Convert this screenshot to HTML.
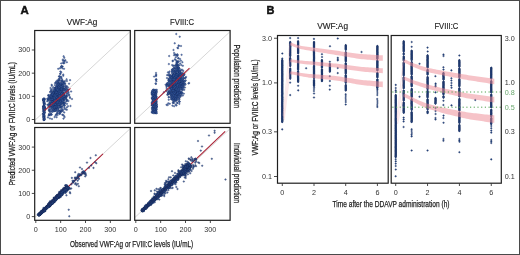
<!DOCTYPE html>
<html><head><meta charset="utf-8"><style>
html,body{margin:0;padding:0;background:#fff;width:520px;height:255px;overflow:hidden;}
svg{display:block;will-change:transform;font-family:"Liberation Sans",sans-serif;}
</style></head><body>
<svg width="520" height="255" viewBox="0 0 520 255" font-family="Liberation Sans, sans-serif"><defs><clipPath id="ctl"><rect x="34.7" y="30.5" width="95.6" height="92.8"/></clipPath><clipPath id="ctr"><rect x="134.7" y="30.5" width="95.4" height="92.8"/></clipPath><clipPath id="cbl"><rect x="34.7" y="127.5" width="95.6" height="92.8"/></clipPath><clipPath id="cbr"><rect x="134.7" y="127.5" width="95.4" height="92.8"/></clipPath><clipPath id="cbleft"><rect x="277.5" y="35.5" width="110.7" height="147.7"/></clipPath><clipPath id="cbright"><rect x="391.2" y="35.5" width="110.1" height="147.7"/></clipPath></defs><rect width="520" height="255" fill="#fff"/><line x1="30.83" y1="124.13" x2="140.17" y2="22.19" stroke="#c4c4c4" stroke-width="0.7" clip-path="url(#ctl)"/>
<line x1="130.83" y1="124.13" x2="240.17" y2="22.19" stroke="#c4c4c4" stroke-width="0.7" clip-path="url(#ctr)"/>
<line x1="30.83" y1="221.23" x2="140.17" y2="119.29" stroke="#c4c4c4" stroke-width="0.7" clip-path="url(#cbl)"/>
<line x1="130.83" y1="221.23" x2="240.17" y2="119.29" stroke="#c4c4c4" stroke-width="0.7" clip-path="url(#cbr)"/>
<line x1="38.4" y1="215" x2="103" y2="153.8" stroke="#aa2236" stroke-width="1.1"/>
<line x1="141.3" y1="211.2" x2="225.2" y2="131.4" stroke="#aa2236" stroke-width="1.1"/>
<g fill="#3f66b0" stroke="#152c60" stroke-width="0.45" fill-opacity="0.82" stroke-opacity="0.82" clip-path="url(#ctl)"><circle cx="51.84" cy="98.01" r="0.78"/><circle cx="58.67" cy="100.54" r="0.78"/><circle cx="53.45" cy="95.67" r="0.78"/><circle cx="59.19" cy="90.43" r="0.78"/><circle cx="62.96" cy="94.14" r="0.78"/><circle cx="63.47" cy="89.57" r="0.78"/><circle cx="64.67" cy="98.51" r="0.78"/><circle cx="54.58" cy="109.39" r="0.78"/><circle cx="53.36" cy="93.82" r="0.78"/><circle cx="62.98" cy="92.73" r="0.78"/><circle cx="58.23" cy="102.16" r="0.78"/><circle cx="62.26" cy="101.03" r="0.78"/><circle cx="57.27" cy="98.9" r="0.78"/><circle cx="64.13" cy="90.09" r="0.78"/><circle cx="61.42" cy="97.75" r="0.78"/><circle cx="59.96" cy="103.91" r="0.78"/><circle cx="61.61" cy="86.57" r="0.78"/><circle cx="59.97" cy="94.11" r="0.78"/><circle cx="61.37" cy="81.84" r="0.78"/><circle cx="60.47" cy="87.04" r="0.78"/><circle cx="63.75" cy="82.35" r="0.78"/><circle cx="55.44" cy="96" r="0.78"/><circle cx="66.36" cy="87.23" r="0.78"/><circle cx="56.46" cy="100.31" r="0.78"/><circle cx="61.83" cy="99.33" r="0.78"/><circle cx="57.3" cy="96.41" r="0.78"/><circle cx="60.94" cy="76.61" r="0.78"/><circle cx="67.4" cy="93.42" r="0.78"/><circle cx="56.03" cy="97.59" r="0.78"/><circle cx="51.14" cy="98.96" r="0.78"/><circle cx="57.42" cy="84.99" r="0.78"/><circle cx="56.79" cy="93.94" r="0.78"/><circle cx="68.24" cy="89.68" r="0.78"/><circle cx="59.68" cy="91.12" r="0.78"/><circle cx="60.6" cy="107.02" r="0.78"/><circle cx="54.41" cy="91.14" r="0.78"/><circle cx="59.11" cy="97.72" r="0.78"/><circle cx="59.55" cy="105.52" r="0.78"/><circle cx="66.41" cy="93.04" r="0.78"/><circle cx="54.35" cy="97.05" r="0.78"/><circle cx="60.08" cy="98.94" r="0.78"/><circle cx="58.72" cy="98.54" r="0.78"/><circle cx="55.43" cy="87.59" r="0.78"/><circle cx="57.18" cy="98.65" r="0.78"/><circle cx="54.72" cy="109.55" r="0.78"/><circle cx="51.68" cy="84.85" r="0.78"/><circle cx="59.23" cy="105.3" r="0.78"/><circle cx="59.76" cy="99.01" r="0.78"/><circle cx="56.55" cy="92.55" r="0.78"/><circle cx="49.24" cy="115" r="0.78"/><circle cx="63.5" cy="104.48" r="0.78"/><circle cx="60.5" cy="87.81" r="0.78"/><circle cx="62.08" cy="98.63" r="0.78"/><circle cx="63.38" cy="102.9" r="0.78"/><circle cx="55.31" cy="96.4" r="0.78"/><circle cx="60.42" cy="103.8" r="0.78"/><circle cx="56.39" cy="97.43" r="0.78"/><circle cx="56.3" cy="103.67" r="0.78"/><circle cx="55.47" cy="110.23" r="0.78"/><circle cx="58.54" cy="92.26" r="0.78"/><circle cx="62.39" cy="99.73" r="0.78"/><circle cx="58.75" cy="94.06" r="0.78"/><circle cx="56.45" cy="99.08" r="0.78"/><circle cx="58.31" cy="87.91" r="0.78"/><circle cx="59.9" cy="93.08" r="0.78"/><circle cx="53.6" cy="96.33" r="0.78"/><circle cx="54.01" cy="105.64" r="0.78"/><circle cx="55.9" cy="107.73" r="0.78"/><circle cx="57.47" cy="86.75" r="0.78"/><circle cx="58.23" cy="91.25" r="0.78"/><circle cx="53.72" cy="103.5" r="0.78"/><circle cx="66.89" cy="81.06" r="0.78"/><circle cx="64.17" cy="94.06" r="0.78"/><circle cx="59.66" cy="97.17" r="0.78"/><circle cx="55.79" cy="108.68" r="0.78"/><circle cx="66.95" cy="103.86" r="0.78"/><circle cx="59.43" cy="95.22" r="0.78"/><circle cx="57.63" cy="94.87" r="0.78"/><circle cx="59.22" cy="95.87" r="0.78"/><circle cx="57.2" cy="110.95" r="0.78"/><circle cx="64.5" cy="94.36" r="0.78"/><circle cx="57.83" cy="95.42" r="0.78"/><circle cx="66.93" cy="101" r="0.78"/><circle cx="53.51" cy="96.97" r="0.78"/><circle cx="60.94" cy="96.32" r="0.78"/><circle cx="55.19" cy="88.53" r="0.78"/><circle cx="65.95" cy="97.9" r="0.78"/><circle cx="56.66" cy="94.23" r="0.78"/><circle cx="55.85" cy="107.91" r="0.78"/><circle cx="60.99" cy="103.55" r="0.78"/><circle cx="63.33" cy="97.79" r="0.78"/><circle cx="51.32" cy="103.68" r="0.78"/><circle cx="56.4" cy="95.11" r="0.78"/><circle cx="49.69" cy="106.94" r="0.78"/><circle cx="58.05" cy="97.95" r="0.78"/><circle cx="56.19" cy="102.96" r="0.78"/><circle cx="58.24" cy="87.03" r="0.78"/><circle cx="53.62" cy="100.95" r="0.78"/><circle cx="58.95" cy="83.65" r="0.78"/><circle cx="58.63" cy="80.7" r="0.78"/><circle cx="60.34" cy="95.41" r="0.78"/><circle cx="65.48" cy="90.35" r="0.78"/><circle cx="47.91" cy="99.39" r="0.78"/><circle cx="54.58" cy="117.08" r="0.78"/><circle cx="57" cy="90.93" r="0.78"/><circle cx="60.64" cy="92.7" r="0.78"/><circle cx="52.49" cy="99.75" r="0.78"/><circle cx="56.06" cy="102.19" r="0.78"/><circle cx="52.89" cy="96.5" r="0.78"/><circle cx="60.96" cy="96.25" r="0.78"/><circle cx="57.03" cy="103.97" r="0.78"/><circle cx="55.96" cy="102.42" r="0.78"/><circle cx="60.71" cy="89.21" r="0.78"/><circle cx="56.38" cy="97.33" r="0.78"/><circle cx="50.01" cy="98.3" r="0.78"/><circle cx="61.68" cy="89.04" r="0.78"/><circle cx="58.36" cy="100.21" r="0.78"/><circle cx="58.19" cy="90.71" r="0.78"/><circle cx="60.93" cy="106.26" r="0.78"/><circle cx="62.9" cy="99.64" r="0.78"/><circle cx="52.07" cy="98.76" r="0.78"/><circle cx="54.93" cy="92.98" r="0.78"/><circle cx="64.8" cy="96.99" r="0.78"/><circle cx="65.1" cy="81.02" r="0.78"/><circle cx="56.31" cy="88.38" r="0.78"/><circle cx="51.23" cy="101.08" r="0.78"/><circle cx="59.2" cy="79.91" r="0.78"/><circle cx="54.07" cy="105.2" r="0.78"/><circle cx="55.05" cy="83.16" r="0.78"/><circle cx="56.65" cy="104.43" r="0.78"/><circle cx="53.28" cy="90.81" r="0.78"/><circle cx="50.77" cy="104.62" r="0.78"/><circle cx="61.53" cy="99.11" r="0.78"/><circle cx="57.55" cy="84.94" r="0.78"/><circle cx="55.71" cy="108.62" r="0.78"/><circle cx="58.77" cy="110.25" r="0.78"/><circle cx="61.31" cy="97.44" r="0.78"/><circle cx="56.32" cy="95.67" r="0.78"/><circle cx="57.88" cy="96.64" r="0.78"/><circle cx="55.54" cy="89.71" r="0.78"/><circle cx="64.36" cy="107.34" r="0.78"/><circle cx="61.23" cy="93.39" r="0.78"/><circle cx="52.33" cy="97.56" r="0.78"/><circle cx="58.77" cy="91.26" r="0.78"/><circle cx="61.63" cy="92.68" r="0.78"/><circle cx="61.45" cy="87.14" r="0.78"/><circle cx="64.55" cy="108.69" r="0.78"/><circle cx="64.02" cy="96.69" r="0.78"/><circle cx="53.78" cy="106.21" r="0.78"/><circle cx="56.96" cy="98.11" r="0.78"/><circle cx="52.94" cy="92.1" r="0.78"/><circle cx="59.09" cy="95.22" r="0.78"/><circle cx="59.03" cy="93.24" r="0.78"/><circle cx="70.1" cy="98.07" r="0.78"/><circle cx="58.48" cy="94.81" r="0.78"/><circle cx="48.34" cy="95.45" r="0.78"/><circle cx="57.2" cy="86.28" r="0.78"/><circle cx="59.26" cy="91.14" r="0.78"/><circle cx="49.88" cy="112.06" r="0.78"/><circle cx="54.71" cy="92.29" r="0.78"/><circle cx="57.67" cy="89.04" r="0.78"/><circle cx="58.54" cy="100.87" r="0.78"/><circle cx="55.13" cy="109.96" r="0.78"/><circle cx="56.58" cy="85.64" r="0.78"/><circle cx="61.39" cy="96.23" r="0.78"/><circle cx="56.08" cy="92.63" r="0.78"/><circle cx="58.73" cy="83.03" r="0.78"/><circle cx="50" cy="104.25" r="0.78"/><circle cx="53.75" cy="97.8" r="0.78"/><circle cx="60.36" cy="98.61" r="0.78"/><circle cx="51.59" cy="91.61" r="0.78"/><circle cx="56.45" cy="101.87" r="0.78"/><circle cx="61.53" cy="93.42" r="0.78"/><circle cx="55.89" cy="96.79" r="0.78"/><circle cx="60.27" cy="88.58" r="0.78"/><circle cx="55.02" cy="87.66" r="0.78"/><circle cx="62.05" cy="109.35" r="0.78"/><circle cx="63.2" cy="93.69" r="0.78"/><circle cx="58.08" cy="100.48" r="0.78"/><circle cx="49.23" cy="97.71" r="0.78"/><circle cx="53.43" cy="94.25" r="0.78"/><circle cx="62.64" cy="93.68" r="0.78"/><circle cx="64.75" cy="103.36" r="0.78"/><circle cx="59.27" cy="95.43" r="0.78"/><circle cx="63.44" cy="96.71" r="0.78"/><circle cx="54.5" cy="98.19" r="0.78"/><circle cx="55.23" cy="108" r="0.78"/><circle cx="56.58" cy="103.78" r="0.78"/><circle cx="58.88" cy="101.25" r="0.78"/><circle cx="51.54" cy="93.21" r="0.78"/><circle cx="63.31" cy="86.25" r="0.78"/><circle cx="62.54" cy="106.07" r="0.78"/><circle cx="50.91" cy="106.21" r="0.78"/><circle cx="51.35" cy="96.8" r="0.78"/><circle cx="58.38" cy="102.61" r="0.78"/><circle cx="53.39" cy="104.64" r="0.78"/><circle cx="60.15" cy="105.83" r="0.78"/><circle cx="58.88" cy="94.13" r="0.78"/><circle cx="53.59" cy="110.88" r="0.78"/><circle cx="67.85" cy="87.4" r="0.78"/><circle cx="57.06" cy="105.32" r="0.78"/><circle cx="53.17" cy="102.2" r="0.78"/><circle cx="56.87" cy="105.43" r="0.78"/><circle cx="50.7" cy="113.97" r="0.78"/><circle cx="52.3" cy="110.62" r="0.78"/><circle cx="60.92" cy="88.27" r="0.78"/><circle cx="58.37" cy="83.65" r="0.78"/><circle cx="54.32" cy="104.94" r="0.78"/><circle cx="66.16" cy="89.37" r="0.78"/><circle cx="61.46" cy="97.89" r="0.78"/><circle cx="60.21" cy="105.14" r="0.78"/><circle cx="62.03" cy="84.03" r="0.78"/><circle cx="62.38" cy="80.07" r="0.78"/><circle cx="63.96" cy="100.2" r="0.78"/><circle cx="57.23" cy="98.38" r="0.78"/><circle cx="66.34" cy="95.91" r="0.78"/><circle cx="52.85" cy="98.33" r="0.78"/><circle cx="57.76" cy="90.69" r="0.78"/><circle cx="54.97" cy="85.14" r="0.78"/><circle cx="56.09" cy="96.58" r="0.78"/><circle cx="61.26" cy="89.74" r="0.78"/><circle cx="65.24" cy="84.03" r="0.78"/><circle cx="53.59" cy="102.3" r="0.78"/><circle cx="57.53" cy="97.48" r="0.78"/><circle cx="55.12" cy="101.46" r="0.78"/><circle cx="55.95" cy="89.59" r="0.78"/><circle cx="53.26" cy="92.41" r="0.78"/><circle cx="59.36" cy="89.51" r="0.78"/><circle cx="51.42" cy="90.46" r="0.78"/><circle cx="57.6" cy="99.66" r="0.78"/><circle cx="58.82" cy="91.34" r="0.78"/><circle cx="53.74" cy="101.03" r="0.78"/><circle cx="52.06" cy="100.89" r="0.78"/><circle cx="49.02" cy="115.21" r="0.78"/><circle cx="66.83" cy="86.16" r="0.78"/><circle cx="50.07" cy="105.55" r="0.78"/><circle cx="64.81" cy="97.24" r="0.78"/><circle cx="60.24" cy="97.88" r="0.78"/><circle cx="58.52" cy="85.68" r="0.78"/><circle cx="52.97" cy="94.09" r="0.78"/><circle cx="61.45" cy="104.32" r="0.78"/><circle cx="65.61" cy="97.3" r="0.78"/><circle cx="52.84" cy="98.69" r="0.78"/><circle cx="56.53" cy="95.53" r="0.78"/><circle cx="61.04" cy="107.81" r="0.78"/><circle cx="59.01" cy="97.82" r="0.78"/><circle cx="66.6" cy="79.3" r="0.78"/><circle cx="56.06" cy="92.12" r="0.78"/><circle cx="62.42" cy="81.27" r="0.78"/><circle cx="52.7" cy="93.49" r="0.78"/><circle cx="65.7" cy="109.34" r="0.78"/><circle cx="53.87" cy="98.4" r="0.78"/><circle cx="50.5" cy="88.03" r="0.78"/><circle cx="58.46" cy="90" r="0.78"/><circle cx="55.5" cy="107.61" r="0.78"/><circle cx="66.26" cy="99.34" r="0.78"/><circle cx="55.72" cy="98.41" r="0.78"/><circle cx="57.43" cy="97.55" r="0.78"/><circle cx="60.13" cy="98.33" r="0.78"/><circle cx="63.95" cy="104.85" r="0.78"/><circle cx="56.4" cy="102.7" r="0.78"/><circle cx="62.01" cy="99.83" r="0.78"/><circle cx="61.34" cy="89.14" r="0.78"/><circle cx="55.33" cy="102.34" r="0.78"/><circle cx="58.91" cy="92.18" r="0.78"/><circle cx="56.32" cy="107.3" r="0.78"/><circle cx="55.98" cy="87.2" r="0.78"/><circle cx="63.27" cy="96.83" r="0.78"/><circle cx="50.9" cy="97.94" r="0.78"/><circle cx="64.16" cy="86.74" r="0.78"/><circle cx="59.98" cy="112.64" r="0.78"/><circle cx="55.41" cy="110.41" r="0.78"/><circle cx="54.74" cy="94.06" r="0.78"/><circle cx="55.42" cy="104.56" r="0.78"/><circle cx="59.12" cy="101.22" r="0.78"/><circle cx="63.26" cy="75.78" r="0.78"/><circle cx="58.36" cy="100.13" r="0.78"/><circle cx="62.14" cy="97.48" r="0.78"/><circle cx="54.62" cy="98.71" r="0.78"/><circle cx="60.2" cy="88.85" r="0.78"/><circle cx="50.67" cy="95.71" r="0.78"/><circle cx="61.23" cy="96.48" r="0.78"/><circle cx="56.81" cy="108.1" r="0.78"/><circle cx="54.92" cy="100.84" r="0.78"/><circle cx="62.87" cy="97.95" r="0.78"/><circle cx="58.97" cy="111" r="0.78"/><circle cx="58.24" cy="94.69" r="0.78"/><circle cx="55.72" cy="82.56" r="0.78"/><circle cx="60.66" cy="111.34" r="0.78"/><circle cx="68" cy="106.2" r="0.78"/><circle cx="53.92" cy="105.79" r="0.78"/><circle cx="56.94" cy="103.69" r="0.78"/><circle cx="56.02" cy="98.94" r="0.78"/><circle cx="58.71" cy="99.83" r="0.78"/><circle cx="60.79" cy="95.86" r="0.78"/><circle cx="63.68" cy="96.27" r="0.78"/><circle cx="52.64" cy="98.46" r="0.78"/><circle cx="63.05" cy="110.85" r="0.78"/><circle cx="52.27" cy="102.72" r="0.78"/><circle cx="58.79" cy="97.5" r="0.78"/><circle cx="63.54" cy="93.08" r="0.78"/><circle cx="61.64" cy="92.6" r="0.78"/><circle cx="51.39" cy="111.62" r="0.78"/><circle cx="53.4" cy="102.31" r="0.78"/><circle cx="55.1" cy="98.57" r="0.78"/><circle cx="57.76" cy="95.06" r="0.78"/><circle cx="63.99" cy="88.57" r="0.78"/><circle cx="51.48" cy="97.43" r="0.78"/><circle cx="58.6" cy="105.43" r="0.78"/><circle cx="60.83" cy="94.66" r="0.78"/><circle cx="60.36" cy="96.07" r="0.78"/><circle cx="59.92" cy="96.12" r="0.78"/><circle cx="64.42" cy="98.93" r="0.78"/><circle cx="61.83" cy="84.46" r="0.78"/><circle cx="61.74" cy="96" r="0.78"/><circle cx="61.3" cy="90.74" r="0.78"/><circle cx="64.83" cy="105.52" r="0.78"/><circle cx="50.4" cy="91.45" r="0.78"/><circle cx="62.77" cy="102.9" r="0.78"/><circle cx="54.58" cy="110.96" r="0.78"/><circle cx="56.65" cy="95.33" r="0.78"/><circle cx="54.11" cy="92.89" r="0.78"/><circle cx="48.14" cy="99.63" r="0.78"/><circle cx="55.61" cy="97.98" r="0.78"/><circle cx="56.18" cy="89.55" r="0.78"/><circle cx="59.14" cy="101.92" r="0.78"/><circle cx="48.62" cy="115.13" r="0.78"/><circle cx="64.41" cy="95.81" r="0.78"/><circle cx="59" cy="96.28" r="0.78"/><circle cx="58.14" cy="89.12" r="0.78"/><circle cx="53.52" cy="100.71" r="0.78"/><circle cx="56.42" cy="87.4" r="0.78"/><circle cx="54.64" cy="88.59" r="0.78"/><circle cx="53.48" cy="108.88" r="0.78"/><circle cx="58.97" cy="90.3" r="0.78"/><circle cx="55.37" cy="107.19" r="0.78"/><circle cx="49.25" cy="110.96" r="0.78"/><circle cx="55.7" cy="100.2" r="0.78"/><circle cx="52.45" cy="102.7" r="0.78"/><circle cx="56.11" cy="114.59" r="0.78"/><circle cx="66.34" cy="96.33" r="0.78"/><circle cx="61.19" cy="92.96" r="0.78"/><circle cx="58.5" cy="86.5" r="0.78"/><circle cx="49.66" cy="98.35" r="0.78"/><circle cx="49.28" cy="110.57" r="0.78"/><circle cx="48.39" cy="106.16" r="0.78"/><circle cx="62.12" cy="89.99" r="0.78"/><circle cx="55.54" cy="90.73" r="0.78"/><circle cx="58.54" cy="93.71" r="0.78"/><circle cx="53.97" cy="100.48" r="0.78"/><circle cx="58.17" cy="96.25" r="0.78"/><circle cx="63.75" cy="99.82" r="0.78"/><circle cx="53.66" cy="100.52" r="0.78"/><circle cx="56.35" cy="95.46" r="0.78"/><circle cx="53.69" cy="97.66" r="0.78"/><circle cx="61.24" cy="99.76" r="0.78"/><circle cx="52.76" cy="97.29" r="0.78"/><circle cx="51.35" cy="102.28" r="0.78"/><circle cx="49.12" cy="113.9" r="0.78"/><circle cx="49.97" cy="103.03" r="0.78"/><circle cx="59.53" cy="98.47" r="0.78"/><circle cx="69.08" cy="83.67" r="0.78"/><circle cx="52.1" cy="101.3" r="0.78"/><circle cx="63.67" cy="81.45" r="0.78"/><circle cx="60.74" cy="86.02" r="0.78"/><circle cx="51.22" cy="105.26" r="0.78"/><circle cx="55.25" cy="104" r="0.78"/><circle cx="56.58" cy="96.73" r="0.78"/><circle cx="57.96" cy="83.46" r="0.78"/><circle cx="66.8" cy="94.84" r="0.78"/><circle cx="50.14" cy="92.23" r="0.78"/><circle cx="58.43" cy="103.41" r="0.78"/><circle cx="56.59" cy="117.19" r="0.78"/><circle cx="54.25" cy="99.84" r="0.78"/><circle cx="59.38" cy="91.38" r="0.78"/><circle cx="62.93" cy="88.05" r="0.78"/><circle cx="58.21" cy="97.52" r="0.78"/><circle cx="59.63" cy="96.5" r="0.78"/><circle cx="62.17" cy="88.21" r="0.78"/><circle cx="47.55" cy="98.99" r="0.78"/><circle cx="65.35" cy="88.22" r="0.78"/><circle cx="66.82" cy="107.45" r="0.78"/><circle cx="60.81" cy="107.03" r="0.78"/><circle cx="60.94" cy="107.22" r="0.78"/><circle cx="51.87" cy="93.97" r="0.78"/><circle cx="56.17" cy="102.37" r="0.78"/><circle cx="53.85" cy="96.88" r="0.78"/><circle cx="55.4" cy="94.7" r="0.78"/><circle cx="62.38" cy="95.12" r="0.78"/><circle cx="56.49" cy="86.95" r="0.78"/><circle cx="59.37" cy="85.73" r="0.78"/><circle cx="47.46" cy="104.75" r="0.78"/><circle cx="56.99" cy="96.37" r="0.78"/><circle cx="57.46" cy="99.84" r="0.78"/><circle cx="52.97" cy="106.51" r="0.78"/><circle cx="57.92" cy="83.27" r="0.78"/><circle cx="66.97" cy="91.33" r="0.78"/><circle cx="51.33" cy="99.49" r="0.78"/><circle cx="51.83" cy="101.33" r="0.78"/><circle cx="54.37" cy="94.79" r="0.78"/><circle cx="61.87" cy="106.75" r="0.78"/><circle cx="67.11" cy="99.79" r="0.78"/><circle cx="60.79" cy="87.69" r="0.78"/><circle cx="55.89" cy="90.09" r="0.78"/><circle cx="54.44" cy="104.85" r="0.78"/><circle cx="61.86" cy="101.94" r="0.78"/><circle cx="57.73" cy="81.86" r="0.78"/><circle cx="62.69" cy="109.46" r="0.78"/><circle cx="63.38" cy="103.08" r="0.78"/><circle cx="56.28" cy="109.42" r="0.78"/><circle cx="60.98" cy="94.74" r="0.78"/><circle cx="61.33" cy="95.49" r="0.78"/><circle cx="65.66" cy="88.43" r="0.78"/><circle cx="52.83" cy="96.51" r="0.78"/><circle cx="61.17" cy="111.49" r="0.78"/><circle cx="56.84" cy="92.5" r="0.78"/><circle cx="53.46" cy="99.39" r="0.78"/><circle cx="60.6" cy="83.79" r="0.78"/><circle cx="57.08" cy="94.75" r="0.78"/><circle cx="51.66" cy="106.36" r="0.78"/><circle cx="53.24" cy="87.36" r="0.78"/><circle cx="51.8" cy="107.11" r="0.78"/><circle cx="63.85" cy="100.87" r="0.78"/><circle cx="67.38" cy="89.13" r="0.78"/><circle cx="61.17" cy="93.74" r="0.78"/><circle cx="63.52" cy="94.1" r="0.78"/><circle cx="55.07" cy="97.58" r="0.78"/><circle cx="57.97" cy="93.44" r="0.78"/><circle cx="60.04" cy="90.97" r="0.78"/><circle cx="52.98" cy="95.41" r="0.78"/><circle cx="54.99" cy="89.27" r="0.78"/><circle cx="59.97" cy="87.04" r="0.78"/><circle cx="55.98" cy="97.59" r="0.78"/><circle cx="51.38" cy="105.5" r="0.78"/><circle cx="61.4" cy="85" r="0.78"/><circle cx="56.16" cy="98.03" r="0.78"/><circle cx="63.02" cy="92.48" r="0.78"/><circle cx="59.04" cy="89.69" r="0.78"/><circle cx="55" cy="105.25" r="0.78"/><circle cx="58.85" cy="93.6" r="0.78"/><circle cx="55.01" cy="110.74" r="0.78"/><circle cx="55.81" cy="91.37" r="0.78"/><circle cx="54.94" cy="101.29" r="0.78"/><circle cx="61.24" cy="96.07" r="0.78"/><circle cx="61.51" cy="91.59" r="0.78"/><circle cx="62.78" cy="103" r="0.78"/><circle cx="49.82" cy="96.68" r="0.78"/><circle cx="54.79" cy="103.13" r="0.78"/><circle cx="55.54" cy="97.6" r="0.78"/><circle cx="59.96" cy="88.77" r="0.78"/><circle cx="55.47" cy="97.13" r="0.78"/><circle cx="54.89" cy="98.44" r="0.78"/><circle cx="60" cy="106.15" r="0.78"/><circle cx="59.71" cy="90.3" r="0.78"/><circle cx="52" cy="97.67" r="0.78"/><circle cx="64.85" cy="83.36" r="0.78"/><circle cx="61.33" cy="103.54" r="0.78"/><circle cx="56.86" cy="88.81" r="0.78"/><circle cx="63.2" cy="82.65" r="0.78"/><circle cx="54.06" cy="97.5" r="0.78"/><circle cx="61.44" cy="107.4" r="0.78"/><circle cx="59.2" cy="85.04" r="0.78"/><circle cx="55.94" cy="88.75" r="0.78"/><circle cx="57.03" cy="91.68" r="0.78"/><circle cx="56.2" cy="88.4" r="0.78"/><circle cx="57.78" cy="101.23" r="0.78"/><circle cx="59.54" cy="91.14" r="0.78"/><circle cx="58.78" cy="91.87" r="0.78"/><circle cx="54.03" cy="102.96" r="0.78"/><circle cx="57.26" cy="101.68" r="0.78"/><circle cx="50.96" cy="89.74" r="0.78"/><circle cx="60.43" cy="87.7" r="0.78"/><circle cx="64.2" cy="82.4" r="0.78"/><circle cx="56.72" cy="113.82" r="0.78"/><circle cx="56.17" cy="95.28" r="0.78"/><circle cx="56.13" cy="100.07" r="0.78"/><circle cx="56.83" cy="97.74" r="0.78"/><circle cx="54.51" cy="99.36" r="0.78"/><circle cx="54.56" cy="98.42" r="0.78"/><circle cx="51.2" cy="114.22" r="0.78"/><circle cx="64.14" cy="89.17" r="0.78"/><circle cx="59.99" cy="84.76" r="0.78"/><circle cx="63.15" cy="89.4" r="0.78"/><circle cx="58.71" cy="86.65" r="0.78"/><circle cx="56.86" cy="104.35" r="0.78"/><circle cx="55.64" cy="104.97" r="0.78"/><circle cx="61.01" cy="89.83" r="0.78"/><circle cx="62.88" cy="86.18" r="0.78"/><circle cx="59.09" cy="94.98" r="0.78"/><circle cx="52.78" cy="109.82" r="0.78"/><circle cx="60.29" cy="74.03" r="0.78"/><circle cx="64.62" cy="102.48" r="0.78"/><circle cx="58.07" cy="88.86" r="0.78"/><circle cx="54.88" cy="106.84" r="0.78"/><circle cx="65.3" cy="88.84" r="0.78"/><circle cx="62.87" cy="95.57" r="0.78"/><circle cx="61.9" cy="85.2" r="0.78"/><circle cx="57.36" cy="89.69" r="0.78"/><circle cx="66.83" cy="109.78" r="0.78"/><circle cx="58.3" cy="104.97" r="0.78"/><circle cx="60.56" cy="94.59" r="0.78"/><circle cx="58.14" cy="90.6" r="0.78"/><circle cx="56.12" cy="81.9" r="0.78"/><circle cx="52.02" cy="94.65" r="0.78"/><circle cx="59.36" cy="97.74" r="0.78"/><circle cx="59.37" cy="97.29" r="0.78"/><circle cx="56.44" cy="97.2" r="0.78"/><circle cx="54.52" cy="88.46" r="0.78"/><circle cx="50.78" cy="97.44" r="0.78"/><circle cx="55.93" cy="97.67" r="0.78"/><circle cx="49.23" cy="108.97" r="0.78"/><circle cx="59.57" cy="113.87" r="0.78"/><circle cx="62.98" cy="96.84" r="0.78"/><circle cx="71.08" cy="91.49" r="0.78"/><circle cx="61.61" cy="97.45" r="0.78"/><circle cx="55.8" cy="92.84" r="0.78"/><circle cx="54.84" cy="91.69" r="0.78"/><circle cx="56.69" cy="89.13" r="0.78"/><circle cx="55.81" cy="103.15" r="0.78"/><circle cx="62.08" cy="97.12" r="0.78"/><circle cx="59.92" cy="100.13" r="0.78"/><circle cx="60.43" cy="96.45" r="0.78"/><circle cx="59.57" cy="91.82" r="0.78"/><circle cx="61.85" cy="89.94" r="0.78"/><circle cx="64.46" cy="95.98" r="0.78"/><circle cx="53.58" cy="93.34" r="0.78"/><circle cx="54.81" cy="99.99" r="0.78"/><circle cx="50.88" cy="97.96" r="0.78"/><circle cx="65.88" cy="86.42" r="0.78"/><circle cx="63.42" cy="98.57" r="0.78"/><circle cx="62.56" cy="86.59" r="0.78"/><circle cx="53.13" cy="92.76" r="0.78"/><circle cx="58.69" cy="95.5" r="0.78"/><circle cx="60.24" cy="80.36" r="0.78"/><circle cx="57.63" cy="98.78" r="0.78"/><circle cx="56.25" cy="99.28" r="0.78"/><circle cx="60.08" cy="96.66" r="0.78"/><circle cx="56.34" cy="94.39" r="0.78"/><circle cx="61.92" cy="94.82" r="0.78"/><circle cx="60.09" cy="89.7" r="0.78"/><circle cx="56.51" cy="95.71" r="0.78"/><circle cx="57.84" cy="93.3" r="0.78"/><circle cx="55.16" cy="98.78" r="0.78"/><circle cx="62.7" cy="87.76" r="0.78"/><circle cx="55.7" cy="100" r="0.78"/><circle cx="58.56" cy="99.22" r="0.78"/><circle cx="55.82" cy="96.8" r="0.78"/><circle cx="51.44" cy="94.27" r="0.78"/><circle cx="61.01" cy="102.69" r="0.78"/><circle cx="56.57" cy="83.85" r="0.78"/><circle cx="60.03" cy="101.91" r="0.78"/><circle cx="59.01" cy="100.07" r="0.78"/><circle cx="49.02" cy="100.41" r="0.78"/><circle cx="52.35" cy="101.26" r="0.78"/><circle cx="56.24" cy="92.44" r="0.78"/><circle cx="54.07" cy="95.79" r="0.78"/><circle cx="51.01" cy="103.41" r="0.78"/><circle cx="60.35" cy="101.66" r="0.78"/><circle cx="55.9" cy="99.76" r="0.78"/><circle cx="61.37" cy="85.13" r="0.78"/><circle cx="54.67" cy="102.57" r="0.78"/><circle cx="57.54" cy="107.94" r="0.78"/><circle cx="52.75" cy="106.58" r="0.78"/><circle cx="56.88" cy="99.99" r="0.78"/><circle cx="62.13" cy="84.76" r="0.78"/><circle cx="56.54" cy="106.01" r="0.78"/><circle cx="55.53" cy="96.75" r="0.78"/><circle cx="59.05" cy="76.47" r="0.78"/><circle cx="57.67" cy="101.21" r="0.78"/><circle cx="61.2" cy="85.32" r="0.78"/><circle cx="58.6" cy="86.98" r="0.78"/><circle cx="55.07" cy="92.6" r="0.78"/><circle cx="58.54" cy="108.82" r="0.78"/><circle cx="69.3" cy="94.85" r="0.78"/><circle cx="55.52" cy="100.3" r="0.78"/><circle cx="57.12" cy="112.86" r="0.78"/><circle cx="57.46" cy="111.55" r="0.78"/><circle cx="58.38" cy="95.95" r="0.78"/><circle cx="56.77" cy="87.28" r="0.78"/><circle cx="64.68" cy="92.1" r="0.78"/><circle cx="55.61" cy="101.62" r="0.78"/><circle cx="53.13" cy="101.36" r="0.78"/><circle cx="56.18" cy="98.94" r="0.78"/><circle cx="57.06" cy="106.46" r="0.78"/><circle cx="56.27" cy="91.43" r="0.78"/><circle cx="57.25" cy="97.52" r="0.78"/><circle cx="50.13" cy="104.22" r="0.78"/><circle cx="55.6" cy="102.97" r="0.78"/><circle cx="59.84" cy="107.1" r="0.78"/><circle cx="66.25" cy="101.37" r="0.78"/><circle cx="61.15" cy="95.37" r="0.78"/><circle cx="58.18" cy="101.08" r="0.78"/><circle cx="64.11" cy="89.48" r="0.78"/><circle cx="63.74" cy="84.06" r="0.78"/><circle cx="64.58" cy="102.94" r="0.78"/><circle cx="62.56" cy="97.53" r="0.78"/><circle cx="56.37" cy="100.62" r="0.78"/><circle cx="61.17" cy="83.57" r="0.78"/><circle cx="58.83" cy="94.9" r="0.78"/><circle cx="59.76" cy="92.9" r="0.78"/><circle cx="59.74" cy="90.65" r="0.78"/><circle cx="59.08" cy="78.83" r="0.78"/><circle cx="48.38" cy="95.15" r="0.78"/><circle cx="53.21" cy="105.63" r="0.78"/><circle cx="47.18" cy="101.24" r="0.78"/><circle cx="58.72" cy="92.89" r="0.78"/><circle cx="57.45" cy="97.87" r="0.78"/><circle cx="48.59" cy="104.43" r="0.78"/><circle cx="63.26" cy="74.54" r="0.78"/><circle cx="61.64" cy="96.94" r="0.78"/><circle cx="57.17" cy="102.62" r="0.78"/><circle cx="64.48" cy="103.8" r="0.78"/><circle cx="64.21" cy="112.46" r="0.78"/><circle cx="50.52" cy="107.65" r="0.78"/><circle cx="61.89" cy="100.66" r="0.78"/><circle cx="59.05" cy="100.57" r="0.78"/><circle cx="58.45" cy="104.69" r="0.78"/><circle cx="62.49" cy="93.42" r="0.78"/><circle cx="54.1" cy="97.66" r="0.78"/><circle cx="53.58" cy="105.7" r="0.78"/><circle cx="51.61" cy="114.64" r="0.78"/><circle cx="54.17" cy="96.65" r="0.78"/><circle cx="57.02" cy="97.59" r="0.78"/><circle cx="50.12" cy="99.69" r="0.78"/><circle cx="51.1" cy="109.42" r="0.78"/><circle cx="60.16" cy="97.74" r="0.78"/><circle cx="55.51" cy="110.49" r="0.78"/><circle cx="60.68" cy="89.78" r="0.78"/><circle cx="48.99" cy="96.42" r="0.78"/><circle cx="54.12" cy="96.32" r="0.78"/><circle cx="53.86" cy="104.69" r="0.78"/><circle cx="56.39" cy="106.88" r="0.78"/><circle cx="57.83" cy="85.17" r="0.78"/><circle cx="62.98" cy="90.22" r="0.78"/><circle cx="56.63" cy="100.86" r="0.78"/><circle cx="58.59" cy="92.4" r="0.78"/><circle cx="60.04" cy="85.06" r="0.78"/><circle cx="59.56" cy="106.83" r="0.78"/><circle cx="54.51" cy="102.2" r="0.78"/><circle cx="62.1" cy="102.19" r="0.78"/><circle cx="60.28" cy="93.96" r="0.78"/><circle cx="56.97" cy="106.75" r="0.78"/><circle cx="58" cy="95.96" r="0.78"/><circle cx="58.62" cy="107.32" r="0.78"/><circle cx="63.33" cy="90.25" r="0.78"/><circle cx="62.95" cy="90.74" r="0.78"/><circle cx="58.85" cy="99.74" r="0.78"/><circle cx="62.45" cy="92.03" r="0.78"/><circle cx="57.15" cy="103.74" r="0.78"/><circle cx="62.98" cy="100.21" r="0.78"/><circle cx="58.85" cy="90.15" r="0.78"/><circle cx="47.46" cy="98.62" r="0.78"/><circle cx="64.09" cy="95.01" r="0.78"/><circle cx="56.86" cy="105.78" r="0.78"/><circle cx="53.29" cy="92.62" r="0.78"/><circle cx="57.25" cy="94.27" r="0.78"/><circle cx="51.96" cy="108.3" r="0.78"/><circle cx="64.59" cy="117.03" r="0.78"/><circle cx="57.6" cy="114.99" r="0.78"/><circle cx="49.88" cy="98.54" r="0.78"/><circle cx="59.65" cy="99.86" r="0.78"/><circle cx="53.93" cy="111.03" r="0.78"/><circle cx="66.52" cy="96.94" r="0.78"/><circle cx="54.58" cy="89.7" r="0.78"/><circle cx="57.11" cy="101.84" r="0.78"/><circle cx="57.3" cy="90.95" r="0.78"/><circle cx="58.75" cy="84.01" r="0.78"/><circle cx="51.88" cy="85.79" r="0.78"/><circle cx="58.62" cy="103.66" r="0.78"/><circle cx="66.01" cy="91.55" r="0.78"/><circle cx="48.78" cy="96.8" r="0.78"/><circle cx="62.65" cy="99.81" r="0.78"/><circle cx="53.94" cy="103.26" r="0.78"/><circle cx="68.68" cy="95.15" r="0.78"/><circle cx="58.83" cy="102.24" r="0.78"/><circle cx="58.1" cy="90.43" r="0.78"/><circle cx="63.04" cy="94.93" r="0.78"/><circle cx="61.35" cy="89.29" r="0.78"/><circle cx="53.38" cy="107.62" r="0.78"/><circle cx="60.78" cy="97.77" r="0.78"/><circle cx="56.42" cy="91.72" r="0.78"/><circle cx="49.86" cy="95" r="0.78"/><circle cx="67.13" cy="96.12" r="0.78"/><circle cx="54.91" cy="103.95" r="0.78"/><circle cx="57.96" cy="84.44" r="0.78"/><circle cx="60.58" cy="89.18" r="0.78"/><circle cx="50.96" cy="94.79" r="0.78"/><circle cx="49.96" cy="106.12" r="0.78"/><circle cx="55.26" cy="97.05" r="0.78"/><circle cx="54.09" cy="104.05" r="0.78"/><circle cx="55.61" cy="115.49" r="0.78"/><circle cx="62.96" cy="96.01" r="0.78"/><circle cx="55.87" cy="94.89" r="0.78"/><circle cx="58.37" cy="108.3" r="0.78"/><circle cx="59.62" cy="102.2" r="0.78"/><circle cx="51.45" cy="103.71" r="0.78"/><circle cx="59.29" cy="93.68" r="0.78"/><circle cx="51.11" cy="114.36" r="0.78"/><circle cx="60.49" cy="112.53" r="0.78"/><circle cx="58.85" cy="102.81" r="0.78"/><circle cx="56.65" cy="103.82" r="0.78"/><circle cx="56.83" cy="80.77" r="0.78"/><circle cx="57.17" cy="103.42" r="0.78"/><circle cx="54.19" cy="96.35" r="0.78"/><circle cx="60.18" cy="101.69" r="0.78"/><circle cx="56.01" cy="103.8" r="0.78"/><circle cx="54.28" cy="95.1" r="0.78"/><circle cx="63.44" cy="83.63" r="0.78"/><circle cx="60.32" cy="101.13" r="0.78"/><circle cx="56.06" cy="91.7" r="0.78"/><circle cx="63.26" cy="95.19" r="0.78"/><circle cx="57.1" cy="92.86" r="0.78"/><circle cx="56.57" cy="95.1" r="0.78"/><circle cx="61.57" cy="78.37" r="0.78"/><circle cx="52.56" cy="108.34" r="0.78"/><circle cx="54.86" cy="100.15" r="0.78"/><circle cx="55.42" cy="107.45" r="0.78"/><circle cx="62.32" cy="114.83" r="0.78"/><circle cx="64.42" cy="98.19" r="0.78"/><circle cx="59.61" cy="82.68" r="0.78"/><circle cx="65.88" cy="90.4" r="0.78"/><circle cx="59.28" cy="87.74" r="0.78"/><circle cx="59.96" cy="93.73" r="0.78"/><circle cx="61.45" cy="98.68" r="0.78"/><circle cx="61.69" cy="80.98" r="0.78"/><circle cx="68.45" cy="100.91" r="0.78"/><circle cx="60.85" cy="85.16" r="0.78"/><circle cx="51.2" cy="100.53" r="0.78"/><circle cx="63.66" cy="97.07" r="0.78"/><circle cx="56.05" cy="95.33" r="0.78"/><circle cx="56.1" cy="97.38" r="0.78"/><circle cx="62.89" cy="92.79" r="0.78"/><circle cx="63.07" cy="83.7" r="0.78"/><circle cx="61.2" cy="97.75" r="0.78"/><circle cx="59.95" cy="113.69" r="0.78"/><circle cx="63.05" cy="114.83" r="0.78"/><circle cx="55.76" cy="109.24" r="0.78"/><circle cx="60.99" cy="104" r="0.78"/><circle cx="55.27" cy="92.25" r="0.78"/><circle cx="54.22" cy="110.26" r="0.78"/><circle cx="62.44" cy="97.52" r="0.78"/><circle cx="59.34" cy="97.41" r="0.78"/><circle cx="51.79" cy="95.52" r="0.78"/><circle cx="58.96" cy="98.78" r="0.78"/><circle cx="57.31" cy="94.3" r="0.78"/><circle cx="53.72" cy="97.29" r="0.78"/><circle cx="61.04" cy="88.78" r="0.78"/><circle cx="56.2" cy="94.82" r="0.78"/><circle cx="47.99" cy="117.38" r="0.78"/><circle cx="52.33" cy="97.41" r="0.78"/><circle cx="65.94" cy="95.97" r="0.78"/><circle cx="49.51" cy="102.53" r="0.78"/><circle cx="57.61" cy="104.02" r="0.78"/><circle cx="61.79" cy="88.53" r="0.78"/><circle cx="60.7" cy="96.24" r="0.78"/><circle cx="50.59" cy="105.81" r="0.78"/><circle cx="55.43" cy="100.29" r="0.78"/><circle cx="57.86" cy="99.04" r="0.78"/><circle cx="59.45" cy="111.21" r="0.78"/><circle cx="55.71" cy="92.24" r="0.78"/><circle cx="51.75" cy="98.7" r="0.78"/><circle cx="62.77" cy="93.58" r="0.78"/><circle cx="60.92" cy="110.67" r="0.78"/><circle cx="61.87" cy="81.41" r="0.78"/><circle cx="55.85" cy="92.3" r="0.78"/><circle cx="60.12" cy="93.5" r="0.78"/><circle cx="57.11" cy="103.64" r="0.78"/><circle cx="60.63" cy="103.15" r="0.78"/><circle cx="50.11" cy="109.86" r="0.78"/><circle cx="60.49" cy="84.62" r="0.78"/><circle cx="55.76" cy="104.38" r="0.78"/><circle cx="52.82" cy="95.51" r="0.78"/><circle cx="59.48" cy="92.34" r="0.78"/><circle cx="56.88" cy="102.59" r="0.78"/><circle cx="57.2" cy="90.18" r="0.78"/><circle cx="62.09" cy="80.35" r="0.78"/><circle cx="51.58" cy="94.85" r="0.78"/><circle cx="59.75" cy="85.27" r="0.78"/><circle cx="60.41" cy="92.48" r="0.78"/><circle cx="58.23" cy="101.16" r="0.78"/><circle cx="62.08" cy="100.65" r="0.78"/><circle cx="50.19" cy="111.49" r="0.78"/><circle cx="50.78" cy="96.3" r="0.78"/><circle cx="60.87" cy="84.97" r="0.78"/><circle cx="60.68" cy="91.57" r="0.78"/><circle cx="68.1" cy="90.19" r="0.78"/><circle cx="61.92" cy="87.65" r="0.78"/><circle cx="52.64" cy="101.7" r="0.78"/><circle cx="62.06" cy="92.52" r="0.78"/><circle cx="58.17" cy="81.19" r="0.78"/><circle cx="49.53" cy="103.92" r="0.78"/><circle cx="69.73" cy="97.05" r="0.78"/><circle cx="58.44" cy="101.03" r="0.78"/><circle cx="60.61" cy="98.9" r="0.78"/><circle cx="59.3" cy="103.37" r="0.78"/><circle cx="65.88" cy="98.32" r="0.78"/><circle cx="57.38" cy="108.51" r="0.78"/><circle cx="62.63" cy="101.61" r="0.78"/><circle cx="51.94" cy="101.33" r="0.78"/><circle cx="50.19" cy="101.48" r="0.78"/><circle cx="65.15" cy="85.62" r="0.78"/><circle cx="64.51" cy="96.6" r="0.78"/><circle cx="60.18" cy="95.8" r="0.78"/><circle cx="58.13" cy="99.76" r="0.78"/><circle cx="60.34" cy="86.45" r="0.78"/><circle cx="52.51" cy="111.89" r="0.78"/><circle cx="64.52" cy="98.89" r="0.78"/><circle cx="62.08" cy="87.7" r="0.78"/><circle cx="62.03" cy="83.47" r="0.78"/><circle cx="59.6" cy="95.61" r="0.78"/><circle cx="62.44" cy="97.24" r="0.78"/><circle cx="60.84" cy="91.89" r="0.78"/><circle cx="60.78" cy="98.78" r="0.78"/><circle cx="53.31" cy="92.55" r="0.78"/><circle cx="59.13" cy="102.69" r="0.78"/><circle cx="68.24" cy="91.84" r="0.78"/><circle cx="55.04" cy="97.67" r="0.78"/><circle cx="55.69" cy="106.32" r="0.78"/><circle cx="62.88" cy="89.44" r="0.78"/><circle cx="62.5" cy="94.05" r="0.78"/><circle cx="61.54" cy="90.86" r="0.78"/><circle cx="48.84" cy="104.67" r="0.78"/><circle cx="61.39" cy="88.24" r="0.78"/><circle cx="52.9" cy="93.88" r="0.78"/><circle cx="53.58" cy="97.75" r="0.78"/><circle cx="61.4" cy="89.68" r="0.78"/><circle cx="57.76" cy="89.86" r="0.78"/><circle cx="61.85" cy="93.96" r="0.78"/><circle cx="70.07" cy="80.15" r="0.78"/><circle cx="62.74" cy="85.71" r="0.78"/><circle cx="61.37" cy="94.49" r="0.78"/><circle cx="52.88" cy="99.26" r="0.78"/><circle cx="54.74" cy="96.42" r="0.78"/><circle cx="56.88" cy="82.92" r="0.78"/><circle cx="55.79" cy="94.06" r="0.78"/><circle cx="51.31" cy="104.79" r="0.78"/><circle cx="53.56" cy="102.72" r="0.78"/><circle cx="56.56" cy="97.33" r="0.78"/><circle cx="54.58" cy="90.46" r="0.78"/><circle cx="49.89" cy="103.37" r="0.78"/><circle cx="52.32" cy="93.08" r="0.78"/><circle cx="61.22" cy="88.06" r="0.78"/><circle cx="59.02" cy="91.18" r="0.78"/><circle cx="60.6" cy="110.31" r="0.78"/><circle cx="62.03" cy="99.87" r="0.78"/><circle cx="54.54" cy="107.85" r="0.78"/><circle cx="61.23" cy="93.93" r="0.78"/><circle cx="49.57" cy="105.97" r="0.78"/><circle cx="68.57" cy="92.89" r="0.78"/><circle cx="63.21" cy="96.66" r="0.78"/><circle cx="55.48" cy="104.52" r="0.78"/><circle cx="53.03" cy="93.74" r="0.78"/><circle cx="59.32" cy="97.28" r="0.78"/><circle cx="47.96" cy="100.77" r="0.78"/><circle cx="52.45" cy="108.29" r="0.78"/><circle cx="61.6" cy="93.84" r="0.78"/><circle cx="60.61" cy="83.2" r="0.78"/><circle cx="55.63" cy="95.62" r="0.78"/><circle cx="61.85" cy="98.13" r="0.78"/><circle cx="52.28" cy="98.93" r="0.78"/><circle cx="57.3" cy="109.19" r="0.78"/><circle cx="54.54" cy="100.69" r="0.78"/><circle cx="52.46" cy="104.91" r="0.78"/><circle cx="61.18" cy="88.64" r="0.78"/><circle cx="51.73" cy="105.38" r="0.78"/><circle cx="63.87" cy="115.82" r="0.78"/><circle cx="53.73" cy="104.57" r="0.78"/><circle cx="66.53" cy="100.16" r="0.78"/><circle cx="51.92" cy="99.31" r="0.78"/><circle cx="58.31" cy="113.19" r="0.78"/><circle cx="53.81" cy="90.12" r="0.78"/><circle cx="51.35" cy="97.06" r="0.78"/><circle cx="57.55" cy="101.91" r="0.78"/><circle cx="59.72" cy="104.32" r="0.78"/><circle cx="52.39" cy="94.28" r="0.78"/><circle cx="62.6" cy="100.61" r="0.78"/><circle cx="54.22" cy="95.64" r="0.78"/><circle cx="57.82" cy="99.02" r="0.78"/><circle cx="59.39" cy="96.88" r="0.78"/><circle cx="61.76" cy="88.3" r="0.78"/><circle cx="49" cy="97.82" r="0.78"/><circle cx="64.02" cy="105.46" r="0.78"/><circle cx="61.44" cy="89.78" r="0.78"/><circle cx="55.85" cy="95.95" r="0.78"/><circle cx="51.74" cy="103.65" r="0.78"/><circle cx="52.19" cy="88.91" r="0.78"/><circle cx="50.59" cy="99.55" r="0.78"/><circle cx="61.47" cy="88.99" r="0.78"/><circle cx="54.56" cy="107.64" r="0.78"/><circle cx="50.17" cy="115.19" r="0.78"/><circle cx="55.35" cy="96.14" r="0.78"/><circle cx="63.92" cy="104.29" r="0.78"/><circle cx="55.62" cy="99.03" r="0.78"/><circle cx="54.45" cy="98.87" r="0.78"/><circle cx="61.99" cy="111.16" r="0.78"/><circle cx="61.42" cy="86.79" r="0.78"/><circle cx="56.43" cy="106.97" r="0.78"/><circle cx="54.64" cy="97.58" r="0.78"/><circle cx="48.7" cy="109.97" r="0.78"/><circle cx="51.49" cy="99.59" r="0.78"/><circle cx="56.42" cy="92.28" r="0.78"/><circle cx="55.91" cy="100.36" r="0.78"/><circle cx="58.21" cy="104.26" r="0.78"/><circle cx="59.94" cy="98.3" r="0.78"/><circle cx="57.82" cy="102.15" r="0.78"/><circle cx="59.27" cy="93.57" r="0.78"/><circle cx="58.16" cy="79.86" r="0.78"/><circle cx="54.1" cy="103.94" r="0.78"/><circle cx="52.6" cy="99.26" r="0.78"/><circle cx="54.2" cy="98.58" r="0.78"/><circle cx="54.96" cy="106.81" r="0.78"/><circle cx="52.57" cy="94.11" r="0.78"/><circle cx="65.44" cy="60.23" r="0.78"/><circle cx="60.96" cy="67.3" r="0.78"/><circle cx="58.22" cy="68.81" r="0.78"/><circle cx="61.22" cy="63.41" r="0.78"/><circle cx="60.37" cy="71.49" r="0.78"/><circle cx="62.67" cy="66.46" r="0.78"/><circle cx="64.24" cy="60.86" r="0.78"/><circle cx="62.44" cy="68.29" r="0.78"/><circle cx="58.62" cy="81.18" r="0.78"/><circle cx="63.43" cy="63.28" r="0.78"/><circle cx="59.43" cy="76.16" r="0.78"/><circle cx="61.24" cy="77.64" r="0.78"/><circle cx="59.55" cy="78.49" r="0.78"/><circle cx="66.85" cy="62.24" r="0.78"/><circle cx="64.01" cy="68.81" r="0.78"/><circle cx="61.64" cy="66.22" r="0.78"/><circle cx="61.36" cy="66.39" r="0.78"/><circle cx="61.32" cy="72.21" r="0.78"/><circle cx="59.94" cy="68.36" r="0.78"/><circle cx="61.71" cy="66.76" r="0.78"/><circle cx="59.71" cy="76.99" r="0.78"/><circle cx="64.45" cy="62.94" r="0.78"/><circle cx="62.97" cy="60.7" r="0.78"/><circle cx="60.36" cy="73.55" r="0.78"/><circle cx="43.35" cy="100.11" r="0.78"/><circle cx="43.2" cy="108.31" r="0.78"/><circle cx="43.44" cy="109.37" r="0.78"/><circle cx="44.1" cy="117.78" r="0.78"/><circle cx="43.98" cy="116.49" r="0.78"/><circle cx="43.91" cy="110.25" r="0.78"/><circle cx="44.1" cy="99.61" r="0.78"/><circle cx="44.21" cy="107.74" r="0.78"/><circle cx="43.26" cy="106.57" r="0.78"/><circle cx="43.89" cy="119.9" r="0.78"/><circle cx="43.71" cy="113.14" r="0.78"/><circle cx="43.57" cy="107.21" r="0.78"/><circle cx="43.81" cy="106.34" r="0.78"/><circle cx="43.96" cy="115" r="0.78"/><circle cx="43.91" cy="100.56" r="0.78"/><circle cx="43.49" cy="116.07" r="0.78"/><circle cx="43.83" cy="112.92" r="0.78"/><circle cx="44.71" cy="107.86" r="0.78"/><circle cx="43.63" cy="113.77" r="0.78"/><circle cx="43.41" cy="107.05" r="0.78"/><circle cx="44.1" cy="101.58" r="0.78"/><circle cx="44.21" cy="107.46" r="0.78"/><circle cx="44.16" cy="99.6" r="0.78"/><circle cx="43.61" cy="100.37" r="0.78"/><circle cx="44.35" cy="107.94" r="0.78"/><circle cx="43.73" cy="116.24" r="0.78"/><circle cx="43.6" cy="102.88" r="0.78"/><circle cx="43.79" cy="109.27" r="0.78"/><circle cx="43.96" cy="119.55" r="0.78"/><circle cx="44.25" cy="116.29" r="0.78"/><circle cx="44.22" cy="117.89" r="0.78"/><circle cx="43.99" cy="113.01" r="0.78"/><circle cx="44.33" cy="111.17" r="0.78"/><circle cx="44.03" cy="111.01" r="0.78"/><circle cx="44.31" cy="111.43" r="0.78"/><circle cx="43.51" cy="108.5" r="0.78"/><circle cx="43.45" cy="106.25" r="0.78"/><circle cx="44.27" cy="103.63" r="0.78"/><circle cx="43.51" cy="99.9" r="0.78"/><circle cx="43.89" cy="106.44" r="0.78"/><circle cx="43.97" cy="115.05" r="0.78"/><circle cx="43.83" cy="110.38" r="0.78"/><circle cx="43.84" cy="102.03" r="0.78"/><circle cx="44.49" cy="116.01" r="0.78"/><circle cx="43.11" cy="99.39" r="0.78"/><circle cx="44.31" cy="118.52" r="0.78"/><circle cx="44.8" cy="112.51" r="0.78"/><circle cx="44.01" cy="110.46" r="0.78"/><circle cx="43.99" cy="107.37" r="0.78"/><circle cx="44.25" cy="116.24" r="0.78"/><circle cx="44.64" cy="98.65" r="0.78"/><circle cx="43.58" cy="98.84" r="0.78"/><circle cx="44.03" cy="109.69" r="0.78"/><circle cx="43.93" cy="104.89" r="0.78"/><circle cx="44.2" cy="107.13" r="0.78"/><circle cx="44.06" cy="110.04" r="0.78"/><circle cx="44.23" cy="99.44" r="0.78"/><circle cx="43.85" cy="119.64" r="0.78"/><circle cx="44.02" cy="113.07" r="0.78"/><circle cx="43.77" cy="100.63" r="0.78"/><circle cx="43.77" cy="114.38" r="0.78"/><circle cx="43.95" cy="109.96" r="0.78"/><circle cx="43.95" cy="113.27" r="0.78"/><circle cx="43.59" cy="114.36" r="0.78"/><circle cx="44.55" cy="119.81" r="0.78"/><circle cx="43.95" cy="101.05" r="0.78"/><circle cx="43.52" cy="119.92" r="0.78"/><circle cx="44.39" cy="108.75" r="0.78"/><circle cx="43.74" cy="102.82" r="0.78"/><circle cx="44.18" cy="106.53" r="0.78"/><circle cx="43.99" cy="106.33" r="0.78"/><circle cx="44.09" cy="117.75" r="0.78"/><circle cx="44.06" cy="109.77" r="0.78"/><circle cx="43.8" cy="99.93" r="0.78"/><circle cx="44.01" cy="113.87" r="0.78"/><circle cx="44.71" cy="109.2" r="0.78"/><circle cx="43.22" cy="116.01" r="0.78"/><circle cx="44.02" cy="99.5" r="0.78"/><circle cx="44.15" cy="117.1" r="0.78"/><circle cx="43.63" cy="117.7" r="0.78"/><circle cx="43.52" cy="98.68" r="0.78"/><circle cx="44.76" cy="108.75" r="0.78"/><circle cx="43.87" cy="101.11" r="0.78"/><circle cx="44.73" cy="109.88" r="0.78"/><circle cx="44.19" cy="100.42" r="0.78"/><circle cx="44.03" cy="117.57" r="0.78"/><circle cx="44.17" cy="102.45" r="0.78"/><circle cx="44.22" cy="112.87" r="0.78"/><circle cx="44.41" cy="112.55" r="0.78"/><circle cx="44.15" cy="105.4" r="0.78"/><circle cx="44.05" cy="103.11" r="0.78"/><circle cx="44.06" cy="118.18" r="0.78"/><circle cx="44.47" cy="99.36" r="0.78"/><circle cx="44.29" cy="103.96" r="0.78"/><circle cx="43.65" cy="105.52" r="0.78"/><circle cx="43.78" cy="111.06" r="0.78"/><circle cx="44.12" cy="106.44" r="0.78"/><circle cx="43.78" cy="100.89" r="0.78"/><circle cx="43.87" cy="110.76" r="0.78"/><circle cx="43.67" cy="114.07" r="0.78"/><circle cx="43.91" cy="113.65" r="0.78"/><circle cx="44.15" cy="109.03" r="0.78"/><circle cx="44.35" cy="105.1" r="0.78"/><circle cx="44" cy="98.72" r="0.78"/><circle cx="44.73" cy="109.96" r="0.78"/><circle cx="43.97" cy="112.01" r="0.78"/><circle cx="45.12" cy="107.99" r="0.78"/><circle cx="44.35" cy="119.12" r="0.78"/><circle cx="44.17" cy="102.85" r="0.78"/><circle cx="43.83" cy="116" r="0.78"/><circle cx="43.01" cy="113.95" r="0.78"/><circle cx="43.95" cy="117.84" r="0.78"/><circle cx="44.06" cy="118.38" r="0.78"/><circle cx="44.67" cy="103.59" r="0.78"/><circle cx="43.52" cy="118.32" r="0.78"/><circle cx="44.67" cy="107.17" r="0.78"/><circle cx="43.91" cy="113.1" r="0.78"/><circle cx="44.25" cy="118.99" r="0.78"/><circle cx="43.11" cy="111.3" r="0.78"/><circle cx="44.05" cy="111.03" r="0.78"/><circle cx="43.88" cy="100.02" r="0.78"/><circle cx="44.24" cy="111.33" r="0.78"/><circle cx="44.03" cy="103.68" r="0.78"/><circle cx="43.6" cy="106.85" r="0.78"/><circle cx="44.33" cy="106.62" r="0.78"/><circle cx="44.24" cy="119.43" r="0.78"/><circle cx="44.21" cy="112.21" r="0.78"/><circle cx="44.35" cy="114.09" r="0.78"/><circle cx="44.39" cy="102.21" r="0.78"/><circle cx="43.99" cy="105.04" r="0.78"/><circle cx="43.52" cy="117.37" r="0.78"/><circle cx="43.52" cy="101.09" r="0.78"/><circle cx="44.47" cy="118.99" r="0.78"/><circle cx="44.25" cy="107.69" r="0.78"/><circle cx="44.04" cy="106.88" r="0.78"/><circle cx="43.85" cy="109.56" r="0.78"/><circle cx="44.01" cy="108.03" r="0.78"/><circle cx="44.01" cy="108.62" r="0.78"/><circle cx="43.88" cy="107.62" r="0.78"/><circle cx="43.76" cy="113.59" r="0.78"/><circle cx="44.76" cy="104.44" r="0.78"/><circle cx="44.08" cy="102.08" r="0.78"/><circle cx="43.79" cy="107.84" r="0.78"/><circle cx="43.54" cy="100.4" r="0.78"/><circle cx="43.75" cy="108.12" r="0.78"/><circle cx="44.25" cy="109.13" r="0.78"/><circle cx="44.27" cy="115.36" r="0.78"/><circle cx="43.92" cy="100.84" r="0.78"/><circle cx="44.02" cy="107.03" r="0.78"/><circle cx="43.89" cy="115.28" r="0.78"/><circle cx="50" cy="118.5" r="0.78"/><circle cx="52" cy="119" r="0.78"/><circle cx="63.5" cy="118.6" r="0.78"/><circle cx="70.5" cy="106" r="0.78"/><circle cx="72" cy="99" r="0.78"/><circle cx="63.6" cy="56.3" r="0.78"/><circle cx="64.3" cy="57.8" r="0.78"/><circle cx="62.9" cy="59.6" r="0.78"/><circle cx="64.6" cy="61.2" r="0.78"/><circle cx="63.2" cy="62.8" r="0.78"/></g>
<g fill="#3f66b0" stroke="#152c60" stroke-width="0.45" fill-opacity="0.82" stroke-opacity="0.82" clip-path="url(#ctr)"><circle cx="175.97" cy="74.03" r="0.78"/><circle cx="175.02" cy="95.72" r="0.78"/><circle cx="175.7" cy="87.35" r="0.78"/><circle cx="174.18" cy="106.29" r="0.78"/><circle cx="173.07" cy="77.19" r="0.78"/><circle cx="179.81" cy="82.76" r="0.78"/><circle cx="172.61" cy="91.95" r="0.78"/><circle cx="180.34" cy="81.79" r="0.78"/><circle cx="169.49" cy="71.51" r="0.78"/><circle cx="172.21" cy="75.46" r="0.78"/><circle cx="179.81" cy="84.91" r="0.78"/><circle cx="175.05" cy="87.09" r="0.78"/><circle cx="173.2" cy="83.15" r="0.78"/><circle cx="176.57" cy="93.03" r="0.78"/><circle cx="171.22" cy="92.93" r="0.78"/><circle cx="175.95" cy="86.91" r="0.78"/><circle cx="166.87" cy="84.24" r="0.78"/><circle cx="174.19" cy="81.72" r="0.78"/><circle cx="172.95" cy="88.96" r="0.78"/><circle cx="177.26" cy="92.28" r="0.78"/><circle cx="179.38" cy="84.55" r="0.78"/><circle cx="172.2" cy="88.05" r="0.78"/><circle cx="182.81" cy="81.08" r="0.78"/><circle cx="174.45" cy="71.3" r="0.78"/><circle cx="168.33" cy="74.99" r="0.78"/><circle cx="166.2" cy="90.89" r="0.78"/><circle cx="181.61" cy="88.02" r="0.78"/><circle cx="174.4" cy="98.31" r="0.78"/><circle cx="173.22" cy="84.5" r="0.78"/><circle cx="172.41" cy="91.78" r="0.78"/><circle cx="170.96" cy="95.91" r="0.78"/><circle cx="180.26" cy="92.95" r="0.78"/><circle cx="175.93" cy="78.52" r="0.78"/><circle cx="183.39" cy="82.34" r="0.78"/><circle cx="174.99" cy="85.17" r="0.78"/><circle cx="167.15" cy="75.13" r="0.78"/><circle cx="178.85" cy="88.27" r="0.78"/><circle cx="173.76" cy="93.22" r="0.78"/><circle cx="175.22" cy="79.67" r="0.78"/><circle cx="179.32" cy="101.75" r="0.78"/><circle cx="175" cy="81.38" r="0.78"/><circle cx="180.82" cy="82.17" r="0.78"/><circle cx="176.03" cy="81.86" r="0.78"/><circle cx="173.25" cy="77.63" r="0.78"/><circle cx="177.58" cy="87.76" r="0.78"/><circle cx="173.43" cy="84.18" r="0.78"/><circle cx="178.79" cy="98.95" r="0.78"/><circle cx="179.17" cy="89.47" r="0.78"/><circle cx="175.74" cy="88.84" r="0.78"/><circle cx="178.56" cy="82.01" r="0.78"/><circle cx="178.71" cy="71.27" r="0.78"/><circle cx="174.82" cy="83.19" r="0.78"/><circle cx="179.98" cy="76.35" r="0.78"/><circle cx="174.34" cy="92.57" r="0.78"/><circle cx="178.41" cy="83.73" r="0.78"/><circle cx="171.43" cy="98.99" r="0.78"/><circle cx="175.74" cy="90.62" r="0.78"/><circle cx="176.87" cy="91.52" r="0.78"/><circle cx="172.56" cy="86.08" r="0.78"/><circle cx="174.07" cy="85.88" r="0.78"/><circle cx="173.35" cy="89.88" r="0.78"/><circle cx="177.98" cy="92.3" r="0.78"/><circle cx="173.39" cy="77.6" r="0.78"/><circle cx="177.26" cy="88.43" r="0.78"/><circle cx="182.2" cy="83.19" r="0.78"/><circle cx="177.56" cy="81.7" r="0.78"/><circle cx="169.74" cy="77.77" r="0.78"/><circle cx="177.13" cy="70.96" r="0.78"/><circle cx="178.91" cy="94.7" r="0.78"/><circle cx="174.7" cy="84.55" r="0.78"/><circle cx="180.1" cy="86.7" r="0.78"/><circle cx="176.52" cy="100.6" r="0.78"/><circle cx="178.11" cy="76" r="0.78"/><circle cx="174.17" cy="93.49" r="0.78"/><circle cx="173.47" cy="89.61" r="0.78"/><circle cx="174.61" cy="87.6" r="0.78"/><circle cx="175.81" cy="88.32" r="0.78"/><circle cx="178.06" cy="83.81" r="0.78"/><circle cx="176.17" cy="98.32" r="0.78"/><circle cx="174.31" cy="89.55" r="0.78"/><circle cx="175.93" cy="87.12" r="0.78"/><circle cx="176.44" cy="95.24" r="0.78"/><circle cx="169.1" cy="92.09" r="0.78"/><circle cx="172.57" cy="88.17" r="0.78"/><circle cx="172.52" cy="86.97" r="0.78"/><circle cx="173.93" cy="99.83" r="0.78"/><circle cx="174.48" cy="88.61" r="0.78"/><circle cx="174.94" cy="83.22" r="0.78"/><circle cx="172.93" cy="76.31" r="0.78"/><circle cx="178.99" cy="80.93" r="0.78"/><circle cx="177.62" cy="74.58" r="0.78"/><circle cx="169.23" cy="84.99" r="0.78"/><circle cx="175.8" cy="86.34" r="0.78"/><circle cx="173.86" cy="65.57" r="0.78"/><circle cx="182.84" cy="84.19" r="0.78"/><circle cx="173.7" cy="89.87" r="0.78"/><circle cx="174.24" cy="85.52" r="0.78"/><circle cx="176.82" cy="75.43" r="0.78"/><circle cx="174.28" cy="95.44" r="0.78"/><circle cx="176.14" cy="77.76" r="0.78"/><circle cx="182.57" cy="72.97" r="0.78"/><circle cx="177.43" cy="74.3" r="0.78"/><circle cx="179.35" cy="83.89" r="0.78"/><circle cx="179.48" cy="92.87" r="0.78"/><circle cx="171.48" cy="94.51" r="0.78"/><circle cx="182.56" cy="85.91" r="0.78"/><circle cx="179.26" cy="73.28" r="0.78"/><circle cx="180.29" cy="78.11" r="0.78"/><circle cx="173.02" cy="75.94" r="0.78"/><circle cx="179.45" cy="82.41" r="0.78"/><circle cx="178.15" cy="68.05" r="0.78"/><circle cx="173.7" cy="85.01" r="0.78"/><circle cx="184.32" cy="89.82" r="0.78"/><circle cx="178.39" cy="82.67" r="0.78"/><circle cx="174.68" cy="88.15" r="0.78"/><circle cx="177.27" cy="75.56" r="0.78"/><circle cx="180.02" cy="70.92" r="0.78"/><circle cx="181.01" cy="78.28" r="0.78"/><circle cx="177.28" cy="94.42" r="0.78"/><circle cx="179.78" cy="93.28" r="0.78"/><circle cx="182.45" cy="79.9" r="0.78"/><circle cx="170.51" cy="94.84" r="0.78"/><circle cx="174.17" cy="81.08" r="0.78"/><circle cx="171.55" cy="97.61" r="0.78"/><circle cx="175.99" cy="88.35" r="0.78"/><circle cx="182.34" cy="79.94" r="0.78"/><circle cx="177.88" cy="91.16" r="0.78"/><circle cx="172.19" cy="77.03" r="0.78"/><circle cx="175.33" cy="75.58" r="0.78"/><circle cx="180.45" cy="70.95" r="0.78"/><circle cx="173.65" cy="86.33" r="0.78"/><circle cx="175.61" cy="83.52" r="0.78"/><circle cx="177.26" cy="83.31" r="0.78"/><circle cx="168.63" cy="80.31" r="0.78"/><circle cx="177.66" cy="96.94" r="0.78"/><circle cx="177.7" cy="80.19" r="0.78"/><circle cx="178.72" cy="77.49" r="0.78"/><circle cx="171.45" cy="95.22" r="0.78"/><circle cx="172.18" cy="96.79" r="0.78"/><circle cx="173.35" cy="87.05" r="0.78"/><circle cx="177.65" cy="68.34" r="0.78"/><circle cx="176.64" cy="78.6" r="0.78"/><circle cx="176.01" cy="89.52" r="0.78"/><circle cx="183.23" cy="84.16" r="0.78"/><circle cx="179.31" cy="97.99" r="0.78"/><circle cx="173.99" cy="71.7" r="0.78"/><circle cx="172.94" cy="90.11" r="0.78"/><circle cx="183.43" cy="78.36" r="0.78"/><circle cx="173.84" cy="95.91" r="0.78"/><circle cx="181.65" cy="83.32" r="0.78"/><circle cx="181.22" cy="93.28" r="0.78"/><circle cx="174.15" cy="78.17" r="0.78"/><circle cx="175.71" cy="71.31" r="0.78"/><circle cx="176.9" cy="74.01" r="0.78"/><circle cx="172.79" cy="78.54" r="0.78"/><circle cx="172.69" cy="74.78" r="0.78"/><circle cx="173.6" cy="94.8" r="0.78"/><circle cx="178.06" cy="96.05" r="0.78"/><circle cx="173.98" cy="86.46" r="0.78"/><circle cx="175.73" cy="74.69" r="0.78"/><circle cx="174.14" cy="82.93" r="0.78"/><circle cx="170.81" cy="77.83" r="0.78"/><circle cx="180.12" cy="97.09" r="0.78"/><circle cx="166.43" cy="86.84" r="0.78"/><circle cx="173.04" cy="88.4" r="0.78"/><circle cx="178.59" cy="80.4" r="0.78"/><circle cx="173.07" cy="65.9" r="0.78"/><circle cx="178.88" cy="77.06" r="0.78"/><circle cx="181.46" cy="73.95" r="0.78"/><circle cx="172.29" cy="87.33" r="0.78"/><circle cx="176.73" cy="84.87" r="0.78"/><circle cx="171.96" cy="76.79" r="0.78"/><circle cx="178.36" cy="80.5" r="0.78"/><circle cx="175.09" cy="98.1" r="0.78"/><circle cx="177.36" cy="75.37" r="0.78"/><circle cx="181.94" cy="75.74" r="0.78"/><circle cx="178.07" cy="81.94" r="0.78"/><circle cx="181.89" cy="77.71" r="0.78"/><circle cx="178.93" cy="80.14" r="0.78"/><circle cx="170.89" cy="88.78" r="0.78"/><circle cx="175.52" cy="99.59" r="0.78"/><circle cx="178.39" cy="67.98" r="0.78"/><circle cx="170.09" cy="83.84" r="0.78"/><circle cx="181.34" cy="84.37" r="0.78"/><circle cx="176.3" cy="83.24" r="0.78"/><circle cx="177.61" cy="82.32" r="0.78"/><circle cx="172.47" cy="80.94" r="0.78"/><circle cx="175.5" cy="93.04" r="0.78"/><circle cx="177.55" cy="79.81" r="0.78"/><circle cx="174.71" cy="82.85" r="0.78"/><circle cx="176.29" cy="84" r="0.78"/><circle cx="167.33" cy="84.97" r="0.78"/><circle cx="181.69" cy="82.46" r="0.78"/><circle cx="171.04" cy="92.99" r="0.78"/><circle cx="167.08" cy="83.92" r="0.78"/><circle cx="171.98" cy="85.57" r="0.78"/><circle cx="172.59" cy="83.54" r="0.78"/><circle cx="178.67" cy="74.97" r="0.78"/><circle cx="172.77" cy="76.53" r="0.78"/><circle cx="177.66" cy="74.55" r="0.78"/><circle cx="171.97" cy="85.73" r="0.78"/><circle cx="185.4" cy="77.58" r="0.78"/><circle cx="178.69" cy="74.45" r="0.78"/><circle cx="183.6" cy="86.14" r="0.78"/><circle cx="171.61" cy="88.73" r="0.78"/><circle cx="178.95" cy="68.15" r="0.78"/><circle cx="171.47" cy="99.21" r="0.78"/><circle cx="178.28" cy="84.29" r="0.78"/><circle cx="178.81" cy="83.05" r="0.78"/><circle cx="169.2" cy="93.6" r="0.78"/><circle cx="171.3" cy="84.63" r="0.78"/><circle cx="171.53" cy="78.57" r="0.78"/><circle cx="169.77" cy="103.75" r="0.78"/><circle cx="173.68" cy="74.33" r="0.78"/><circle cx="172.08" cy="83.12" r="0.78"/><circle cx="169.82" cy="91.62" r="0.78"/><circle cx="176.93" cy="74.37" r="0.78"/><circle cx="178.25" cy="83.08" r="0.78"/><circle cx="170.47" cy="87.48" r="0.78"/><circle cx="172.5" cy="105.61" r="0.78"/><circle cx="176.49" cy="75.96" r="0.78"/><circle cx="175.03" cy="83.57" r="0.78"/><circle cx="172.75" cy="89.93" r="0.78"/><circle cx="179.15" cy="84.73" r="0.78"/><circle cx="179.86" cy="73.17" r="0.78"/><circle cx="178.32" cy="87.67" r="0.78"/><circle cx="175.01" cy="84.97" r="0.78"/><circle cx="183.42" cy="88.01" r="0.78"/><circle cx="181.6" cy="94.18" r="0.78"/><circle cx="173.68" cy="93.12" r="0.78"/><circle cx="175.16" cy="87.67" r="0.78"/><circle cx="180.42" cy="86.8" r="0.78"/><circle cx="173.42" cy="74.11" r="0.78"/><circle cx="177.66" cy="82.79" r="0.78"/><circle cx="175.95" cy="85.98" r="0.78"/><circle cx="173.27" cy="80.39" r="0.78"/><circle cx="174.92" cy="84.88" r="0.78"/><circle cx="170.08" cy="76.57" r="0.78"/><circle cx="172.9" cy="97.81" r="0.78"/><circle cx="168.25" cy="103.37" r="0.78"/><circle cx="185.74" cy="80.49" r="0.78"/><circle cx="181.57" cy="87.6" r="0.78"/><circle cx="181.17" cy="81.89" r="0.78"/><circle cx="176.11" cy="95.37" r="0.78"/><circle cx="179.53" cy="87.91" r="0.78"/><circle cx="181" cy="84.7" r="0.78"/><circle cx="180.27" cy="81.99" r="0.78"/><circle cx="179.52" cy="85.14" r="0.78"/><circle cx="172.88" cy="75" r="0.78"/><circle cx="177.08" cy="90.08" r="0.78"/><circle cx="174.17" cy="77.57" r="0.78"/><circle cx="170.91" cy="88.81" r="0.78"/><circle cx="171.21" cy="85.17" r="0.78"/><circle cx="176.71" cy="93.85" r="0.78"/><circle cx="180.2" cy="83.85" r="0.78"/><circle cx="170.02" cy="93.21" r="0.78"/><circle cx="183.39" cy="75.7" r="0.78"/><circle cx="181.17" cy="89.49" r="0.78"/><circle cx="174.49" cy="81.98" r="0.78"/><circle cx="173.9" cy="85.75" r="0.78"/><circle cx="175.55" cy="84.65" r="0.78"/><circle cx="178.94" cy="92.43" r="0.78"/><circle cx="175.85" cy="65.82" r="0.78"/><circle cx="171.27" cy="86.91" r="0.78"/><circle cx="177.9" cy="70.55" r="0.78"/><circle cx="167.37" cy="94.86" r="0.78"/><circle cx="177.29" cy="66.25" r="0.78"/><circle cx="181.03" cy="74.97" r="0.78"/><circle cx="177.76" cy="68.94" r="0.78"/><circle cx="177.31" cy="98.75" r="0.78"/><circle cx="178.47" cy="72.4" r="0.78"/><circle cx="178.74" cy="85.03" r="0.78"/><circle cx="176.85" cy="79.18" r="0.78"/><circle cx="174.24" cy="67.8" r="0.78"/><circle cx="175.19" cy="80.96" r="0.78"/><circle cx="175.12" cy="89.96" r="0.78"/><circle cx="181.2" cy="82.34" r="0.78"/><circle cx="181.36" cy="92.47" r="0.78"/><circle cx="177.9" cy="80.74" r="0.78"/><circle cx="172.82" cy="84.06" r="0.78"/><circle cx="173.11" cy="80.54" r="0.78"/><circle cx="174.89" cy="87.09" r="0.78"/><circle cx="178.89" cy="101.09" r="0.78"/><circle cx="176.94" cy="87.26" r="0.78"/><circle cx="175.52" cy="85.75" r="0.78"/><circle cx="173.13" cy="78.43" r="0.78"/><circle cx="179.92" cy="77.2" r="0.78"/><circle cx="175.82" cy="97.18" r="0.78"/><circle cx="176.3" cy="73.99" r="0.78"/><circle cx="176.82" cy="75.78" r="0.78"/><circle cx="182.86" cy="83.12" r="0.78"/><circle cx="175.51" cy="80.16" r="0.78"/><circle cx="179.73" cy="101.61" r="0.78"/><circle cx="180.54" cy="87.25" r="0.78"/><circle cx="175.57" cy="90.41" r="0.78"/><circle cx="179.95" cy="73.92" r="0.78"/><circle cx="175.78" cy="78.2" r="0.78"/><circle cx="172.31" cy="87.89" r="0.78"/><circle cx="173.76" cy="98.67" r="0.78"/><circle cx="172.8" cy="75.72" r="0.78"/><circle cx="178.47" cy="69.79" r="0.78"/><circle cx="175.24" cy="92.75" r="0.78"/><circle cx="176.73" cy="97.71" r="0.78"/><circle cx="179.57" cy="80.98" r="0.78"/><circle cx="168.86" cy="64.08" r="0.78"/><circle cx="175.91" cy="97.07" r="0.78"/><circle cx="168.59" cy="82.21" r="0.78"/><circle cx="175.69" cy="94.12" r="0.78"/><circle cx="172.33" cy="83.61" r="0.78"/><circle cx="176.59" cy="80.62" r="0.78"/><circle cx="181.93" cy="79.93" r="0.78"/><circle cx="168.79" cy="97.26" r="0.78"/><circle cx="175.5" cy="96.91" r="0.78"/><circle cx="176.75" cy="64.76" r="0.78"/><circle cx="168.89" cy="75.57" r="0.78"/><circle cx="176.68" cy="99.99" r="0.78"/><circle cx="176.29" cy="80.69" r="0.78"/><circle cx="174.7" cy="71.76" r="0.78"/><circle cx="172.94" cy="84.04" r="0.78"/><circle cx="189.13" cy="83.02" r="0.78"/><circle cx="174.34" cy="83.12" r="0.78"/><circle cx="168.68" cy="79.68" r="0.78"/><circle cx="172.23" cy="81.21" r="0.78"/><circle cx="174.67" cy="79.9" r="0.78"/><circle cx="174.11" cy="87.01" r="0.78"/><circle cx="176.05" cy="76.69" r="0.78"/><circle cx="171.74" cy="81.39" r="0.78"/><circle cx="178.21" cy="82.7" r="0.78"/><circle cx="173.17" cy="95.75" r="0.78"/><circle cx="170.23" cy="87.36" r="0.78"/><circle cx="172.62" cy="83.01" r="0.78"/><circle cx="173.99" cy="88.83" r="0.78"/><circle cx="178.94" cy="87.66" r="0.78"/><circle cx="176.91" cy="93.79" r="0.78"/><circle cx="174.19" cy="88.56" r="0.78"/><circle cx="174.6" cy="100.15" r="0.78"/><circle cx="175.68" cy="96.1" r="0.78"/><circle cx="184.23" cy="83.63" r="0.78"/><circle cx="173.59" cy="80.27" r="0.78"/><circle cx="177.02" cy="91.94" r="0.78"/><circle cx="178.35" cy="88.65" r="0.78"/><circle cx="172.05" cy="83.15" r="0.78"/><circle cx="177.34" cy="70.71" r="0.78"/><circle cx="177.32" cy="67.51" r="0.78"/><circle cx="173.77" cy="87.13" r="0.78"/><circle cx="177.5" cy="90.94" r="0.78"/><circle cx="179.24" cy="91.23" r="0.78"/><circle cx="180.9" cy="72.42" r="0.78"/><circle cx="174.41" cy="93.34" r="0.78"/><circle cx="177.03" cy="79.19" r="0.78"/><circle cx="184.89" cy="87.5" r="0.78"/><circle cx="171.23" cy="87.75" r="0.78"/><circle cx="177.26" cy="76.78" r="0.78"/><circle cx="179.95" cy="78.68" r="0.78"/><circle cx="177.34" cy="65.34" r="0.78"/><circle cx="179.03" cy="75.75" r="0.78"/><circle cx="177.35" cy="67.78" r="0.78"/><circle cx="178.53" cy="87.94" r="0.78"/><circle cx="181.03" cy="84.55" r="0.78"/><circle cx="174.38" cy="92.23" r="0.78"/><circle cx="176.41" cy="87.21" r="0.78"/><circle cx="176.06" cy="78.29" r="0.78"/><circle cx="174.03" cy="87.12" r="0.78"/><circle cx="176.08" cy="80.49" r="0.78"/><circle cx="171.05" cy="89.48" r="0.78"/><circle cx="178.61" cy="86.84" r="0.78"/><circle cx="183.18" cy="75.1" r="0.78"/><circle cx="182.81" cy="84.02" r="0.78"/><circle cx="181.01" cy="84.5" r="0.78"/><circle cx="172.09" cy="81.23" r="0.78"/><circle cx="181.01" cy="92.05" r="0.78"/><circle cx="172.21" cy="99.42" r="0.78"/><circle cx="175.92" cy="80.69" r="0.78"/><circle cx="183.83" cy="80.84" r="0.78"/><circle cx="171.57" cy="82.84" r="0.78"/><circle cx="179.73" cy="80.07" r="0.78"/><circle cx="177.72" cy="64.55" r="0.78"/><circle cx="175.07" cy="86.6" r="0.78"/><circle cx="172.05" cy="89.32" r="0.78"/><circle cx="178.05" cy="77.39" r="0.78"/><circle cx="174.21" cy="80.65" r="0.78"/><circle cx="180.58" cy="75.3" r="0.78"/><circle cx="180.03" cy="90.86" r="0.78"/><circle cx="171.82" cy="70.34" r="0.78"/><circle cx="174" cy="81.18" r="0.78"/><circle cx="173.39" cy="101.56" r="0.78"/><circle cx="171.06" cy="84.46" r="0.78"/><circle cx="171.15" cy="88.21" r="0.78"/><circle cx="176.35" cy="82.68" r="0.78"/><circle cx="175.72" cy="73.43" r="0.78"/><circle cx="169.17" cy="83.71" r="0.78"/><circle cx="173.46" cy="87.66" r="0.78"/><circle cx="178.5" cy="74.8" r="0.78"/><circle cx="170.85" cy="87.07" r="0.78"/><circle cx="171.58" cy="95.2" r="0.78"/><circle cx="181.06" cy="93.63" r="0.78"/><circle cx="181.22" cy="69.76" r="0.78"/><circle cx="170.02" cy="75.22" r="0.78"/><circle cx="172.16" cy="69.48" r="0.78"/><circle cx="176.52" cy="93.64" r="0.78"/><circle cx="170.81" cy="89.49" r="0.78"/><circle cx="174.4" cy="90.33" r="0.78"/><circle cx="174.59" cy="76.09" r="0.78"/><circle cx="178.7" cy="73.5" r="0.78"/><circle cx="165.6" cy="84.69" r="0.78"/><circle cx="166.92" cy="84.91" r="0.78"/><circle cx="171.46" cy="76.31" r="0.78"/><circle cx="179.86" cy="85.28" r="0.78"/><circle cx="174.82" cy="89.8" r="0.78"/><circle cx="168.89" cy="86.05" r="0.78"/><circle cx="178.41" cy="74.65" r="0.78"/><circle cx="178.86" cy="64.99" r="0.78"/><circle cx="175.05" cy="81.67" r="0.78"/><circle cx="174.43" cy="85.48" r="0.78"/><circle cx="177.88" cy="81.66" r="0.78"/><circle cx="181.26" cy="80.14" r="0.78"/><circle cx="176.93" cy="77.78" r="0.78"/><circle cx="177.42" cy="90.44" r="0.78"/><circle cx="175.72" cy="83.53" r="0.78"/><circle cx="174.25" cy="85.11" r="0.78"/><circle cx="172.81" cy="75.26" r="0.78"/><circle cx="177.34" cy="78.42" r="0.78"/><circle cx="174.56" cy="85.47" r="0.78"/><circle cx="175.49" cy="74.95" r="0.78"/><circle cx="180.13" cy="72.67" r="0.78"/><circle cx="178.15" cy="81.04" r="0.78"/><circle cx="178.24" cy="94.81" r="0.78"/><circle cx="169.43" cy="85.72" r="0.78"/><circle cx="176.77" cy="97.14" r="0.78"/><circle cx="173.55" cy="82.82" r="0.78"/><circle cx="172.74" cy="81.21" r="0.78"/><circle cx="173.46" cy="71.47" r="0.78"/><circle cx="181.28" cy="78.81" r="0.78"/><circle cx="177.76" cy="96.92" r="0.78"/><circle cx="172.8" cy="86.95" r="0.78"/><circle cx="170.98" cy="90.6" r="0.78"/><circle cx="175.43" cy="90.35" r="0.78"/><circle cx="174.02" cy="83.91" r="0.78"/><circle cx="182.88" cy="82.16" r="0.78"/><circle cx="169.9" cy="85.07" r="0.78"/><circle cx="168.32" cy="90.04" r="0.78"/><circle cx="174.55" cy="88.12" r="0.78"/><circle cx="175.57" cy="88.43" r="0.78"/><circle cx="176.3" cy="85.39" r="0.78"/><circle cx="179.4" cy="77.07" r="0.78"/><circle cx="184.66" cy="81.65" r="0.78"/><circle cx="175.06" cy="75.53" r="0.78"/><circle cx="173.11" cy="93.04" r="0.78"/><circle cx="172.18" cy="65.08" r="0.78"/><circle cx="177.04" cy="82.04" r="0.78"/><circle cx="176.47" cy="105.48" r="0.78"/><circle cx="175.04" cy="80.93" r="0.78"/><circle cx="181.1" cy="73.79" r="0.78"/><circle cx="176.02" cy="83.84" r="0.78"/><circle cx="180.48" cy="95.6" r="0.78"/><circle cx="177.37" cy="82.56" r="0.78"/><circle cx="171.33" cy="89.52" r="0.78"/><circle cx="173.24" cy="84.9" r="0.78"/><circle cx="169.74" cy="80.64" r="0.78"/><circle cx="168.8" cy="84.64" r="0.78"/><circle cx="177.35" cy="79.17" r="0.78"/><circle cx="179.85" cy="79.59" r="0.78"/><circle cx="183.33" cy="87.43" r="0.78"/><circle cx="175.37" cy="87.68" r="0.78"/><circle cx="174.42" cy="90.95" r="0.78"/><circle cx="171.32" cy="85.27" r="0.78"/><circle cx="180.25" cy="71.12" r="0.78"/><circle cx="177.02" cy="88.79" r="0.78"/><circle cx="173.63" cy="81.22" r="0.78"/><circle cx="178.95" cy="81.43" r="0.78"/><circle cx="178.67" cy="70.65" r="0.78"/><circle cx="168.51" cy="78.84" r="0.78"/><circle cx="179.35" cy="77.46" r="0.78"/><circle cx="176.46" cy="83.67" r="0.78"/><circle cx="175.24" cy="70.92" r="0.78"/><circle cx="174.15" cy="84.46" r="0.78"/><circle cx="182.84" cy="85.12" r="0.78"/><circle cx="182.49" cy="73.92" r="0.78"/><circle cx="183.8" cy="78.38" r="0.78"/><circle cx="171.78" cy="76.28" r="0.78"/><circle cx="172.74" cy="92.17" r="0.78"/><circle cx="179.9" cy="80.91" r="0.78"/><circle cx="172.75" cy="69.06" r="0.78"/><circle cx="173.17" cy="80.11" r="0.78"/><circle cx="168.39" cy="91.62" r="0.78"/><circle cx="183.91" cy="78.32" r="0.78"/><circle cx="180.06" cy="85.25" r="0.78"/><circle cx="178.22" cy="76.4" r="0.78"/><circle cx="175.11" cy="101.46" r="0.78"/><circle cx="173.64" cy="92.22" r="0.78"/><circle cx="173.58" cy="94.14" r="0.78"/><circle cx="178.94" cy="72.05" r="0.78"/><circle cx="173.72" cy="74.09" r="0.78"/><circle cx="179.7" cy="93.72" r="0.78"/><circle cx="173.99" cy="82.25" r="0.78"/><circle cx="172.45" cy="81.68" r="0.78"/><circle cx="180.79" cy="87" r="0.78"/><circle cx="176.01" cy="72.7" r="0.78"/><circle cx="177.45" cy="90.96" r="0.78"/><circle cx="174.18" cy="84.16" r="0.78"/><circle cx="166.71" cy="88.31" r="0.78"/><circle cx="178.54" cy="77.96" r="0.78"/><circle cx="170.24" cy="88.62" r="0.78"/><circle cx="180.74" cy="77.66" r="0.78"/><circle cx="169.33" cy="92.59" r="0.78"/><circle cx="168.11" cy="94.17" r="0.78"/><circle cx="176.39" cy="92.21" r="0.78"/><circle cx="177.17" cy="88.65" r="0.78"/><circle cx="175.84" cy="89.7" r="0.78"/><circle cx="170.65" cy="91.51" r="0.78"/><circle cx="179.76" cy="81.53" r="0.78"/><circle cx="169.9" cy="84.85" r="0.78"/><circle cx="174.16" cy="81.45" r="0.78"/><circle cx="173.7" cy="71.48" r="0.78"/><circle cx="174.67" cy="79.15" r="0.78"/><circle cx="178.71" cy="89.93" r="0.78"/><circle cx="172.59" cy="96.76" r="0.78"/><circle cx="178.61" cy="78.39" r="0.78"/><circle cx="179.18" cy="75.86" r="0.78"/><circle cx="168.77" cy="97.07" r="0.78"/><circle cx="171.73" cy="76.06" r="0.78"/><circle cx="173.13" cy="102.66" r="0.78"/><circle cx="173.44" cy="84.46" r="0.78"/><circle cx="177.63" cy="76.05" r="0.78"/><circle cx="167.89" cy="92.86" r="0.78"/><circle cx="177.03" cy="99.24" r="0.78"/><circle cx="179.36" cy="71.09" r="0.78"/><circle cx="174.14" cy="98.03" r="0.78"/><circle cx="170.34" cy="81.47" r="0.78"/><circle cx="174.8" cy="97.38" r="0.78"/><circle cx="173.91" cy="80.58" r="0.78"/><circle cx="178.66" cy="69.81" r="0.78"/><circle cx="175.18" cy="88.52" r="0.78"/><circle cx="177.97" cy="92.34" r="0.78"/><circle cx="172.96" cy="102.86" r="0.78"/><circle cx="179.39" cy="99.51" r="0.78"/><circle cx="166.49" cy="90.26" r="0.78"/><circle cx="171.85" cy="81.86" r="0.78"/><circle cx="178.28" cy="79.31" r="0.78"/><circle cx="169.81" cy="81.35" r="0.78"/><circle cx="179.34" cy="76.52" r="0.78"/><circle cx="171.03" cy="81.53" r="0.78"/><circle cx="176.13" cy="85.61" r="0.78"/><circle cx="172.17" cy="83.74" r="0.78"/><circle cx="173.64" cy="90.83" r="0.78"/><circle cx="176.95" cy="79.68" r="0.78"/><circle cx="175.07" cy="89.08" r="0.78"/><circle cx="175.08" cy="72.97" r="0.78"/><circle cx="185.16" cy="78.58" r="0.78"/><circle cx="176.87" cy="67.19" r="0.78"/><circle cx="171.39" cy="96.93" r="0.78"/><circle cx="179.06" cy="89.34" r="0.78"/><circle cx="179.71" cy="73.42" r="0.78"/><circle cx="180.92" cy="83.46" r="0.78"/><circle cx="181.96" cy="92.55" r="0.78"/><circle cx="171.84" cy="88.46" r="0.78"/><circle cx="179.79" cy="87.44" r="0.78"/><circle cx="180.96" cy="76.28" r="0.78"/><circle cx="176.29" cy="78.26" r="0.78"/><circle cx="176.8" cy="84.86" r="0.78"/><circle cx="163.84" cy="92.28" r="0.78"/><circle cx="174.06" cy="76.54" r="0.78"/><circle cx="183.47" cy="73.91" r="0.78"/><circle cx="168.4" cy="94.3" r="0.78"/><circle cx="174.29" cy="75.63" r="0.78"/><circle cx="176.18" cy="93.69" r="0.78"/><circle cx="178" cy="86.19" r="0.78"/><circle cx="181.45" cy="91.93" r="0.78"/><circle cx="168.73" cy="99.7" r="0.78"/><circle cx="175.55" cy="90.2" r="0.78"/><circle cx="178.62" cy="90.98" r="0.78"/><circle cx="171.18" cy="75.74" r="0.78"/><circle cx="176.15" cy="77.74" r="0.78"/><circle cx="182.72" cy="89.8" r="0.78"/><circle cx="179.31" cy="97.81" r="0.78"/><circle cx="176.79" cy="96.53" r="0.78"/><circle cx="166.54" cy="104.85" r="0.78"/><circle cx="175.14" cy="86.8" r="0.78"/><circle cx="177.28" cy="85.83" r="0.78"/><circle cx="173.99" cy="93.06" r="0.78"/><circle cx="175.6" cy="84.17" r="0.78"/><circle cx="188.52" cy="83.44" r="0.78"/><circle cx="175.63" cy="74.57" r="0.78"/><circle cx="171.51" cy="92.92" r="0.78"/><circle cx="177.43" cy="74.35" r="0.78"/><circle cx="174.28" cy="88.61" r="0.78"/><circle cx="175.5" cy="71.23" r="0.78"/><circle cx="174.77" cy="93.87" r="0.78"/><circle cx="179.51" cy="74.74" r="0.78"/><circle cx="176.18" cy="91.59" r="0.78"/><circle cx="172.61" cy="69.7" r="0.78"/><circle cx="175.64" cy="80.04" r="0.78"/><circle cx="176.79" cy="94.61" r="0.78"/><circle cx="174.47" cy="76.75" r="0.78"/><circle cx="180.48" cy="84.6" r="0.78"/><circle cx="179.47" cy="79.69" r="0.78"/><circle cx="171.72" cy="86.77" r="0.78"/><circle cx="176.83" cy="87.89" r="0.78"/><circle cx="184.24" cy="74.03" r="0.78"/><circle cx="181.54" cy="89.16" r="0.78"/><circle cx="176.13" cy="76.84" r="0.78"/><circle cx="180" cy="74.97" r="0.78"/><circle cx="173.14" cy="84.06" r="0.78"/><circle cx="170.38" cy="77.87" r="0.78"/><circle cx="175.74" cy="104.63" r="0.78"/><circle cx="177.55" cy="70.01" r="0.78"/><circle cx="177.33" cy="90.65" r="0.78"/><circle cx="175.07" cy="92.9" r="0.78"/><circle cx="177.81" cy="66.19" r="0.78"/><circle cx="175.14" cy="68.41" r="0.78"/><circle cx="177.32" cy="89.06" r="0.78"/><circle cx="179.7" cy="79.67" r="0.78"/><circle cx="175.37" cy="87.45" r="0.78"/><circle cx="178.09" cy="94.26" r="0.78"/><circle cx="168.75" cy="80.65" r="0.78"/><circle cx="173.4" cy="74.42" r="0.78"/><circle cx="181.52" cy="85.84" r="0.78"/><circle cx="183.43" cy="75.64" r="0.78"/><circle cx="176.65" cy="86.82" r="0.78"/><circle cx="175.3" cy="86.08" r="0.78"/><circle cx="171.9" cy="71.54" r="0.78"/><circle cx="175.8" cy="99.51" r="0.78"/><circle cx="178.01" cy="93.75" r="0.78"/><circle cx="169.62" cy="91.63" r="0.78"/><circle cx="178.69" cy="73.34" r="0.78"/><circle cx="178.23" cy="80.33" r="0.78"/><circle cx="178.08" cy="79.08" r="0.78"/><circle cx="171.45" cy="80.27" r="0.78"/><circle cx="178.62" cy="73.88" r="0.78"/><circle cx="169.67" cy="87.91" r="0.78"/><circle cx="181.67" cy="86.06" r="0.78"/><circle cx="176.15" cy="87.29" r="0.78"/><circle cx="171.37" cy="79.45" r="0.78"/><circle cx="179.85" cy="95.62" r="0.78"/><circle cx="180.37" cy="85.69" r="0.78"/><circle cx="173.61" cy="78.24" r="0.78"/><circle cx="184.92" cy="83.49" r="0.78"/><circle cx="171.39" cy="92.69" r="0.78"/><circle cx="177.4" cy="81.29" r="0.78"/><circle cx="180.96" cy="81.75" r="0.78"/><circle cx="166.98" cy="78.03" r="0.78"/><circle cx="179.27" cy="89.99" r="0.78"/><circle cx="175.93" cy="79.97" r="0.78"/><circle cx="176.21" cy="78.57" r="0.78"/><circle cx="171.96" cy="77.32" r="0.78"/><circle cx="176.77" cy="89.01" r="0.78"/><circle cx="171.62" cy="79.2" r="0.78"/><circle cx="173.57" cy="68.92" r="0.78"/><circle cx="173.69" cy="89.6" r="0.78"/><circle cx="171.3" cy="77.69" r="0.78"/><circle cx="181.85" cy="87.21" r="0.78"/><circle cx="170.36" cy="87.36" r="0.78"/><circle cx="172.22" cy="94.83" r="0.78"/><circle cx="173.94" cy="93.4" r="0.78"/><circle cx="176.27" cy="78.82" r="0.78"/><circle cx="179.26" cy="82.5" r="0.78"/><circle cx="179.71" cy="72.39" r="0.78"/><circle cx="173.61" cy="99.1" r="0.78"/><circle cx="174.05" cy="87.97" r="0.78"/><circle cx="174.98" cy="96.55" r="0.78"/><circle cx="179.53" cy="81.13" r="0.78"/><circle cx="178.84" cy="65.56" r="0.78"/><circle cx="172.95" cy="97.79" r="0.78"/><circle cx="167.5" cy="84.84" r="0.78"/><circle cx="184.41" cy="85.2" r="0.78"/><circle cx="179.69" cy="84.5" r="0.78"/><circle cx="176.44" cy="89.8" r="0.78"/><circle cx="176.83" cy="88.8" r="0.78"/><circle cx="174.93" cy="69.69" r="0.78"/><circle cx="171.35" cy="93.78" r="0.78"/><circle cx="174.85" cy="79.24" r="0.78"/><circle cx="175.28" cy="79.8" r="0.78"/><circle cx="172.51" cy="99.55" r="0.78"/><circle cx="169.69" cy="92.29" r="0.78"/><circle cx="174.82" cy="80.96" r="0.78"/><circle cx="178.57" cy="67.29" r="0.78"/><circle cx="173.78" cy="85.45" r="0.78"/><circle cx="175.58" cy="88.85" r="0.78"/><circle cx="167.47" cy="83.28" r="0.78"/><circle cx="175.76" cy="72.79" r="0.78"/><circle cx="175.86" cy="76.88" r="0.78"/><circle cx="171.86" cy="72.7" r="0.78"/><circle cx="168.8" cy="85.94" r="0.78"/><circle cx="176.86" cy="91.37" r="0.78"/><circle cx="172.1" cy="93.23" r="0.78"/><circle cx="178.32" cy="77.41" r="0.78"/><circle cx="174.03" cy="86.12" r="0.78"/><circle cx="177.91" cy="88.99" r="0.78"/><circle cx="174.82" cy="79.4" r="0.78"/><circle cx="169.79" cy="82.66" r="0.78"/><circle cx="174" cy="103.11" r="0.78"/><circle cx="174.42" cy="85.85" r="0.78"/><circle cx="177.74" cy="91.95" r="0.78"/><circle cx="174.3" cy="80.09" r="0.78"/><circle cx="174.26" cy="84.38" r="0.78"/><circle cx="179.55" cy="68.57" r="0.78"/><circle cx="180.65" cy="83.77" r="0.78"/><circle cx="177.84" cy="94.73" r="0.78"/><circle cx="177.45" cy="102.89" r="0.78"/><circle cx="176.7" cy="94.77" r="0.78"/><circle cx="178.36" cy="90.18" r="0.78"/><circle cx="179.4" cy="84.48" r="0.78"/><circle cx="177.94" cy="78.6" r="0.78"/><circle cx="176.25" cy="82.56" r="0.78"/><circle cx="175.99" cy="89.52" r="0.78"/><circle cx="186.08" cy="76.93" r="0.78"/><circle cx="175.26" cy="92.4" r="0.78"/><circle cx="175.51" cy="75.14" r="0.78"/><circle cx="175.66" cy="67.99" r="0.78"/><circle cx="176.32" cy="74.89" r="0.78"/><circle cx="177.56" cy="69.01" r="0.78"/><circle cx="172.39" cy="71.65" r="0.78"/><circle cx="167.68" cy="94.19" r="0.78"/><circle cx="177.24" cy="82.2" r="0.78"/><circle cx="169.3" cy="85.97" r="0.78"/><circle cx="176.01" cy="94.42" r="0.78"/><circle cx="175.49" cy="95.33" r="0.78"/><circle cx="181.04" cy="79.46" r="0.78"/><circle cx="180.96" cy="95.96" r="0.78"/><circle cx="177.06" cy="87.46" r="0.78"/><circle cx="173.63" cy="84.03" r="0.78"/><circle cx="170.94" cy="87.98" r="0.78"/><circle cx="173.74" cy="71.17" r="0.78"/><circle cx="176.52" cy="76.93" r="0.78"/><circle cx="167.48" cy="83.03" r="0.78"/><circle cx="175.73" cy="89.49" r="0.78"/><circle cx="176.1" cy="80.65" r="0.78"/><circle cx="178.62" cy="82.85" r="0.78"/><circle cx="173.92" cy="92.72" r="0.78"/><circle cx="175.21" cy="96.71" r="0.78"/><circle cx="172.5" cy="90.9" r="0.78"/><circle cx="173.26" cy="95.42" r="0.78"/><circle cx="168.74" cy="80.36" r="0.78"/><circle cx="176.61" cy="81.24" r="0.78"/><circle cx="181.8" cy="86.87" r="0.78"/><circle cx="176.77" cy="81.29" r="0.78"/><circle cx="177.75" cy="79.44" r="0.78"/><circle cx="171.33" cy="98.87" r="0.78"/><circle cx="181.93" cy="82.19" r="0.78"/><circle cx="173.39" cy="75.31" r="0.78"/><circle cx="178.67" cy="88.39" r="0.78"/><circle cx="174.85" cy="100.52" r="0.78"/><circle cx="171.94" cy="84.73" r="0.78"/><circle cx="178.79" cy="95.08" r="0.78"/><circle cx="176.26" cy="80.06" r="0.78"/><circle cx="176.97" cy="79.58" r="0.78"/><circle cx="178.16" cy="77.79" r="0.78"/><circle cx="175.89" cy="82.71" r="0.78"/><circle cx="173.27" cy="100.53" r="0.78"/><circle cx="178.33" cy="73.6" r="0.78"/><circle cx="173.29" cy="98.74" r="0.78"/><circle cx="176.71" cy="74.92" r="0.78"/><circle cx="173.29" cy="81.9" r="0.78"/><circle cx="169.59" cy="91.52" r="0.78"/><circle cx="172.82" cy="89.67" r="0.78"/><circle cx="173.71" cy="86.54" r="0.78"/><circle cx="176.79" cy="69.16" r="0.78"/><circle cx="180.31" cy="87.26" r="0.78"/><circle cx="169.8" cy="74.8" r="0.78"/><circle cx="176.56" cy="82.08" r="0.78"/><circle cx="166.87" cy="85.7" r="0.78"/><circle cx="172.45" cy="73.68" r="0.78"/><circle cx="174.09" cy="79.69" r="0.78"/><circle cx="167.98" cy="72.38" r="0.78"/><circle cx="168.17" cy="92.83" r="0.78"/><circle cx="176.71" cy="81.64" r="0.78"/><circle cx="175.78" cy="89.06" r="0.78"/><circle cx="175.84" cy="77.84" r="0.78"/><circle cx="172.87" cy="79.49" r="0.78"/><circle cx="182.81" cy="95.59" r="0.78"/><circle cx="175.8" cy="75.25" r="0.78"/><circle cx="174.14" cy="67.79" r="0.78"/><circle cx="182.21" cy="87.66" r="0.78"/><circle cx="178.9" cy="73.73" r="0.78"/><circle cx="174.64" cy="80.04" r="0.78"/><circle cx="179.75" cy="92.2" r="0.78"/><circle cx="177" cy="76.63" r="0.78"/><circle cx="177.69" cy="91.91" r="0.78"/><circle cx="177.27" cy="77.87" r="0.78"/><circle cx="171.18" cy="97.42" r="0.78"/><circle cx="178.44" cy="95.93" r="0.78"/><circle cx="176.88" cy="79.76" r="0.78"/><circle cx="171.86" cy="82.08" r="0.78"/><circle cx="173.3" cy="76.51" r="0.78"/><circle cx="179.56" cy="85.8" r="0.78"/><circle cx="173.68" cy="94.34" r="0.78"/><circle cx="176.82" cy="70.98" r="0.78"/><circle cx="177.7" cy="92.26" r="0.78"/><circle cx="177.08" cy="72.08" r="0.78"/><circle cx="170.26" cy="76.26" r="0.78"/><circle cx="178.79" cy="67.91" r="0.78"/><circle cx="177.14" cy="102.94" r="0.78"/><circle cx="179.35" cy="84.53" r="0.78"/><circle cx="182.16" cy="86.2" r="0.78"/><circle cx="177.8" cy="77.91" r="0.78"/><circle cx="178.02" cy="93.6" r="0.78"/><circle cx="181.25" cy="65.07" r="0.78"/><circle cx="174.68" cy="84.24" r="0.78"/><circle cx="179.36" cy="103.86" r="0.78"/><circle cx="183.41" cy="80.56" r="0.78"/><circle cx="179.05" cy="84.15" r="0.78"/><circle cx="182.51" cy="90.05" r="0.78"/><circle cx="179.8" cy="76.7" r="0.78"/><circle cx="172.29" cy="84.21" r="0.78"/><circle cx="179.49" cy="92.65" r="0.78"/><circle cx="177.05" cy="85.75" r="0.78"/><circle cx="177.25" cy="87.34" r="0.78"/><circle cx="176.78" cy="80.86" r="0.78"/><circle cx="181.05" cy="86.84" r="0.78"/><circle cx="178.08" cy="84.5" r="0.78"/><circle cx="172.35" cy="97.1" r="0.78"/><circle cx="177.23" cy="90.52" r="0.78"/><circle cx="179.07" cy="81.81" r="0.78"/><circle cx="172.57" cy="90.44" r="0.78"/><circle cx="173.67" cy="90.8" r="0.78"/><circle cx="174.89" cy="75.75" r="0.78"/><circle cx="175.2" cy="66.01" r="0.78"/><circle cx="177.87" cy="73.72" r="0.78"/><circle cx="179.07" cy="92.34" r="0.78"/><circle cx="183.9" cy="74.42" r="0.78"/><circle cx="181.22" cy="79.86" r="0.78"/><circle cx="179.81" cy="85.98" r="0.78"/><circle cx="179.23" cy="95.02" r="0.78"/><circle cx="181.33" cy="83.84" r="0.78"/><circle cx="174.41" cy="83.1" r="0.78"/><circle cx="179.13" cy="79.06" r="0.78"/><circle cx="175.76" cy="98.68" r="0.78"/><circle cx="174.63" cy="93.59" r="0.78"/><circle cx="174.09" cy="83.14" r="0.78"/><circle cx="174.76" cy="71.43" r="0.78"/><circle cx="175.27" cy="76.89" r="0.78"/><circle cx="170.66" cy="89.22" r="0.78"/><circle cx="178.45" cy="77.51" r="0.78"/><circle cx="175.15" cy="92.03" r="0.78"/><circle cx="176.04" cy="87.25" r="0.78"/><circle cx="177.02" cy="86.63" r="0.78"/><circle cx="178.22" cy="89.88" r="0.78"/><circle cx="173.2" cy="88.49" r="0.78"/><circle cx="175.96" cy="76.3" r="0.78"/><circle cx="169.42" cy="81.07" r="0.78"/><circle cx="167.7" cy="105.06" r="0.78"/><circle cx="169.06" cy="73.13" r="0.78"/><circle cx="182.65" cy="79.73" r="0.78"/><circle cx="168.27" cy="93.59" r="0.78"/><circle cx="177.94" cy="82.57" r="0.78"/><circle cx="182.33" cy="76.69" r="0.78"/><circle cx="174.85" cy="72.09" r="0.78"/><circle cx="181.86" cy="88.82" r="0.78"/><circle cx="182.09" cy="93.18" r="0.78"/><circle cx="178.23" cy="96.6" r="0.78"/><circle cx="185.45" cy="84.48" r="0.78"/><circle cx="177.46" cy="93.4" r="0.78"/><circle cx="173.6" cy="74.7" r="0.78"/><circle cx="177.86" cy="85.51" r="0.78"/><circle cx="174.5" cy="77.9" r="0.78"/><circle cx="170.54" cy="85.56" r="0.78"/><circle cx="170.45" cy="90.76" r="0.78"/><circle cx="183.79" cy="93.63" r="0.78"/><circle cx="174.33" cy="75.09" r="0.78"/><circle cx="174.9" cy="95.41" r="0.78"/><circle cx="173.46" cy="79.73" r="0.78"/><circle cx="177.03" cy="74.77" r="0.78"/><circle cx="175.05" cy="82.46" r="0.78"/><circle cx="175.21" cy="70.84" r="0.78"/><circle cx="170.99" cy="84.04" r="0.78"/><circle cx="170.09" cy="86.61" r="0.78"/><circle cx="173" cy="82.2" r="0.78"/><circle cx="176.68" cy="88.83" r="0.78"/><circle cx="184.8" cy="81.17" r="0.78"/><circle cx="180.21" cy="84.04" r="0.78"/><circle cx="183.33" cy="71.03" r="0.78"/><circle cx="177.87" cy="84.38" r="0.78"/><circle cx="176.09" cy="76.34" r="0.78"/><circle cx="170.7" cy="79.95" r="0.78"/><circle cx="176.02" cy="83.16" r="0.78"/><circle cx="167.21" cy="85.72" r="0.78"/><circle cx="175.8" cy="69.18" r="0.78"/><circle cx="182.39" cy="69.93" r="0.78"/><circle cx="177.54" cy="81.28" r="0.78"/><circle cx="180.04" cy="88.27" r="0.78"/><circle cx="174.18" cy="87.24" r="0.78"/><circle cx="170.08" cy="92.04" r="0.78"/><circle cx="173.26" cy="95.71" r="0.78"/><circle cx="174.05" cy="88.47" r="0.78"/><circle cx="180.89" cy="83.82" r="0.78"/><circle cx="184.32" cy="74.72" r="0.78"/><circle cx="173.57" cy="75.49" r="0.78"/><circle cx="174.8" cy="79.8" r="0.78"/><circle cx="175.2" cy="86.41" r="0.78"/><circle cx="174.42" cy="85.99" r="0.78"/><circle cx="170.91" cy="84.04" r="0.78"/><circle cx="176.47" cy="82.63" r="0.78"/><circle cx="176.92" cy="89.67" r="0.78"/><circle cx="177.37" cy="85.87" r="0.78"/><circle cx="170.97" cy="86.68" r="0.78"/><circle cx="175.31" cy="86.78" r="0.78"/><circle cx="169.12" cy="79.08" r="0.78"/><circle cx="180.16" cy="74.72" r="0.78"/><circle cx="171.63" cy="88.42" r="0.78"/><circle cx="174.6" cy="87.75" r="0.78"/><circle cx="174.83" cy="59.4" r="0.78"/><circle cx="176.47" cy="64.95" r="0.78"/><circle cx="177.27" cy="61.2" r="0.78"/><circle cx="177.43" cy="62.36" r="0.78"/><circle cx="176.93" cy="62.4" r="0.78"/><circle cx="182.84" cy="65.77" r="0.78"/><circle cx="178.42" cy="61.86" r="0.78"/><circle cx="174.11" cy="55.3" r="0.78"/><circle cx="175.69" cy="60.07" r="0.78"/><circle cx="175.58" cy="65.07" r="0.78"/><circle cx="176.82" cy="55.55" r="0.78"/><circle cx="175.72" cy="54.61" r="0.78"/><circle cx="175.06" cy="54.6" r="0.78"/><circle cx="181.57" cy="54.84" r="0.78"/><circle cx="177.4" cy="55.96" r="0.78"/><circle cx="176.41" cy="63.25" r="0.78"/><circle cx="176.63" cy="61.19" r="0.78"/><circle cx="176.72" cy="62.78" r="0.78"/><circle cx="180.91" cy="60.68" r="0.78"/><circle cx="178.53" cy="58.25" r="0.78"/><circle cx="180.21" cy="63.44" r="0.78"/><circle cx="169.18" cy="56.04" r="0.78"/><circle cx="178.14" cy="58.32" r="0.78"/><circle cx="180.04" cy="58.98" r="0.78"/><circle cx="182.42" cy="62.16" r="0.78"/><circle cx="177.37" cy="63.13" r="0.78"/><circle cx="172.83" cy="60.8" r="0.78"/><circle cx="178.82" cy="61.3" r="0.78"/><circle cx="175.73" cy="57.37" r="0.78"/><circle cx="172.63" cy="61.12" r="0.78"/><circle cx="177.55" cy="47.67" r="0.78"/><circle cx="177.29" cy="54.37" r="0.78"/><circle cx="177.72" cy="54.95" r="0.78"/><circle cx="174.15" cy="53.03" r="0.78"/><circle cx="178.82" cy="45.95" r="0.78"/><circle cx="178.66" cy="45.47" r="0.78"/><circle cx="176.3" cy="34" r="0.78"/><circle cx="179.7" cy="36.7" r="0.78"/><circle cx="174.7" cy="43.3" r="0.78"/><circle cx="178" cy="48.3" r="0.78"/><circle cx="181" cy="46" r="0.78"/><circle cx="173.5" cy="50" r="0.78"/><circle cx="153.7" cy="111.73" r="0.78"/><circle cx="153.33" cy="101.55" r="0.78"/><circle cx="153.57" cy="95.81" r="0.78"/><circle cx="155.34" cy="95.31" r="0.78"/><circle cx="152.67" cy="108.38" r="0.78"/><circle cx="155.23" cy="107.75" r="0.78"/><circle cx="153.54" cy="108.56" r="0.78"/><circle cx="152.27" cy="109.5" r="0.78"/><circle cx="152.4" cy="103.06" r="0.78"/><circle cx="156.3" cy="111.04" r="0.78"/><circle cx="152.01" cy="105.27" r="0.78"/><circle cx="153.18" cy="104.65" r="0.78"/><circle cx="156.12" cy="109.59" r="0.78"/><circle cx="152.2" cy="105.15" r="0.78"/><circle cx="152.85" cy="107.93" r="0.78"/><circle cx="153.14" cy="111.82" r="0.78"/><circle cx="155.98" cy="98.99" r="0.78"/><circle cx="152.38" cy="107.53" r="0.78"/><circle cx="156.53" cy="96.66" r="0.78"/><circle cx="152.4" cy="101.18" r="0.78"/><circle cx="154.63" cy="110.47" r="0.78"/><circle cx="155.67" cy="112.87" r="0.78"/><circle cx="154.59" cy="112.24" r="0.78"/><circle cx="154.34" cy="107.68" r="0.78"/><circle cx="153.99" cy="109.86" r="0.78"/><circle cx="153.06" cy="110.73" r="0.78"/><circle cx="156.76" cy="104.14" r="0.78"/><circle cx="153.82" cy="95.34" r="0.78"/><circle cx="155" cy="89.93" r="0.78"/><circle cx="154.71" cy="107.77" r="0.78"/><circle cx="156.61" cy="107.75" r="0.78"/><circle cx="153.02" cy="107.04" r="0.78"/><circle cx="152.57" cy="103.42" r="0.78"/><circle cx="156.3" cy="105.29" r="0.78"/><circle cx="154.34" cy="106.74" r="0.78"/><circle cx="155.01" cy="102.26" r="0.78"/><circle cx="154.93" cy="105.31" r="0.78"/><circle cx="155.71" cy="94.88" r="0.78"/><circle cx="155.99" cy="102.32" r="0.78"/><circle cx="155.31" cy="104.59" r="0.78"/><circle cx="151.82" cy="103.15" r="0.78"/><circle cx="155.99" cy="95.67" r="0.78"/><circle cx="152.01" cy="92.54" r="0.78"/><circle cx="156.09" cy="105.21" r="0.78"/><circle cx="151.81" cy="92.2" r="0.78"/><circle cx="155.67" cy="108.56" r="0.78"/><circle cx="154.99" cy="93.87" r="0.78"/><circle cx="151.93" cy="108.03" r="0.78"/><circle cx="155.57" cy="98.04" r="0.78"/><circle cx="154.7" cy="111.13" r="0.78"/><circle cx="152.41" cy="94.92" r="0.78"/><circle cx="156.18" cy="93.28" r="0.78"/><circle cx="154.76" cy="105.7" r="0.78"/><circle cx="154.11" cy="108.07" r="0.78"/><circle cx="156.53" cy="97.89" r="0.78"/><circle cx="152.82" cy="100.83" r="0.78"/><circle cx="152.68" cy="105.38" r="0.78"/><circle cx="156.26" cy="96.58" r="0.78"/><circle cx="152.6" cy="98.84" r="0.78"/><circle cx="155.89" cy="103.09" r="0.78"/><circle cx="152.85" cy="96.77" r="0.78"/><circle cx="155.87" cy="93" r="0.78"/><circle cx="153.84" cy="111.31" r="0.78"/><circle cx="154.89" cy="92.44" r="0.78"/><circle cx="154.84" cy="113.19" r="0.78"/><circle cx="153.77" cy="109.77" r="0.78"/><circle cx="154.39" cy="100.23" r="0.78"/><circle cx="155.05" cy="110.16" r="0.78"/><circle cx="152.48" cy="91.04" r="0.78"/><circle cx="156.38" cy="103" r="0.78"/><circle cx="155.92" cy="97.99" r="0.78"/><circle cx="152.84" cy="96.72" r="0.78"/><circle cx="152.93" cy="110.98" r="0.78"/><circle cx="153.77" cy="90.42" r="0.78"/><circle cx="155.66" cy="110.19" r="0.78"/><circle cx="154.38" cy="91.39" r="0.78"/><circle cx="153.37" cy="105.76" r="0.78"/><circle cx="155.64" cy="96.36" r="0.78"/><circle cx="152.78" cy="102.15" r="0.78"/><circle cx="155.34" cy="111.71" r="0.78"/><circle cx="155.57" cy="108.64" r="0.78"/><circle cx="152.31" cy="91.88" r="0.78"/><circle cx="154.65" cy="96.82" r="0.78"/><circle cx="154.77" cy="101.21" r="0.78"/><circle cx="156.66" cy="106.7" r="0.78"/><circle cx="153.29" cy="89.63" r="0.78"/><circle cx="154.1" cy="110.23" r="0.78"/><circle cx="156.48" cy="109.7" r="0.78"/><circle cx="152.45" cy="112.45" r="0.78"/><circle cx="156.29" cy="94.36" r="0.78"/><circle cx="153.63" cy="94.62" r="0.78"/><circle cx="153.52" cy="109.49" r="0.78"/><circle cx="156.78" cy="101.85" r="0.78"/><circle cx="153.75" cy="95.39" r="0.78"/><circle cx="153.04" cy="89.91" r="0.78"/><circle cx="152.84" cy="94.7" r="0.78"/><circle cx="155.28" cy="105.7" r="0.78"/><circle cx="154.98" cy="107.09" r="0.78"/><circle cx="153" cy="98" r="0.78"/><circle cx="154.28" cy="111.52" r="0.78"/><circle cx="153.23" cy="101.73" r="0.78"/><circle cx="155.99" cy="101.92" r="0.78"/><circle cx="153.59" cy="98.97" r="0.78"/><circle cx="154.88" cy="99.18" r="0.78"/><circle cx="156.37" cy="98.12" r="0.78"/><circle cx="152.99" cy="109.29" r="0.78"/><circle cx="156.56" cy="100.06" r="0.78"/><circle cx="154.23" cy="95.05" r="0.78"/><circle cx="155" cy="99.95" r="0.78"/><circle cx="153.16" cy="111.71" r="0.78"/><circle cx="155.27" cy="104.83" r="0.78"/><circle cx="155.42" cy="92.02" r="0.78"/><circle cx="154.76" cy="99.56" r="0.78"/><circle cx="156.11" cy="100.7" r="0.78"/><circle cx="154.16" cy="89.83" r="0.78"/><circle cx="151.88" cy="112.57" r="0.78"/><circle cx="156.37" cy="111.49" r="0.78"/><circle cx="154.64" cy="91.94" r="0.78"/><circle cx="154.87" cy="102.75" r="0.78"/><circle cx="154.79" cy="97" r="0.78"/><circle cx="152.01" cy="94.58" r="0.78"/><circle cx="153.24" cy="96.08" r="0.78"/><circle cx="152.25" cy="90.78" r="0.78"/><circle cx="155.05" cy="106.02" r="0.78"/><circle cx="156.07" cy="98.3" r="0.78"/><circle cx="155.1" cy="106.29" r="0.78"/><circle cx="155.87" cy="109.07" r="0.78"/><circle cx="153.46" cy="103.24" r="0.78"/><circle cx="151.96" cy="97.75" r="0.78"/><circle cx="153.85" cy="92.86" r="0.78"/><circle cx="152.64" cy="105.13" r="0.78"/><circle cx="153.33" cy="105.69" r="0.78"/><circle cx="152.99" cy="108.25" r="0.78"/><circle cx="152.7" cy="92.8" r="0.78"/><circle cx="155.24" cy="90.61" r="0.78"/><circle cx="154.79" cy="110.6" r="0.78"/><circle cx="155.91" cy="104.05" r="0.78"/><circle cx="156.72" cy="91.76" r="0.78"/><circle cx="152.99" cy="106.52" r="0.78"/><circle cx="156.49" cy="90.85" r="0.78"/><circle cx="155.64" cy="104.67" r="0.78"/><circle cx="154.61" cy="102.82" r="0.78"/><circle cx="156.66" cy="106.67" r="0.78"/><circle cx="154.36" cy="91.76" r="0.78"/><circle cx="151.94" cy="111.31" r="0.78"/><circle cx="152.42" cy="112.07" r="0.78"/><circle cx="153.36" cy="113.13" r="0.78"/><circle cx="155.28" cy="107.88" r="0.78"/><circle cx="154.63" cy="96.98" r="0.78"/><circle cx="155.22" cy="112.98" r="0.78"/><circle cx="151.89" cy="104.24" r="0.78"/><circle cx="153.04" cy="106.74" r="0.78"/><circle cx="154.57" cy="105.37" r="0.78"/><circle cx="155.07" cy="94.46" r="0.78"/><circle cx="153.96" cy="109.98" r="0.78"/><circle cx="152.89" cy="105.02" r="0.78"/><circle cx="153.35" cy="94.8" r="0.78"/><circle cx="155.6" cy="98.57" r="0.78"/><circle cx="155.39" cy="92.95" r="0.78"/><circle cx="153.04" cy="99.89" r="0.78"/><circle cx="156.55" cy="113.25" r="0.78"/><circle cx="152.02" cy="98.71" r="0.78"/><circle cx="152.97" cy="98.99" r="0.78"/><circle cx="153.99" cy="108.77" r="0.78"/><circle cx="155.82" cy="91.49" r="0.78"/><circle cx="154.63" cy="92.37" r="0.78"/><circle cx="155.18" cy="107.4" r="0.78"/><circle cx="156.56" cy="92.63" r="0.78"/><circle cx="153.64" cy="104.17" r="0.78"/><circle cx="152.71" cy="109.1" r="0.78"/><circle cx="153.85" cy="103.01" r="0.78"/><circle cx="154.62" cy="91.42" r="0.78"/><circle cx="152.47" cy="94.45" r="0.78"/><circle cx="151.99" cy="102.47" r="0.78"/><circle cx="155.43" cy="112.4" r="0.78"/><circle cx="156.74" cy="105.19" r="0.78"/><circle cx="156.46" cy="106.23" r="0.78"/><circle cx="153.68" cy="103.79" r="0.78"/><circle cx="154.07" cy="97.32" r="0.78"/><circle cx="155.94" cy="104.09" r="0.78"/><circle cx="156.72" cy="89.73" r="0.78"/><circle cx="153.58" cy="99.44" r="0.78"/><circle cx="156.56" cy="108.98" r="0.78"/><circle cx="155.29" cy="94.41" r="0.78"/><circle cx="152.54" cy="105.06" r="0.78"/><circle cx="154.05" cy="106.79" r="0.78"/><circle cx="151.82" cy="93.26" r="0.78"/><circle cx="153.84" cy="110.09" r="0.78"/><circle cx="154.42" cy="95.35" r="0.78"/><circle cx="155.79" cy="112.6" r="0.78"/><circle cx="153.45" cy="97.77" r="0.78"/><circle cx="155.05" cy="104.18" r="0.78"/><circle cx="155.12" cy="112.27" r="0.78"/><circle cx="154.42" cy="109.18" r="0.78"/><circle cx="154.87" cy="101.16" r="0.78"/><circle cx="154.1" cy="94.17" r="0.78"/><circle cx="154.85" cy="104.26" r="0.78"/><circle cx="154.1" cy="103.61" r="0.78"/><circle cx="156.36" cy="91.03" r="0.78"/><circle cx="152.36" cy="98.68" r="0.78"/><circle cx="156.12" cy="111.6" r="0.78"/><circle cx="155.53" cy="102.12" r="0.78"/><circle cx="151.86" cy="93.85" r="0.78"/><circle cx="155.39" cy="104.95" r="0.78"/><circle cx="153.61" cy="100.39" r="0.78"/><circle cx="154.34" cy="111.43" r="0.78"/><circle cx="154.39" cy="101.26" r="0.78"/><circle cx="155.48" cy="90.13" r="0.78"/><circle cx="154.23" cy="93.37" r="0.78"/><circle cx="154.98" cy="93.71" r="0.78"/><circle cx="152.9" cy="112.33" r="0.78"/><circle cx="152.15" cy="98.12" r="0.78"/><circle cx="155.14" cy="97.87" r="0.78"/><circle cx="156.74" cy="112.93" r="0.78"/><circle cx="152.19" cy="94.45" r="0.78"/><circle cx="156.35" cy="104.43" r="0.78"/><circle cx="153.72" cy="112.25" r="0.78"/><circle cx="155.07" cy="111.34" r="0.78"/><circle cx="153.13" cy="93.35" r="0.78"/><circle cx="155.26" cy="100.81" r="0.78"/><circle cx="153.98" cy="95.55" r="0.78"/><circle cx="155.77" cy="106.3" r="0.78"/><circle cx="153.18" cy="95.41" r="0.78"/><circle cx="153.46" cy="93.75" r="0.78"/><circle cx="154.93" cy="96.03" r="0.78"/><circle cx="152.33" cy="92.64" r="0.78"/><circle cx="156.68" cy="106.69" r="0.78"/><circle cx="154.84" cy="96.21" r="0.78"/><circle cx="156.66" cy="99.1" r="0.78"/><circle cx="152.69" cy="96.11" r="0.78"/><circle cx="155.92" cy="83.91" r="0.78"/><circle cx="156.24" cy="75.03" r="0.78"/><circle cx="156.03" cy="72.95" r="0.78"/><circle cx="156.31" cy="79.25" r="0.78"/><circle cx="156.14" cy="79.75" r="0.78"/><circle cx="156.4" cy="81.27" r="0.78"/><circle cx="155.91" cy="79.66" r="0.78"/><circle cx="156.06" cy="74.92" r="0.78"/><circle cx="155.6" cy="83.44" r="0.78"/><circle cx="155.97" cy="76.16" r="0.78"/><circle cx="154.13" cy="76.58" r="0.78"/></g>
<g fill="#34559a" stroke="#142652" stroke-width="0.45" fill-opacity="0.82" stroke-opacity="0.82" clip-path="url(#cbl)"><circle cx="56.36" cy="197.08" r="0.78"/><circle cx="40.59" cy="213.13" r="0.78"/><circle cx="55.62" cy="199.63" r="0.78"/><circle cx="49.85" cy="206.08" r="0.78"/><circle cx="59.23" cy="194.33" r="0.78"/><circle cx="60.07" cy="195.42" r="0.78"/><circle cx="54.57" cy="202.15" r="0.78"/><circle cx="60.33" cy="194.48" r="0.78"/><circle cx="43.23" cy="211.77" r="0.78"/><circle cx="61.07" cy="190.18" r="0.78"/><circle cx="68.49" cy="188.79" r="0.78"/><circle cx="65.35" cy="189.6" r="0.78"/><circle cx="61.43" cy="190.81" r="0.78"/><circle cx="50.9" cy="204.14" r="0.78"/><circle cx="67.08" cy="189.51" r="0.78"/><circle cx="55.9" cy="199.97" r="0.78"/><circle cx="45.32" cy="209.66" r="0.78"/><circle cx="54.62" cy="199.81" r="0.78"/><circle cx="63.35" cy="190.49" r="0.78"/><circle cx="58.41" cy="195.66" r="0.78"/><circle cx="63.31" cy="191.52" r="0.78"/><circle cx="39.57" cy="214.43" r="0.78"/><circle cx="67.07" cy="187.26" r="0.78"/><circle cx="66.05" cy="189.02" r="0.78"/><circle cx="53.91" cy="201.45" r="0.78"/><circle cx="66.27" cy="189.22" r="0.78"/><circle cx="44.72" cy="211.04" r="0.78"/><circle cx="50.34" cy="205.95" r="0.78"/><circle cx="43.01" cy="210.01" r="0.78"/><circle cx="58.1" cy="195.83" r="0.78"/><circle cx="64.91" cy="188.14" r="0.78"/><circle cx="65.43" cy="187.84" r="0.78"/><circle cx="40.97" cy="213.21" r="0.78"/><circle cx="60.75" cy="192.7" r="0.78"/><circle cx="54.54" cy="198.74" r="0.78"/><circle cx="44.9" cy="208.88" r="0.78"/><circle cx="65.75" cy="190.38" r="0.78"/><circle cx="54.03" cy="200.01" r="0.78"/><circle cx="39.53" cy="213.97" r="0.78"/><circle cx="50.08" cy="205.03" r="0.78"/><circle cx="59.11" cy="196.14" r="0.78"/><circle cx="64.18" cy="191.36" r="0.78"/><circle cx="44.72" cy="210.01" r="0.78"/><circle cx="55.53" cy="197.8" r="0.78"/><circle cx="41.06" cy="212.9" r="0.78"/><circle cx="65.23" cy="188.82" r="0.78"/><circle cx="39" cy="215.35" r="0.78"/><circle cx="68.07" cy="188.25" r="0.78"/><circle cx="54.73" cy="198.55" r="0.78"/><circle cx="61.77" cy="194.76" r="0.78"/><circle cx="57.71" cy="195.46" r="0.78"/><circle cx="54.16" cy="201.53" r="0.78"/><circle cx="51.61" cy="202.91" r="0.78"/><circle cx="44.27" cy="209" r="0.78"/><circle cx="46.48" cy="206.61" r="0.78"/><circle cx="41.1" cy="212.49" r="0.78"/><circle cx="46.41" cy="207.63" r="0.78"/><circle cx="57.55" cy="196.19" r="0.78"/><circle cx="55.22" cy="199.89" r="0.78"/><circle cx="54.59" cy="198.28" r="0.78"/><circle cx="54.22" cy="200.21" r="0.78"/><circle cx="66.7" cy="188.33" r="0.78"/><circle cx="62.54" cy="189.68" r="0.78"/><circle cx="46.43" cy="207.9" r="0.78"/><circle cx="54.35" cy="198.67" r="0.78"/><circle cx="65.53" cy="185.7" r="0.78"/><circle cx="46.14" cy="207.39" r="0.78"/><circle cx="59.24" cy="195.15" r="0.78"/><circle cx="58.33" cy="197.4" r="0.78"/><circle cx="58.14" cy="195.89" r="0.78"/><circle cx="55.87" cy="200.3" r="0.78"/><circle cx="61.49" cy="195.15" r="0.78"/><circle cx="50.15" cy="205.14" r="0.78"/><circle cx="67.41" cy="189.6" r="0.78"/><circle cx="55.57" cy="199.33" r="0.78"/><circle cx="48.26" cy="205.38" r="0.78"/><circle cx="57.91" cy="197.48" r="0.78"/><circle cx="59.51" cy="196.38" r="0.78"/><circle cx="66.09" cy="189.26" r="0.78"/><circle cx="57.28" cy="197" r="0.78"/><circle cx="53.18" cy="199.49" r="0.78"/><circle cx="49.28" cy="205.56" r="0.78"/><circle cx="51.31" cy="203.34" r="0.78"/><circle cx="46.4" cy="206.52" r="0.78"/><circle cx="57.02" cy="197.67" r="0.78"/><circle cx="64.68" cy="191.27" r="0.78"/><circle cx="56.07" cy="198.32" r="0.78"/><circle cx="44.78" cy="209.83" r="0.78"/><circle cx="39.72" cy="214.51" r="0.78"/><circle cx="63.63" cy="189.15" r="0.78"/><circle cx="47.1" cy="206.73" r="0.78"/><circle cx="59.31" cy="195.97" r="0.78"/><circle cx="67.37" cy="189.05" r="0.78"/><circle cx="67.57" cy="189.59" r="0.78"/><circle cx="53.92" cy="198.34" r="0.78"/><circle cx="65.68" cy="189.2" r="0.78"/><circle cx="50.8" cy="204.18" r="0.78"/><circle cx="67.45" cy="189.42" r="0.78"/><circle cx="59.76" cy="197.03" r="0.78"/><circle cx="40.48" cy="212.66" r="0.78"/><circle cx="62.45" cy="191.87" r="0.78"/><circle cx="42.8" cy="210.29" r="0.78"/><circle cx="68.87" cy="187.52" r="0.78"/><circle cx="39.43" cy="213.42" r="0.78"/><circle cx="61.83" cy="194.52" r="0.78"/><circle cx="43.31" cy="211.31" r="0.78"/><circle cx="54.83" cy="200.18" r="0.78"/><circle cx="48.5" cy="203.59" r="0.78"/><circle cx="64.11" cy="189.83" r="0.78"/><circle cx="46.91" cy="207.82" r="0.78"/><circle cx="59.04" cy="193.81" r="0.78"/><circle cx="66.36" cy="188.3" r="0.78"/><circle cx="40.28" cy="213.42" r="0.78"/><circle cx="60.33" cy="195.53" r="0.78"/><circle cx="41" cy="213" r="0.78"/><circle cx="61.89" cy="193.28" r="0.78"/><circle cx="63.74" cy="190.53" r="0.78"/><circle cx="42.56" cy="211.32" r="0.78"/><circle cx="64.77" cy="189.98" r="0.78"/><circle cx="51.88" cy="203.19" r="0.78"/><circle cx="47.54" cy="206.41" r="0.78"/><circle cx="68.07" cy="188.58" r="0.78"/><circle cx="49.07" cy="203.47" r="0.78"/><circle cx="45.15" cy="209.82" r="0.78"/><circle cx="48.18" cy="205.81" r="0.78"/><circle cx="66.29" cy="190.35" r="0.78"/><circle cx="67.92" cy="187.3" r="0.78"/><circle cx="52.46" cy="202.78" r="0.78"/><circle cx="53.97" cy="202.05" r="0.78"/><circle cx="55.97" cy="197.9" r="0.78"/><circle cx="63.58" cy="191.41" r="0.78"/><circle cx="38.61" cy="214.98" r="0.78"/><circle cx="62.35" cy="192.75" r="0.78"/><circle cx="66.28" cy="186.28" r="0.78"/><circle cx="50.44" cy="203.64" r="0.78"/><circle cx="51.37" cy="202.67" r="0.78"/><circle cx="66.47" cy="187.37" r="0.78"/><circle cx="50.48" cy="203.59" r="0.78"/><circle cx="48.93" cy="203.77" r="0.78"/><circle cx="65.1" cy="191.82" r="0.78"/><circle cx="52.79" cy="202.04" r="0.78"/><circle cx="58.9" cy="198.04" r="0.78"/><circle cx="46.58" cy="206.72" r="0.78"/><circle cx="58.03" cy="195.14" r="0.78"/><circle cx="49.54" cy="204.94" r="0.78"/><circle cx="60.73" cy="191.78" r="0.78"/><circle cx="53.26" cy="201.37" r="0.78"/><circle cx="65.4" cy="188.54" r="0.78"/><circle cx="54.59" cy="199.48" r="0.78"/><circle cx="64.24" cy="191.03" r="0.78"/><circle cx="51.6" cy="202.76" r="0.78"/><circle cx="59.57" cy="197.41" r="0.78"/><circle cx="46.66" cy="207.96" r="0.78"/><circle cx="55.2" cy="197.79" r="0.78"/><circle cx="58.84" cy="197.01" r="0.78"/><circle cx="43.58" cy="209.29" r="0.78"/><circle cx="54.72" cy="199.83" r="0.78"/><circle cx="65.07" cy="188.05" r="0.78"/><circle cx="44.1" cy="209.19" r="0.78"/><circle cx="53.7" cy="202.1" r="0.78"/><circle cx="63.07" cy="191.01" r="0.78"/><circle cx="50.82" cy="202.8" r="0.78"/><circle cx="39.1" cy="214.25" r="0.78"/><circle cx="53.95" cy="200.13" r="0.78"/><circle cx="52.97" cy="202.89" r="0.78"/><circle cx="65.29" cy="187.93" r="0.78"/><circle cx="57.51" cy="195.56" r="0.78"/><circle cx="62.02" cy="193.55" r="0.78"/><circle cx="48.65" cy="204" r="0.78"/><circle cx="64.96" cy="189.45" r="0.78"/><circle cx="63.97" cy="192.48" r="0.78"/><circle cx="41.11" cy="212.69" r="0.78"/><circle cx="57.87" cy="196.14" r="0.78"/><circle cx="64.95" cy="188.96" r="0.78"/><circle cx="57.3" cy="196.16" r="0.78"/><circle cx="67.01" cy="187.13" r="0.78"/><circle cx="46.26" cy="207.91" r="0.78"/><circle cx="56.7" cy="199.28" r="0.78"/><circle cx="54.89" cy="200.64" r="0.78"/><circle cx="46.98" cy="206.6" r="0.78"/><circle cx="61.29" cy="192.49" r="0.78"/><circle cx="51.65" cy="203.36" r="0.78"/><circle cx="56.73" cy="195.61" r="0.78"/><circle cx="61.51" cy="192.67" r="0.78"/><circle cx="59.95" cy="194.33" r="0.78"/><circle cx="41" cy="212.01" r="0.78"/><circle cx="39.71" cy="213.36" r="0.78"/><circle cx="63.17" cy="192.14" r="0.78"/><circle cx="56.85" cy="195.69" r="0.78"/><circle cx="42.48" cy="210.7" r="0.78"/><circle cx="42.04" cy="211.33" r="0.78"/><circle cx="53.32" cy="201.14" r="0.78"/><circle cx="43.18" cy="209.65" r="0.78"/><circle cx="67.03" cy="189.58" r="0.78"/><circle cx="44.96" cy="208.76" r="0.78"/><circle cx="66.43" cy="188.16" r="0.78"/><circle cx="59.57" cy="194.62" r="0.78"/><circle cx="54.64" cy="199.03" r="0.78"/><circle cx="57.86" cy="195.5" r="0.78"/><circle cx="59.81" cy="196.29" r="0.78"/><circle cx="47.01" cy="207.24" r="0.78"/><circle cx="52.93" cy="201.3" r="0.78"/><circle cx="40.7" cy="213.74" r="0.78"/><circle cx="39.58" cy="213.67" r="0.78"/><circle cx="67.08" cy="188.85" r="0.78"/><circle cx="63.85" cy="191.03" r="0.78"/><circle cx="60.35" cy="193.17" r="0.78"/><circle cx="41.76" cy="212.6" r="0.78"/><circle cx="56.16" cy="196.55" r="0.78"/><circle cx="60.19" cy="195.31" r="0.78"/><circle cx="50.82" cy="202.53" r="0.78"/><circle cx="49.88" cy="204.7" r="0.78"/><circle cx="60.99" cy="195.49" r="0.78"/><circle cx="38.86" cy="215.17" r="0.78"/><circle cx="52.14" cy="201.52" r="0.78"/><circle cx="46.04" cy="207.95" r="0.78"/><circle cx="51.47" cy="202.42" r="0.78"/><circle cx="54.25" cy="198.82" r="0.78"/><circle cx="50.41" cy="202.7" r="0.78"/><circle cx="64.64" cy="190.29" r="0.78"/><circle cx="65.14" cy="190.51" r="0.78"/><circle cx="59.95" cy="192.39" r="0.78"/><circle cx="62.1" cy="192.55" r="0.78"/><circle cx="53.62" cy="201.27" r="0.78"/><circle cx="46.53" cy="207.59" r="0.78"/><circle cx="62.1" cy="191.28" r="0.78"/><circle cx="42.23" cy="212.34" r="0.78"/><circle cx="55.45" cy="197.58" r="0.78"/><circle cx="57.71" cy="197.61" r="0.78"/><circle cx="42.21" cy="212.76" r="0.78"/><circle cx="43.67" cy="208.59" r="0.78"/><circle cx="58.64" cy="196.26" r="0.78"/><circle cx="64.25" cy="191.03" r="0.78"/><circle cx="50.17" cy="204.24" r="0.78"/><circle cx="53.84" cy="199.67" r="0.78"/><circle cx="59.36" cy="194.85" r="0.78"/><circle cx="54.98" cy="197.83" r="0.78"/><circle cx="52.29" cy="202.13" r="0.78"/><circle cx="57.78" cy="197.4" r="0.78"/><circle cx="59.19" cy="194.57" r="0.78"/><circle cx="61.71" cy="191.76" r="0.78"/><circle cx="54.89" cy="198.98" r="0.78"/><circle cx="58.14" cy="196.4" r="0.78"/><circle cx="44.24" cy="209.72" r="0.78"/><circle cx="43.17" cy="210.62" r="0.78"/><circle cx="62.64" cy="192.21" r="0.78"/><circle cx="44.53" cy="208.33" r="0.78"/><circle cx="50.06" cy="201.35" r="0.78"/><circle cx="65.28" cy="190.47" r="0.78"/><circle cx="43.29" cy="211.64" r="0.78"/><circle cx="57.8" cy="194.98" r="0.78"/><circle cx="45.52" cy="207.89" r="0.78"/><circle cx="57.27" cy="197.59" r="0.78"/><circle cx="63.44" cy="192.64" r="0.78"/><circle cx="63.35" cy="192.31" r="0.78"/><circle cx="62.47" cy="193.96" r="0.78"/><circle cx="53.83" cy="200.46" r="0.78"/><circle cx="54.86" cy="199.99" r="0.78"/><circle cx="43.67" cy="210.53" r="0.78"/><circle cx="41.71" cy="211.78" r="0.78"/><circle cx="61.51" cy="194.74" r="0.78"/><circle cx="40.14" cy="213.99" r="0.78"/><circle cx="66.98" cy="189.4" r="0.78"/><circle cx="43.77" cy="209.81" r="0.78"/><circle cx="60.56" cy="195.4" r="0.78"/><circle cx="51.22" cy="201.93" r="0.78"/><circle cx="56.92" cy="198.02" r="0.78"/><circle cx="59.3" cy="191.89" r="0.78"/><circle cx="46.78" cy="206.35" r="0.78"/><circle cx="63.55" cy="192.24" r="0.78"/><circle cx="60.67" cy="193.4" r="0.78"/><circle cx="55.82" cy="198.81" r="0.78"/><circle cx="54.62" cy="197.91" r="0.78"/><circle cx="50.6" cy="205.08" r="0.78"/><circle cx="67.8" cy="188.07" r="0.78"/><circle cx="49.95" cy="204.19" r="0.78"/><circle cx="45.75" cy="208.57" r="0.78"/><circle cx="55.25" cy="199.52" r="0.78"/><circle cx="66.94" cy="190.05" r="0.78"/><circle cx="66.22" cy="189" r="0.78"/><circle cx="54.82" cy="197.89" r="0.78"/><circle cx="49.97" cy="203.94" r="0.78"/><circle cx="61.54" cy="194.81" r="0.78"/><circle cx="55.41" cy="199.64" r="0.78"/><circle cx="62.69" cy="191.48" r="0.78"/><circle cx="63.7" cy="191.92" r="0.78"/><circle cx="59.44" cy="195.3" r="0.78"/><circle cx="67.92" cy="187.98" r="0.78"/><circle cx="56.82" cy="195.75" r="0.78"/><circle cx="66.85" cy="186.74" r="0.78"/><circle cx="58.27" cy="197.08" r="0.78"/><circle cx="44.81" cy="208.94" r="0.78"/><circle cx="57.35" cy="197.57" r="0.78"/><circle cx="62.61" cy="194.7" r="0.78"/><circle cx="50.87" cy="203.03" r="0.78"/><circle cx="43.48" cy="210.57" r="0.78"/><circle cx="48.63" cy="204.96" r="0.78"/><circle cx="61.33" cy="192.53" r="0.78"/><circle cx="44.55" cy="209.31" r="0.78"/><circle cx="38.26" cy="214.47" r="0.78"/><circle cx="63.18" cy="188.62" r="0.78"/><circle cx="68.45" cy="188.6" r="0.78"/><circle cx="64.28" cy="190.39" r="0.78"/><circle cx="63.08" cy="193.19" r="0.78"/><circle cx="60.27" cy="194.52" r="0.78"/><circle cx="54.94" cy="199.61" r="0.78"/><circle cx="58.26" cy="197.08" r="0.78"/><circle cx="61.15" cy="194.45" r="0.78"/><circle cx="47.65" cy="205.32" r="0.78"/><circle cx="44.99" cy="209.91" r="0.78"/><circle cx="58.52" cy="194.83" r="0.78"/><circle cx="56.53" cy="198.17" r="0.78"/><circle cx="69.91" cy="189.02" r="0.78"/><circle cx="50.81" cy="203.48" r="0.78"/><circle cx="51.57" cy="204.31" r="0.78"/><circle cx="41.9" cy="211.65" r="0.78"/><circle cx="39.01" cy="215.04" r="0.78"/><circle cx="42.55" cy="211.31" r="0.78"/><circle cx="56.31" cy="198.62" r="0.78"/><circle cx="66.56" cy="187.09" r="0.78"/><circle cx="41.43" cy="211.69" r="0.78"/><circle cx="43.28" cy="210.83" r="0.78"/><circle cx="57.8" cy="194.8" r="0.78"/><circle cx="47.03" cy="206.25" r="0.78"/><circle cx="39.94" cy="214.18" r="0.78"/><circle cx="64.48" cy="189.47" r="0.78"/><circle cx="42.5" cy="210.67" r="0.78"/><circle cx="50.86" cy="202.23" r="0.78"/><circle cx="61.03" cy="193.83" r="0.78"/><circle cx="61.46" cy="192.75" r="0.78"/><circle cx="67.06" cy="188.1" r="0.78"/><circle cx="55.98" cy="198.24" r="0.78"/><circle cx="43.48" cy="211.76" r="0.78"/><circle cx="40.63" cy="212.82" r="0.78"/><circle cx="56.44" cy="195.69" r="0.78"/><circle cx="54.44" cy="200.05" r="0.78"/><circle cx="45.82" cy="208.16" r="0.78"/><circle cx="43.36" cy="210.62" r="0.78"/><circle cx="48.1" cy="204.49" r="0.78"/><circle cx="47.47" cy="207.57" r="0.78"/><circle cx="48.96" cy="205.13" r="0.78"/><circle cx="48.86" cy="205.22" r="0.78"/><circle cx="59.85" cy="192.72" r="0.78"/><circle cx="52.42" cy="202.35" r="0.78"/><circle cx="63.68" cy="191.02" r="0.78"/><circle cx="54.1" cy="201.69" r="0.78"/><circle cx="46.88" cy="206.79" r="0.78"/><circle cx="65.12" cy="187.95" r="0.78"/><circle cx="57.93" cy="196.75" r="0.78"/><circle cx="62.96" cy="190.55" r="0.78"/><circle cx="45.51" cy="208.8" r="0.78"/><circle cx="66.67" cy="186.64" r="0.78"/><circle cx="57.29" cy="197.06" r="0.78"/><circle cx="49.47" cy="204.46" r="0.78"/><circle cx="45.86" cy="208.09" r="0.78"/><circle cx="41.15" cy="212.26" r="0.78"/><circle cx="39.1" cy="214.06" r="0.78"/><circle cx="44.21" cy="209.65" r="0.78"/><circle cx="47.38" cy="206.15" r="0.78"/><circle cx="54.32" cy="200.21" r="0.78"/><circle cx="50.14" cy="203.77" r="0.78"/><circle cx="39" cy="213.21" r="0.78"/><circle cx="42.67" cy="211.12" r="0.78"/><circle cx="39.35" cy="215.19" r="0.78"/><circle cx="39.68" cy="214.22" r="0.78"/><circle cx="47.53" cy="207.05" r="0.78"/><circle cx="57.73" cy="197.32" r="0.78"/><circle cx="42.78" cy="210.71" r="0.78"/><circle cx="63.86" cy="189.06" r="0.78"/><circle cx="68.5" cy="187.72" r="0.78"/><circle cx="57.37" cy="198.35" r="0.78"/><circle cx="40" cy="214.08" r="0.78"/><circle cx="43.96" cy="210.26" r="0.78"/><circle cx="53.86" cy="200.9" r="0.78"/><circle cx="66.31" cy="188.56" r="0.78"/><circle cx="67.94" cy="187.46" r="0.78"/><circle cx="60.41" cy="194.24" r="0.78"/><circle cx="65.23" cy="190.1" r="0.78"/><circle cx="40.95" cy="212.15" r="0.78"/><circle cx="53.21" cy="200.44" r="0.78"/><circle cx="52.97" cy="201.92" r="0.78"/><circle cx="44.71" cy="208.94" r="0.78"/><circle cx="53.9" cy="197.76" r="0.78"/><circle cx="55.27" cy="199.27" r="0.78"/><circle cx="65.74" cy="185.77" r="0.78"/><circle cx="41" cy="214.02" r="0.78"/><circle cx="47.63" cy="207.06" r="0.78"/><circle cx="43.74" cy="210.65" r="0.78"/><circle cx="44.78" cy="208.62" r="0.78"/><circle cx="47.39" cy="205.66" r="0.78"/><circle cx="49.3" cy="204.64" r="0.78"/><circle cx="67.02" cy="187.96" r="0.78"/><circle cx="47.85" cy="205.53" r="0.78"/><circle cx="52.92" cy="201.54" r="0.78"/><circle cx="43.59" cy="210.8" r="0.78"/><circle cx="45.21" cy="209.22" r="0.78"/><circle cx="44.44" cy="208.65" r="0.78"/><circle cx="54.19" cy="197.77" r="0.78"/><circle cx="47.37" cy="206.69" r="0.78"/><circle cx="46.4" cy="207.05" r="0.78"/><circle cx="54.27" cy="200.58" r="0.78"/><circle cx="39.36" cy="215.33" r="0.78"/><circle cx="65.32" cy="191.81" r="0.78"/><circle cx="40" cy="213.9" r="0.78"/><circle cx="51.21" cy="204.09" r="0.78"/><circle cx="69.16" cy="188.34" r="0.78"/><circle cx="43.41" cy="210.49" r="0.78"/><circle cx="39.81" cy="214.08" r="0.78"/><circle cx="53.34" cy="201.87" r="0.78"/><circle cx="57.21" cy="197.25" r="0.78"/><circle cx="49.58" cy="204.11" r="0.78"/><circle cx="44.66" cy="208.68" r="0.78"/><circle cx="59.05" cy="195.56" r="0.78"/><circle cx="55.67" cy="198.08" r="0.78"/><circle cx="49.11" cy="205.75" r="0.78"/><circle cx="56.6" cy="197.5" r="0.78"/><circle cx="64.48" cy="192.33" r="0.78"/><circle cx="54.41" cy="201.25" r="0.78"/><circle cx="49.39" cy="203.59" r="0.78"/><circle cx="57.41" cy="198.35" r="0.78"/><circle cx="53.27" cy="200.64" r="0.78"/><circle cx="41.8" cy="212.95" r="0.78"/><circle cx="65.75" cy="189.88" r="0.78"/><circle cx="42.08" cy="211.71" r="0.78"/><circle cx="61.01" cy="194.53" r="0.78"/><circle cx="51.06" cy="202.62" r="0.78"/><circle cx="62.03" cy="193.14" r="0.78"/><circle cx="54.23" cy="200.56" r="0.78"/><circle cx="62.83" cy="191.76" r="0.78"/><circle cx="52.63" cy="202.07" r="0.78"/><circle cx="45.37" cy="207.8" r="0.78"/><circle cx="61.78" cy="193.67" r="0.78"/><circle cx="62.33" cy="190.82" r="0.78"/><circle cx="53.74" cy="201.28" r="0.78"/><circle cx="66.51" cy="189.12" r="0.78"/><circle cx="59.98" cy="195.54" r="0.78"/><circle cx="65.89" cy="188.25" r="0.78"/><circle cx="45.39" cy="210.92" r="0.78"/><circle cx="66.45" cy="188.19" r="0.78"/><circle cx="61.44" cy="193.48" r="0.78"/><circle cx="66.05" cy="187.82" r="0.78"/><circle cx="49.5" cy="205.97" r="0.78"/><circle cx="54.76" cy="199.15" r="0.78"/><circle cx="65.83" cy="190.49" r="0.78"/><circle cx="57.94" cy="195.51" r="0.78"/><circle cx="47.16" cy="207.17" r="0.78"/><circle cx="46.88" cy="206.87" r="0.78"/><circle cx="67.36" cy="188.99" r="0.78"/><circle cx="58.3" cy="195.95" r="0.78"/><circle cx="39.69" cy="213.48" r="0.78"/><circle cx="46.31" cy="208.1" r="0.78"/><circle cx="54.4" cy="198.72" r="0.78"/><circle cx="43.69" cy="209.49" r="0.78"/><circle cx="52.71" cy="202.4" r="0.78"/><circle cx="57.26" cy="195.08" r="0.78"/><circle cx="41.15" cy="213.15" r="0.78"/><circle cx="45.81" cy="207.87" r="0.78"/><circle cx="64.11" cy="189.5" r="0.78"/><circle cx="39.68" cy="214.2" r="0.78"/><circle cx="41.94" cy="212.33" r="0.78"/><circle cx="62.54" cy="191.49" r="0.78"/><circle cx="58.52" cy="195.88" r="0.78"/><circle cx="52.9" cy="202.26" r="0.78"/><circle cx="64.6" cy="191.32" r="0.78"/><circle cx="44.61" cy="209.32" r="0.78"/><circle cx="38.32" cy="214.89" r="0.78"/><circle cx="62.08" cy="191.47" r="0.78"/><circle cx="57.13" cy="196.74" r="0.78"/><circle cx="48.77" cy="206" r="0.78"/><circle cx="56.04" cy="199.1" r="0.78"/><circle cx="40.92" cy="213.07" r="0.78"/><circle cx="48.35" cy="207" r="0.78"/><circle cx="55.24" cy="198.9" r="0.78"/><circle cx="63.41" cy="190.94" r="0.78"/><circle cx="47.7" cy="206.08" r="0.78"/><circle cx="40.82" cy="214.19" r="0.78"/><circle cx="40.34" cy="212.06" r="0.78"/><circle cx="47.68" cy="206.68" r="0.78"/><circle cx="57.39" cy="197.7" r="0.78"/><circle cx="59.54" cy="195.22" r="0.78"/><circle cx="60.59" cy="196.95" r="0.78"/><circle cx="65.38" cy="191.18" r="0.78"/><circle cx="59.26" cy="196.33" r="0.78"/><circle cx="57.94" cy="195.61" r="0.78"/><circle cx="56.45" cy="198.64" r="0.78"/><circle cx="58.13" cy="196.06" r="0.78"/><circle cx="60.29" cy="194.49" r="0.78"/><circle cx="67.76" cy="187.62" r="0.78"/><circle cx="43.59" cy="209.98" r="0.78"/><circle cx="58.01" cy="197.34" r="0.78"/><circle cx="42.68" cy="212.34" r="0.78"/><circle cx="44.96" cy="209.83" r="0.78"/><circle cx="66.29" cy="189.03" r="0.78"/><circle cx="49.6" cy="202.8" r="0.78"/><circle cx="55.96" cy="199.74" r="0.78"/><circle cx="45.15" cy="209.7" r="0.78"/><circle cx="53.57" cy="200.65" r="0.78"/><circle cx="38.98" cy="214.45" r="0.78"/><circle cx="56.15" cy="199.12" r="0.78"/><circle cx="66.39" cy="187.49" r="0.78"/><circle cx="59.45" cy="196.2" r="0.78"/><circle cx="57.69" cy="195.66" r="0.78"/><circle cx="54.52" cy="198.96" r="0.78"/><circle cx="47.99" cy="206.17" r="0.78"/><circle cx="60.65" cy="192.27" r="0.78"/><circle cx="50.03" cy="204.22" r="0.78"/><circle cx="48.71" cy="205.95" r="0.78"/><circle cx="54.09" cy="198.96" r="0.78"/><circle cx="68.25" cy="188.21" r="0.78"/><circle cx="60.04" cy="194.01" r="0.78"/><circle cx="58.92" cy="196.41" r="0.78"/><circle cx="42.31" cy="211.72" r="0.78"/><circle cx="62.3" cy="191.95" r="0.78"/><circle cx="50.81" cy="202.98" r="0.78"/><circle cx="56.25" cy="196.37" r="0.78"/><circle cx="54.82" cy="198.92" r="0.78"/><circle cx="61.43" cy="192.4" r="0.78"/><circle cx="39.86" cy="214.91" r="0.78"/><circle cx="41.66" cy="212.87" r="0.78"/><circle cx="46.25" cy="206.69" r="0.78"/><circle cx="44.77" cy="209.85" r="0.78"/><circle cx="58.94" cy="196.01" r="0.78"/><circle cx="41.76" cy="211.83" r="0.78"/><circle cx="41.32" cy="212.83" r="0.78"/><circle cx="54.68" cy="200.63" r="0.78"/><circle cx="40.2" cy="213.21" r="0.78"/><circle cx="62.01" cy="192.48" r="0.78"/><circle cx="48.34" cy="205.98" r="0.78"/><circle cx="47.04" cy="206.24" r="0.78"/><circle cx="56.39" cy="198.38" r="0.78"/><circle cx="67.58" cy="187.42" r="0.78"/><circle cx="46.59" cy="206.93" r="0.78"/><circle cx="44.84" cy="208.52" r="0.78"/><circle cx="49.57" cy="204.95" r="0.78"/><circle cx="62.29" cy="193.67" r="0.78"/><circle cx="66.59" cy="188.94" r="0.78"/><circle cx="42.71" cy="210.58" r="0.78"/><circle cx="39.52" cy="214.69" r="0.78"/><circle cx="47.63" cy="206.66" r="0.78"/><circle cx="48.26" cy="206.43" r="0.78"/><circle cx="61.5" cy="194.75" r="0.78"/><circle cx="58.25" cy="195.35" r="0.78"/><circle cx="60.69" cy="193.91" r="0.78"/><circle cx="49.89" cy="203.82" r="0.78"/><circle cx="50.82" cy="202.65" r="0.78"/><circle cx="68.01" cy="189.93" r="0.78"/><circle cx="40.14" cy="214.23" r="0.78"/><circle cx="38.51" cy="214.13" r="0.78"/><circle cx="39.03" cy="214.95" r="0.78"/><circle cx="62.51" cy="191.64" r="0.78"/><circle cx="54.5" cy="201.17" r="0.78"/><circle cx="59.26" cy="195.55" r="0.78"/><circle cx="57.87" cy="196.57" r="0.78"/><circle cx="62.84" cy="192.23" r="0.78"/><circle cx="54.47" cy="200.41" r="0.78"/><circle cx="48.25" cy="205.95" r="0.78"/><circle cx="41.68" cy="212.03" r="0.78"/><circle cx="50.65" cy="203.52" r="0.78"/><circle cx="44.44" cy="209.94" r="0.78"/><circle cx="65.36" cy="188.08" r="0.78"/><circle cx="61.26" cy="193.55" r="0.78"/><circle cx="46.87" cy="207.14" r="0.78"/><circle cx="53.47" cy="200.46" r="0.78"/><circle cx="52.82" cy="202.3" r="0.78"/><circle cx="55.79" cy="197.32" r="0.78"/><circle cx="66.5" cy="188.05" r="0.78"/><circle cx="46.31" cy="207.08" r="0.78"/><circle cx="57.1" cy="198.12" r="0.78"/><circle cx="53.27" cy="200.68" r="0.78"/><circle cx="67.02" cy="188.13" r="0.78"/><circle cx="45.08" cy="209.24" r="0.78"/><circle cx="56.89" cy="195.88" r="0.78"/><circle cx="41.27" cy="212.87" r="0.78"/><circle cx="54.29" cy="199.39" r="0.78"/><circle cx="66.96" cy="187.76" r="0.78"/><circle cx="59.88" cy="194.73" r="0.78"/><circle cx="39.59" cy="214.66" r="0.78"/><circle cx="68.4" cy="187.82" r="0.78"/><circle cx="55.49" cy="200.89" r="0.78"/><circle cx="55.86" cy="198.88" r="0.78"/><circle cx="66.38" cy="188.01" r="0.78"/><circle cx="55.64" cy="198.35" r="0.78"/><circle cx="45.26" cy="209.28" r="0.78"/><circle cx="52.02" cy="203.87" r="0.78"/><circle cx="61.05" cy="194.17" r="0.78"/><circle cx="50.01" cy="203.72" r="0.78"/><circle cx="43.55" cy="210.6" r="0.78"/><circle cx="50.17" cy="204.33" r="0.78"/><circle cx="41.5" cy="212.37" r="0.78"/><circle cx="41.15" cy="212.19" r="0.78"/><circle cx="41.17" cy="210.92" r="0.78"/><circle cx="53.38" cy="200.5" r="0.78"/><circle cx="48.48" cy="206.62" r="0.78"/><circle cx="43.86" cy="210.26" r="0.78"/><circle cx="59.18" cy="192.83" r="0.78"/><circle cx="56.72" cy="197.87" r="0.78"/><circle cx="61.76" cy="190.68" r="0.78"/><circle cx="43.93" cy="211.47" r="0.78"/><circle cx="57.09" cy="197.74" r="0.78"/><circle cx="45.8" cy="207.29" r="0.78"/><circle cx="53.63" cy="201.61" r="0.78"/><circle cx="51.39" cy="202.19" r="0.78"/><circle cx="56.18" cy="199" r="0.78"/><circle cx="55.5" cy="199.06" r="0.78"/><circle cx="65.09" cy="188.27" r="0.78"/><circle cx="57.48" cy="197.9" r="0.78"/><circle cx="48.34" cy="204.66" r="0.78"/><circle cx="63.05" cy="193.56" r="0.78"/><circle cx="43.25" cy="210.73" r="0.78"/><circle cx="60.98" cy="192.53" r="0.78"/><circle cx="54.7" cy="197.83" r="0.78"/><circle cx="46.84" cy="208.57" r="0.78"/><circle cx="61.83" cy="194.8" r="0.78"/><circle cx="41.39" cy="211.6" r="0.78"/><circle cx="39.97" cy="214.81" r="0.78"/><circle cx="46.61" cy="207.63" r="0.78"/><circle cx="53.41" cy="200.8" r="0.78"/><circle cx="57.24" cy="197.27" r="0.78"/><circle cx="47.7" cy="206.22" r="0.78"/><circle cx="56.51" cy="199.62" r="0.78"/><circle cx="67.88" cy="187.47" r="0.78"/><circle cx="66.97" cy="185.44" r="0.78"/><circle cx="61.26" cy="196.08" r="0.78"/><circle cx="47.82" cy="207.08" r="0.78"/><circle cx="52.14" cy="201.15" r="0.78"/><circle cx="62.37" cy="192.04" r="0.78"/><circle cx="64.36" cy="189.38" r="0.78"/><circle cx="66.93" cy="188.22" r="0.78"/><circle cx="50.19" cy="204.44" r="0.78"/><circle cx="48.63" cy="205.78" r="0.78"/><circle cx="48.2" cy="205.45" r="0.78"/><circle cx="61.41" cy="192.4" r="0.78"/><circle cx="67.67" cy="188.65" r="0.78"/><circle cx="55.22" cy="199.19" r="0.78"/><circle cx="52.76" cy="203.81" r="0.78"/><circle cx="57.89" cy="195.82" r="0.78"/><circle cx="51.4" cy="203.68" r="0.78"/><circle cx="55.5" cy="199.08" r="0.78"/><circle cx="43.75" cy="209.65" r="0.78"/><circle cx="41.82" cy="212.95" r="0.78"/><circle cx="50.6" cy="203.8" r="0.78"/><circle cx="46.07" cy="207.27" r="0.78"/><circle cx="42.84" cy="210.85" r="0.78"/><circle cx="68.02" cy="188.56" r="0.78"/><circle cx="58.53" cy="194.69" r="0.78"/><circle cx="50.66" cy="204.9" r="0.78"/><circle cx="68.6" cy="187.56" r="0.78"/><circle cx="41.51" cy="212.15" r="0.78"/><circle cx="49.44" cy="205.99" r="0.78"/><circle cx="66.06" cy="191.35" r="0.78"/><circle cx="51.94" cy="203.63" r="0.78"/><circle cx="50.56" cy="202.4" r="0.78"/><circle cx="52.51" cy="201.74" r="0.78"/><circle cx="43.11" cy="209.88" r="0.78"/><circle cx="44.53" cy="208.06" r="0.78"/><circle cx="38.76" cy="215.06" r="0.78"/><circle cx="44.86" cy="211.02" r="0.78"/><circle cx="44.09" cy="211.08" r="0.78"/><circle cx="40.21" cy="213.61" r="0.78"/><circle cx="50.2" cy="203.7" r="0.78"/><circle cx="42.49" cy="211.55" r="0.78"/><circle cx="40.63" cy="213.87" r="0.78"/><circle cx="39.58" cy="213.21" r="0.78"/><circle cx="38.17" cy="214.36" r="0.78"/><circle cx="50.16" cy="205.88" r="0.78"/><circle cx="46.18" cy="208.14" r="0.78"/><circle cx="46.61" cy="208.83" r="0.78"/><circle cx="44.45" cy="209.73" r="0.78"/><circle cx="53.04" cy="202.9" r="0.78"/><circle cx="43.61" cy="209.87" r="0.78"/><circle cx="45.44" cy="209.01" r="0.78"/><circle cx="49.05" cy="206.59" r="0.78"/><circle cx="52.3" cy="203.12" r="0.78"/><circle cx="50.54" cy="203.3" r="0.78"/><circle cx="51.54" cy="203.69" r="0.78"/><circle cx="40.81" cy="212.55" r="0.78"/><circle cx="51.27" cy="201.59" r="0.78"/><circle cx="50.52" cy="204.28" r="0.78"/><circle cx="43.68" cy="211.34" r="0.78"/><circle cx="50.41" cy="204.7" r="0.78"/><circle cx="51.47" cy="201.56" r="0.78"/><circle cx="49.51" cy="205.55" r="0.78"/><circle cx="49.36" cy="205.52" r="0.78"/><circle cx="50.25" cy="203.57" r="0.78"/><circle cx="49.81" cy="201.95" r="0.78"/><circle cx="50.14" cy="205.11" r="0.78"/><circle cx="39.81" cy="214.54" r="0.78"/><circle cx="41.58" cy="212.63" r="0.78"/><circle cx="39.56" cy="213.04" r="0.78"/><circle cx="44.5" cy="208.27" r="0.78"/><circle cx="39.67" cy="214.74" r="0.78"/><circle cx="46.67" cy="208.12" r="0.78"/><circle cx="51.96" cy="202.9" r="0.78"/><circle cx="52.4" cy="201.72" r="0.78"/><circle cx="39.06" cy="214.92" r="0.78"/><circle cx="47.98" cy="205.69" r="0.78"/><circle cx="40.35" cy="213.23" r="0.78"/><circle cx="50.38" cy="203.03" r="0.78"/><circle cx="38.93" cy="214.96" r="0.78"/><circle cx="39.75" cy="213.74" r="0.78"/><circle cx="43.42" cy="211.25" r="0.78"/><circle cx="38.7" cy="215.46" r="0.78"/><circle cx="47.56" cy="205.84" r="0.78"/><circle cx="42.01" cy="213.17" r="0.78"/><circle cx="48.24" cy="204.88" r="0.78"/><circle cx="52.31" cy="202.54" r="0.78"/><circle cx="45.62" cy="209.33" r="0.78"/><circle cx="45.7" cy="209.42" r="0.78"/><circle cx="51.58" cy="200.42" r="0.78"/><circle cx="43.3" cy="211.4" r="0.78"/><circle cx="51.77" cy="203.81" r="0.78"/><circle cx="49.34" cy="206.24" r="0.78"/><circle cx="37.84" cy="214.45" r="0.78"/><circle cx="42.43" cy="210.96" r="0.78"/><circle cx="48.74" cy="205.37" r="0.78"/><circle cx="38.91" cy="214.53" r="0.78"/><circle cx="51.42" cy="204.26" r="0.78"/><circle cx="51.19" cy="202.44" r="0.78"/><circle cx="49.93" cy="205.51" r="0.78"/><circle cx="50.36" cy="204.48" r="0.78"/><circle cx="46.36" cy="206.44" r="0.78"/><circle cx="49.56" cy="203.71" r="0.78"/><circle cx="44.94" cy="208.69" r="0.78"/><circle cx="44.32" cy="209.75" r="0.78"/><circle cx="48.99" cy="206.16" r="0.78"/><circle cx="45.02" cy="208.85" r="0.78"/><circle cx="43.22" cy="211.41" r="0.78"/><circle cx="41.63" cy="211.06" r="0.78"/><circle cx="43.45" cy="208" r="0.78"/><circle cx="43.77" cy="209.93" r="0.78"/><circle cx="49.48" cy="205.2" r="0.78"/><circle cx="49.52" cy="204.37" r="0.78"/><circle cx="49.4" cy="203.84" r="0.78"/><circle cx="50.78" cy="203.95" r="0.78"/><circle cx="44.37" cy="211.13" r="0.78"/><circle cx="43.68" cy="210.2" r="0.78"/><circle cx="50.11" cy="203.44" r="0.78"/><circle cx="40.7" cy="212.52" r="0.78"/><circle cx="49.43" cy="206.65" r="0.78"/><circle cx="45.94" cy="208.09" r="0.78"/><circle cx="48.28" cy="206.46" r="0.78"/><circle cx="49" cy="206.35" r="0.78"/><circle cx="48.53" cy="206.66" r="0.78"/><circle cx="41.45" cy="211.73" r="0.78"/><circle cx="39.04" cy="215.3" r="0.78"/><circle cx="52.56" cy="202.71" r="0.78"/><circle cx="51.58" cy="203.27" r="0.78"/><circle cx="46.1" cy="208.83" r="0.78"/><circle cx="47.66" cy="205.97" r="0.78"/><circle cx="39.69" cy="214.03" r="0.78"/><circle cx="44.78" cy="208.79" r="0.78"/><circle cx="47.2" cy="207.6" r="0.78"/><circle cx="48.17" cy="205.39" r="0.78"/><circle cx="41.7" cy="212.45" r="0.78"/><circle cx="39.37" cy="213.65" r="0.78"/><circle cx="52.18" cy="202.06" r="0.78"/><circle cx="50.44" cy="203.48" r="0.78"/><circle cx="40.93" cy="212.81" r="0.78"/><circle cx="50.31" cy="204.1" r="0.78"/><circle cx="50.01" cy="204.08" r="0.78"/><circle cx="40.94" cy="212.73" r="0.78"/><circle cx="48.97" cy="203.21" r="0.78"/><circle cx="44.34" cy="210.52" r="0.78"/><circle cx="42.97" cy="210.47" r="0.78"/><circle cx="40.63" cy="213.01" r="0.78"/><circle cx="46.55" cy="206.81" r="0.78"/><circle cx="47.67" cy="207.37" r="0.78"/><circle cx="45.38" cy="207.89" r="0.78"/><circle cx="40.01" cy="214.11" r="0.78"/><circle cx="50.43" cy="205" r="0.78"/><circle cx="43.59" cy="211.62" r="0.78"/><circle cx="42.65" cy="212.14" r="0.78"/><circle cx="47.91" cy="206.81" r="0.78"/><circle cx="40.64" cy="212.33" r="0.78"/><circle cx="52.17" cy="203.53" r="0.78"/><circle cx="48.27" cy="206.99" r="0.78"/><circle cx="50.17" cy="204.92" r="0.78"/><circle cx="43.62" cy="210.96" r="0.78"/><circle cx="44.6" cy="209.46" r="0.78"/><circle cx="41.83" cy="211.66" r="0.78"/><circle cx="42.41" cy="212.28" r="0.78"/><circle cx="44.89" cy="210.15" r="0.78"/><circle cx="49.23" cy="203.99" r="0.78"/><circle cx="46.03" cy="208.82" r="0.78"/><circle cx="50.52" cy="204.02" r="0.78"/><circle cx="40.31" cy="214.08" r="0.78"/><circle cx="42.67" cy="211.45" r="0.78"/><circle cx="39.28" cy="215.17" r="0.78"/><circle cx="52.08" cy="203.35" r="0.78"/><circle cx="39.6" cy="214.74" r="0.78"/><circle cx="45.62" cy="207.26" r="0.78"/><circle cx="48.48" cy="206.48" r="0.78"/><circle cx="41.36" cy="212.53" r="0.78"/><circle cx="51.92" cy="201.26" r="0.78"/><circle cx="52.9" cy="202.26" r="0.78"/><circle cx="41.34" cy="211.52" r="0.78"/><circle cx="40.72" cy="213.71" r="0.78"/><circle cx="48.53" cy="207.21" r="0.78"/><circle cx="45.6" cy="208.03" r="0.78"/><circle cx="47.52" cy="207.46" r="0.78"/><circle cx="83.35" cy="173.12" r="0.78"/><circle cx="71.22" cy="188.47" r="0.78"/><circle cx="65.93" cy="187.37" r="0.78"/><circle cx="63.34" cy="191.12" r="0.78"/><circle cx="69.57" cy="188.09" r="0.78"/><circle cx="65.3" cy="192.44" r="0.78"/><circle cx="76.19" cy="179.07" r="0.78"/><circle cx="75.16" cy="180.27" r="0.78"/><circle cx="66.44" cy="195.34" r="0.78"/><circle cx="82.86" cy="171.95" r="0.78"/><circle cx="77.74" cy="176.27" r="0.78"/><circle cx="71.84" cy="177.89" r="0.78"/><circle cx="84.1" cy="173.47" r="0.78"/><circle cx="73.79" cy="180.83" r="0.78"/><circle cx="69.86" cy="192.21" r="0.78"/><circle cx="79.13" cy="175.5" r="0.78"/><circle cx="84.99" cy="173.96" r="0.78"/><circle cx="65.6" cy="192.82" r="0.78"/><circle cx="76.58" cy="184.9" r="0.78"/><circle cx="65.31" cy="185.22" r="0.78"/><circle cx="85.19" cy="176.41" r="0.78"/><circle cx="64.78" cy="190.38" r="0.78"/><circle cx="80.13" cy="175.36" r="0.78"/><circle cx="66.62" cy="187.49" r="0.78"/><circle cx="76" cy="178.27" r="0.78"/><circle cx="77.2" cy="177.31" r="0.78"/><circle cx="75.21" cy="172.21" r="0.78"/><circle cx="64.71" cy="192.19" r="0.78"/><circle cx="73.34" cy="182.4" r="0.78"/><circle cx="63.74" cy="187.98" r="0.78"/><circle cx="65.31" cy="189.6" r="0.78"/><circle cx="70.23" cy="193.21" r="0.78"/><circle cx="66.56" cy="189.97" r="0.78"/><circle cx="82.44" cy="172.17" r="0.78"/><circle cx="77.92" cy="183.83" r="0.78"/><circle cx="66.81" cy="185.6" r="0.78"/><circle cx="73.01" cy="181.96" r="0.78"/><circle cx="62.89" cy="190.19" r="0.78"/><circle cx="66.97" cy="187.42" r="0.78"/><circle cx="77.66" cy="180.64" r="0.78"/><circle cx="78.87" cy="178.95" r="0.78"/><circle cx="74.85" cy="178.18" r="0.78"/><circle cx="83.98" cy="171.61" r="0.78"/><circle cx="84.24" cy="172.11" r="0.78"/><circle cx="80.19" cy="174.23" r="0.78"/><circle cx="72.78" cy="182.58" r="0.78"/><circle cx="77.96" cy="175.26" r="0.78"/><circle cx="66.82" cy="185.81" r="0.78"/><circle cx="81.66" cy="174.42" r="0.78"/><circle cx="66.18" cy="185.37" r="0.78"/><circle cx="85.07" cy="172.48" r="0.78"/><circle cx="62.61" cy="191.71" r="0.78"/><circle cx="78.47" cy="174.07" r="0.78"/><circle cx="72.54" cy="180.79" r="0.78"/><circle cx="79.68" cy="174.47" r="0.78"/><circle cx="73.78" cy="181.2" r="0.78"/><circle cx="81.09" cy="175.2" r="0.78"/><circle cx="77.79" cy="177.21" r="0.78"/><circle cx="75.12" cy="177.44" r="0.78"/><circle cx="85.97" cy="175.16" r="0.78"/><circle cx="66.81" cy="191.55" r="0.78"/><circle cx="83.11" cy="173.26" r="0.78"/><circle cx="75.73" cy="183.22" r="0.78"/><circle cx="78.7" cy="178.21" r="0.78"/><circle cx="76.82" cy="177.95" r="0.78"/><circle cx="71.37" cy="184.34" r="0.78"/><circle cx="78.82" cy="186.25" r="0.78"/><circle cx="85.67" cy="173.9" r="0.78"/><circle cx="75.15" cy="184.08" r="0.78"/><circle cx="82.02" cy="172.53" r="0.78"/><circle cx="96.35" cy="163.18" r="0.78"/><circle cx="91.28" cy="165.48" r="0.78"/><circle cx="95.18" cy="162.27" r="0.78"/><circle cx="83.41" cy="171.36" r="0.78"/><circle cx="93.5" cy="167.88" r="0.78"/><circle cx="88.96" cy="167.82" r="0.78"/><circle cx="68.7" cy="209.7" r="0.78"/><circle cx="69.3" cy="216.3" r="0.78"/><circle cx="87" cy="162.6" r="0.78"/><circle cx="95.8" cy="155.3" r="0.78"/><circle cx="80" cy="167.5" r="0.78"/><circle cx="82" cy="169" r="0.78"/><circle cx="90.5" cy="158" r="0.78"/></g>
<line x1="38.8" y1="215.0" x2="66" y2="186.3" stroke="#1c2c5e" stroke-width="1.3" stroke-linecap="round" stroke-opacity="0.9"/>
<g fill="#34559a" stroke="#142652" stroke-width="0.45" fill-opacity="0.82" stroke-opacity="0.82" clip-path="url(#cbr)"><circle cx="165.53" cy="186.35" r="0.78"/><circle cx="163.27" cy="190.08" r="0.78"/><circle cx="186.51" cy="169.33" r="0.78"/><circle cx="183.17" cy="168.95" r="0.78"/><circle cx="162.13" cy="189.76" r="0.78"/><circle cx="166.4" cy="187.82" r="0.78"/><circle cx="155.5" cy="196.89" r="0.78"/><circle cx="169.82" cy="185.22" r="0.78"/><circle cx="147.62" cy="204.41" r="0.78"/><circle cx="186.93" cy="164.36" r="0.78"/><circle cx="161.45" cy="191.28" r="0.78"/><circle cx="142.75" cy="211.11" r="0.78"/><circle cx="155.75" cy="196.73" r="0.78"/><circle cx="187.89" cy="167" r="0.78"/><circle cx="157" cy="196.75" r="0.78"/><circle cx="160" cy="192.48" r="0.78"/><circle cx="190.22" cy="166.92" r="0.78"/><circle cx="180.08" cy="174.77" r="0.78"/><circle cx="159.56" cy="194.55" r="0.78"/><circle cx="149.04" cy="202.54" r="0.78"/><circle cx="159.73" cy="191.78" r="0.78"/><circle cx="158.3" cy="191.99" r="0.78"/><circle cx="185.09" cy="169.33" r="0.78"/><circle cx="167.84" cy="185.82" r="0.78"/><circle cx="187.41" cy="168.84" r="0.78"/><circle cx="191.17" cy="166.81" r="0.78"/><circle cx="183.82" cy="170.44" r="0.78"/><circle cx="161.38" cy="191.97" r="0.78"/><circle cx="161.04" cy="193.17" r="0.78"/><circle cx="169.46" cy="186.73" r="0.78"/><circle cx="174.15" cy="178.82" r="0.78"/><circle cx="183.59" cy="172.23" r="0.78"/><circle cx="181.3" cy="172.87" r="0.78"/><circle cx="156.81" cy="196.29" r="0.78"/><circle cx="178.22" cy="177.58" r="0.78"/><circle cx="159.6" cy="193.06" r="0.78"/><circle cx="178.62" cy="174.04" r="0.78"/><circle cx="142.67" cy="210.62" r="0.78"/><circle cx="183.01" cy="171.62" r="0.78"/><circle cx="175.5" cy="178.41" r="0.78"/><circle cx="148.86" cy="204.13" r="0.78"/><circle cx="154.2" cy="199.65" r="0.78"/><circle cx="156.71" cy="196.35" r="0.78"/><circle cx="167.26" cy="187.73" r="0.78"/><circle cx="186.18" cy="169.41" r="0.78"/><circle cx="190.39" cy="167.51" r="0.78"/><circle cx="172.01" cy="184.02" r="0.78"/><circle cx="147.45" cy="206.3" r="0.78"/><circle cx="189.13" cy="165.43" r="0.78"/><circle cx="188.58" cy="166.59" r="0.78"/><circle cx="145.83" cy="206.65" r="0.78"/><circle cx="176.35" cy="182.45" r="0.78"/><circle cx="174.01" cy="179.91" r="0.78"/><circle cx="174.33" cy="180.81" r="0.78"/><circle cx="178.13" cy="178.54" r="0.78"/><circle cx="141.56" cy="210.25" r="0.78"/><circle cx="156.34" cy="196.2" r="0.78"/><circle cx="157.97" cy="195.11" r="0.78"/><circle cx="172.58" cy="180.1" r="0.78"/><circle cx="145.89" cy="206.04" r="0.78"/><circle cx="154.95" cy="197.89" r="0.78"/><circle cx="150.9" cy="203.48" r="0.78"/><circle cx="144.36" cy="209.08" r="0.78"/><circle cx="164.81" cy="189.07" r="0.78"/><circle cx="151.73" cy="201.54" r="0.78"/><circle cx="164.13" cy="187.5" r="0.78"/><circle cx="152.14" cy="201.78" r="0.78"/><circle cx="180.64" cy="174.66" r="0.78"/><circle cx="146.76" cy="205.34" r="0.78"/><circle cx="179.44" cy="175.43" r="0.78"/><circle cx="173.59" cy="180.36" r="0.78"/><circle cx="149.25" cy="203.41" r="0.78"/><circle cx="159.6" cy="192.84" r="0.78"/><circle cx="159.96" cy="192.85" r="0.78"/><circle cx="163.29" cy="189.28" r="0.78"/><circle cx="174.94" cy="180.1" r="0.78"/><circle cx="142.64" cy="210.43" r="0.78"/><circle cx="149.98" cy="203.47" r="0.78"/><circle cx="175.59" cy="178.46" r="0.78"/><circle cx="146.14" cy="206.51" r="0.78"/><circle cx="184.63" cy="173.77" r="0.78"/><circle cx="158.71" cy="192.68" r="0.78"/><circle cx="143.99" cy="209.77" r="0.78"/><circle cx="179.43" cy="175.69" r="0.78"/><circle cx="153.73" cy="199.67" r="0.78"/><circle cx="189.81" cy="164.18" r="0.78"/><circle cx="186.42" cy="168.01" r="0.78"/><circle cx="183.73" cy="168.82" r="0.78"/><circle cx="183.47" cy="168.7" r="0.78"/><circle cx="145.32" cy="207.53" r="0.78"/><circle cx="142.49" cy="209.12" r="0.78"/><circle cx="161.79" cy="192.94" r="0.78"/><circle cx="162.91" cy="192.22" r="0.78"/><circle cx="159.56" cy="189.85" r="0.78"/><circle cx="169.66" cy="182.14" r="0.78"/><circle cx="180.12" cy="174.9" r="0.78"/><circle cx="180.28" cy="174.65" r="0.78"/><circle cx="187.1" cy="167.99" r="0.78"/><circle cx="175" cy="179.98" r="0.78"/><circle cx="185.11" cy="171.04" r="0.78"/><circle cx="146.57" cy="207.13" r="0.78"/><circle cx="143.7" cy="210.47" r="0.78"/><circle cx="163.75" cy="190.08" r="0.78"/><circle cx="185.49" cy="170.91" r="0.78"/><circle cx="159.56" cy="192.11" r="0.78"/><circle cx="147.12" cy="205.8" r="0.78"/><circle cx="147.41" cy="204.59" r="0.78"/><circle cx="153.6" cy="201.11" r="0.78"/><circle cx="185.88" cy="173.17" r="0.78"/><circle cx="158.44" cy="195.73" r="0.78"/><circle cx="182.38" cy="169.94" r="0.78"/><circle cx="187.48" cy="167.21" r="0.78"/><circle cx="179.46" cy="175.12" r="0.78"/><circle cx="186.86" cy="168.39" r="0.78"/><circle cx="154.75" cy="199.75" r="0.78"/><circle cx="151.7" cy="202.44" r="0.78"/><circle cx="152.22" cy="198.39" r="0.78"/><circle cx="143.15" cy="210.67" r="0.78"/><circle cx="186.56" cy="167.36" r="0.78"/><circle cx="151.54" cy="201.16" r="0.78"/><circle cx="173.48" cy="182.91" r="0.78"/><circle cx="155.48" cy="197.66" r="0.78"/><circle cx="167.09" cy="184.97" r="0.78"/><circle cx="162.14" cy="189.93" r="0.78"/><circle cx="176.88" cy="177.63" r="0.78"/><circle cx="151.99" cy="202.13" r="0.78"/><circle cx="156.62" cy="198.45" r="0.78"/><circle cx="148.45" cy="204.5" r="0.78"/><circle cx="157.32" cy="195.67" r="0.78"/><circle cx="183.75" cy="173.86" r="0.78"/><circle cx="188.18" cy="165.88" r="0.78"/><circle cx="143.04" cy="210.83" r="0.78"/><circle cx="183.08" cy="172.04" r="0.78"/><circle cx="177.66" cy="177.18" r="0.78"/><circle cx="145.55" cy="207.22" r="0.78"/><circle cx="149.72" cy="203.7" r="0.78"/><circle cx="183.44" cy="170.45" r="0.78"/><circle cx="150.91" cy="201.66" r="0.78"/><circle cx="185.8" cy="168.78" r="0.78"/><circle cx="167.59" cy="185.5" r="0.78"/><circle cx="189.94" cy="165.69" r="0.78"/><circle cx="166.38" cy="187.66" r="0.78"/><circle cx="148.05" cy="204.8" r="0.78"/><circle cx="171.1" cy="182.75" r="0.78"/><circle cx="163.29" cy="190.2" r="0.78"/><circle cx="145.91" cy="208.42" r="0.78"/><circle cx="181.57" cy="173.05" r="0.78"/><circle cx="184.95" cy="168.75" r="0.78"/><circle cx="188.36" cy="166.02" r="0.78"/><circle cx="173.61" cy="181.67" r="0.78"/><circle cx="169.99" cy="183.81" r="0.78"/><circle cx="151.2" cy="201.88" r="0.78"/><circle cx="188.41" cy="166.05" r="0.78"/><circle cx="177.64" cy="177.08" r="0.78"/><circle cx="174.59" cy="180.33" r="0.78"/><circle cx="175.9" cy="179.18" r="0.78"/><circle cx="181.25" cy="170.47" r="0.78"/><circle cx="157.87" cy="194.46" r="0.78"/><circle cx="146.13" cy="204.66" r="0.78"/><circle cx="190.76" cy="165.88" r="0.78"/><circle cx="143.73" cy="209.96" r="0.78"/><circle cx="155.67" cy="199.11" r="0.78"/><circle cx="165.8" cy="188.3" r="0.78"/><circle cx="144.17" cy="209.58" r="0.78"/><circle cx="156.85" cy="196.59" r="0.78"/><circle cx="183.98" cy="170.54" r="0.78"/><circle cx="171.04" cy="180.8" r="0.78"/><circle cx="169.6" cy="183.35" r="0.78"/><circle cx="142.47" cy="209.92" r="0.78"/><circle cx="163.13" cy="191.79" r="0.78"/><circle cx="148.42" cy="206.08" r="0.78"/><circle cx="160.33" cy="192.76" r="0.78"/><circle cx="160.9" cy="193.21" r="0.78"/><circle cx="162.6" cy="191.49" r="0.78"/><circle cx="156.73" cy="195.9" r="0.78"/><circle cx="178.3" cy="173.26" r="0.78"/><circle cx="163.82" cy="189.01" r="0.78"/><circle cx="184.59" cy="167.51" r="0.78"/><circle cx="158.34" cy="194.86" r="0.78"/><circle cx="148.71" cy="204.27" r="0.78"/><circle cx="158.95" cy="194.42" r="0.78"/><circle cx="184" cy="170.44" r="0.78"/><circle cx="159.52" cy="194.65" r="0.78"/><circle cx="180.86" cy="172.11" r="0.78"/><circle cx="176.18" cy="179.61" r="0.78"/><circle cx="153.5" cy="198.12" r="0.78"/><circle cx="151.12" cy="202.15" r="0.78"/><circle cx="147.43" cy="205.93" r="0.78"/><circle cx="163.13" cy="189.64" r="0.78"/><circle cx="174.29" cy="177.48" r="0.78"/><circle cx="156.42" cy="197.72" r="0.78"/><circle cx="187.53" cy="166.08" r="0.78"/><circle cx="142.76" cy="210.62" r="0.78"/><circle cx="180.62" cy="175.27" r="0.78"/><circle cx="150.05" cy="203.11" r="0.78"/><circle cx="190.29" cy="164.74" r="0.78"/><circle cx="146.97" cy="206.86" r="0.78"/><circle cx="186.91" cy="168.68" r="0.78"/><circle cx="160.74" cy="191.79" r="0.78"/><circle cx="155.81" cy="197.8" r="0.78"/><circle cx="143.98" cy="209.31" r="0.78"/><circle cx="152.55" cy="200.93" r="0.78"/><circle cx="160.53" cy="193.35" r="0.78"/><circle cx="187.13" cy="167.48" r="0.78"/><circle cx="188.71" cy="166.02" r="0.78"/><circle cx="145.29" cy="206.91" r="0.78"/><circle cx="168.09" cy="183.89" r="0.78"/><circle cx="143.78" cy="209.91" r="0.78"/><circle cx="146.57" cy="205.91" r="0.78"/><circle cx="171.89" cy="182.62" r="0.78"/><circle cx="166.37" cy="185.5" r="0.78"/><circle cx="185.69" cy="169.42" r="0.78"/><circle cx="184.95" cy="168.31" r="0.78"/><circle cx="150.87" cy="204.98" r="0.78"/><circle cx="171.83" cy="180.81" r="0.78"/><circle cx="180.15" cy="172.75" r="0.78"/><circle cx="180.13" cy="176.02" r="0.78"/><circle cx="170.17" cy="185.54" r="0.78"/><circle cx="165.27" cy="185.76" r="0.78"/><circle cx="169.73" cy="184.71" r="0.78"/><circle cx="162.4" cy="192.4" r="0.78"/><circle cx="168.39" cy="183.89" r="0.78"/><circle cx="185.75" cy="170.32" r="0.78"/><circle cx="158.4" cy="194.55" r="0.78"/><circle cx="162.58" cy="189.91" r="0.78"/><circle cx="162.86" cy="190.46" r="0.78"/><circle cx="183.49" cy="170.4" r="0.78"/><circle cx="152.99" cy="198.92" r="0.78"/><circle cx="164.54" cy="192.09" r="0.78"/><circle cx="177.93" cy="175.78" r="0.78"/><circle cx="160.41" cy="192.34" r="0.78"/><circle cx="184.13" cy="172.14" r="0.78"/><circle cx="167.88" cy="186.01" r="0.78"/><circle cx="147.14" cy="206.97" r="0.78"/><circle cx="159.46" cy="193.83" r="0.78"/><circle cx="149.06" cy="204.37" r="0.78"/><circle cx="163.2" cy="190.69" r="0.78"/><circle cx="159.59" cy="194.21" r="0.78"/><circle cx="158.17" cy="195.14" r="0.78"/><circle cx="182.01" cy="172.46" r="0.78"/><circle cx="186.94" cy="171.02" r="0.78"/><circle cx="177.96" cy="175.38" r="0.78"/><circle cx="178.57" cy="175.01" r="0.78"/><circle cx="184.87" cy="169.28" r="0.78"/><circle cx="186.92" cy="169.02" r="0.78"/><circle cx="150.45" cy="203.1" r="0.78"/><circle cx="186.26" cy="170.3" r="0.78"/><circle cx="149.02" cy="202.9" r="0.78"/><circle cx="155.14" cy="198.53" r="0.78"/><circle cx="180.08" cy="174.18" r="0.78"/><circle cx="148.62" cy="204.23" r="0.78"/><circle cx="188.82" cy="166.45" r="0.78"/><circle cx="185.22" cy="165.87" r="0.78"/><circle cx="141.89" cy="211.08" r="0.78"/><circle cx="172.83" cy="181.61" r="0.78"/><circle cx="185.44" cy="166.7" r="0.78"/><circle cx="167.99" cy="185.88" r="0.78"/><circle cx="168.97" cy="187.2" r="0.78"/><circle cx="170.03" cy="183.5" r="0.78"/><circle cx="169.09" cy="185.79" r="0.78"/><circle cx="169.9" cy="183.86" r="0.78"/><circle cx="174.23" cy="178.79" r="0.78"/><circle cx="187.39" cy="165.75" r="0.78"/><circle cx="145.64" cy="207.01" r="0.78"/><circle cx="153.81" cy="200.81" r="0.78"/><circle cx="142.35" cy="211.02" r="0.78"/><circle cx="144.77" cy="207.61" r="0.78"/><circle cx="152.06" cy="202.14" r="0.78"/><circle cx="185.51" cy="169.06" r="0.78"/><circle cx="156.73" cy="195.99" r="0.78"/><circle cx="171.32" cy="183.46" r="0.78"/><circle cx="156.5" cy="195.97" r="0.78"/><circle cx="188.27" cy="163.61" r="0.78"/><circle cx="151.75" cy="202.7" r="0.78"/><circle cx="159.9" cy="191.55" r="0.78"/><circle cx="160.08" cy="194.18" r="0.78"/><circle cx="151.45" cy="200.32" r="0.78"/><circle cx="145.37" cy="207.55" r="0.78"/><circle cx="160.67" cy="192.75" r="0.78"/><circle cx="151.39" cy="201.43" r="0.78"/><circle cx="142.15" cy="209.08" r="0.78"/><circle cx="184.74" cy="169.84" r="0.78"/><circle cx="158.45" cy="195.07" r="0.78"/><circle cx="142.04" cy="210.13" r="0.78"/><circle cx="171.69" cy="182.38" r="0.78"/><circle cx="165.67" cy="189.5" r="0.78"/><circle cx="174.75" cy="178.44" r="0.78"/><circle cx="159.44" cy="194.46" r="0.78"/><circle cx="148.11" cy="203.97" r="0.78"/><circle cx="173.16" cy="181.65" r="0.78"/><circle cx="161.53" cy="192.93" r="0.78"/><circle cx="186.63" cy="172.71" r="0.78"/><circle cx="158.16" cy="196.37" r="0.78"/><circle cx="152.81" cy="200.9" r="0.78"/><circle cx="151.48" cy="203.05" r="0.78"/><circle cx="153.74" cy="198.59" r="0.78"/><circle cx="153.91" cy="200.49" r="0.78"/><circle cx="166.79" cy="186.42" r="0.78"/><circle cx="159.52" cy="193.37" r="0.78"/><circle cx="189.96" cy="167.17" r="0.78"/><circle cx="151.81" cy="201.66" r="0.78"/><circle cx="188.74" cy="168.72" r="0.78"/><circle cx="157.31" cy="194.59" r="0.78"/><circle cx="165.46" cy="188.78" r="0.78"/><circle cx="187.92" cy="166.01" r="0.78"/><circle cx="179.51" cy="174.58" r="0.78"/><circle cx="186.01" cy="165.23" r="0.78"/><circle cx="168.62" cy="186.69" r="0.78"/><circle cx="157.36" cy="196.38" r="0.78"/><circle cx="173.85" cy="178.91" r="0.78"/><circle cx="174.05" cy="178.15" r="0.78"/><circle cx="143.49" cy="208.73" r="0.78"/><circle cx="147.57" cy="206.63" r="0.78"/><circle cx="187.7" cy="167.04" r="0.78"/><circle cx="176.57" cy="177.31" r="0.78"/><circle cx="182.22" cy="173.31" r="0.78"/><circle cx="150.94" cy="202.29" r="0.78"/><circle cx="189.38" cy="166.07" r="0.78"/><circle cx="156.82" cy="197.46" r="0.78"/><circle cx="148.74" cy="204.65" r="0.78"/><circle cx="159.76" cy="194.87" r="0.78"/><circle cx="158.21" cy="194" r="0.78"/><circle cx="144.65" cy="208.32" r="0.78"/><circle cx="182.63" cy="171.45" r="0.78"/><circle cx="184.19" cy="170.78" r="0.78"/><circle cx="151.37" cy="201.83" r="0.78"/><circle cx="168.14" cy="185.01" r="0.78"/><circle cx="183.81" cy="170.33" r="0.78"/><circle cx="160.72" cy="194.05" r="0.78"/><circle cx="166.18" cy="187.03" r="0.78"/><circle cx="153.04" cy="199.05" r="0.78"/><circle cx="164.92" cy="189.71" r="0.78"/><circle cx="157.5" cy="197.07" r="0.78"/><circle cx="181.63" cy="172.56" r="0.78"/><circle cx="149.59" cy="203.68" r="0.78"/><circle cx="143.1" cy="209.15" r="0.78"/><circle cx="185.4" cy="169.07" r="0.78"/><circle cx="150.66" cy="203.54" r="0.78"/><circle cx="169.05" cy="186.13" r="0.78"/><circle cx="176.38" cy="178.27" r="0.78"/><circle cx="157.54" cy="195.7" r="0.78"/><circle cx="185.46" cy="166.37" r="0.78"/><circle cx="158.4" cy="195.53" r="0.78"/><circle cx="151.59" cy="202.09" r="0.78"/><circle cx="145.37" cy="208.39" r="0.78"/><circle cx="187.37" cy="171.23" r="0.78"/><circle cx="152.48" cy="201.18" r="0.78"/><circle cx="186.3" cy="170.33" r="0.78"/><circle cx="163.29" cy="189.12" r="0.78"/><circle cx="188.27" cy="168.95" r="0.78"/><circle cx="146.36" cy="207.33" r="0.78"/><circle cx="184.58" cy="172.64" r="0.78"/><circle cx="190.06" cy="166.31" r="0.78"/><circle cx="176.72" cy="178.44" r="0.78"/><circle cx="148.92" cy="205.46" r="0.78"/><circle cx="189.66" cy="164.12" r="0.78"/><circle cx="181.3" cy="174.45" r="0.78"/><circle cx="152.52" cy="201.81" r="0.78"/><circle cx="188.24" cy="165.26" r="0.78"/><circle cx="145.54" cy="206.53" r="0.78"/><circle cx="148.3" cy="205.18" r="0.78"/><circle cx="142.57" cy="210.35" r="0.78"/><circle cx="171.04" cy="184.02" r="0.78"/><circle cx="161.82" cy="192.69" r="0.78"/><circle cx="145.67" cy="206.72" r="0.78"/><circle cx="166" cy="188.39" r="0.78"/><circle cx="185.64" cy="171.25" r="0.78"/><circle cx="146.14" cy="206.59" r="0.78"/><circle cx="172.66" cy="181.19" r="0.78"/><circle cx="149.5" cy="202.67" r="0.78"/><circle cx="167.18" cy="187.91" r="0.78"/><circle cx="159.55" cy="196.26" r="0.78"/><circle cx="154.52" cy="197.5" r="0.78"/><circle cx="142.66" cy="210.71" r="0.78"/><circle cx="170.56" cy="184.88" r="0.78"/><circle cx="163.02" cy="190.1" r="0.78"/><circle cx="175.14" cy="178.68" r="0.78"/><circle cx="150.31" cy="201.95" r="0.78"/><circle cx="188.89" cy="164.66" r="0.78"/><circle cx="142.82" cy="210.15" r="0.78"/><circle cx="151.63" cy="202.25" r="0.78"/><circle cx="173.09" cy="181.38" r="0.78"/><circle cx="148.68" cy="205.18" r="0.78"/><circle cx="154.58" cy="199.05" r="0.78"/><circle cx="165.44" cy="186.97" r="0.78"/><circle cx="179.77" cy="177.21" r="0.78"/><circle cx="184.89" cy="172.06" r="0.78"/><circle cx="156.83" cy="195.94" r="0.78"/><circle cx="175.12" cy="181.94" r="0.78"/><circle cx="143.1" cy="210.11" r="0.78"/><circle cx="185.24" cy="169.88" r="0.78"/><circle cx="175.93" cy="181.42" r="0.78"/><circle cx="183.43" cy="166.85" r="0.78"/><circle cx="151.29" cy="200.47" r="0.78"/><circle cx="166.42" cy="188.49" r="0.78"/><circle cx="177.78" cy="176.36" r="0.78"/><circle cx="142.7" cy="209.49" r="0.78"/><circle cx="184.02" cy="173.42" r="0.78"/><circle cx="176.61" cy="178.63" r="0.78"/><circle cx="179.07" cy="173.4" r="0.78"/><circle cx="149.42" cy="203.18" r="0.78"/><circle cx="180.3" cy="175.76" r="0.78"/><circle cx="170.62" cy="186.05" r="0.78"/><circle cx="148.24" cy="203.16" r="0.78"/><circle cx="148.33" cy="205" r="0.78"/><circle cx="183.19" cy="170.94" r="0.78"/><circle cx="160.17" cy="191.48" r="0.78"/><circle cx="154.96" cy="198.32" r="0.78"/><circle cx="158.81" cy="193" r="0.78"/><circle cx="174.7" cy="178.87" r="0.78"/><circle cx="149.12" cy="205.41" r="0.78"/><circle cx="149.91" cy="203.75" r="0.78"/><circle cx="173.99" cy="181.54" r="0.78"/><circle cx="185.85" cy="170.16" r="0.78"/><circle cx="174.76" cy="180.18" r="0.78"/><circle cx="188.68" cy="168.2" r="0.78"/><circle cx="154.98" cy="197.27" r="0.78"/><circle cx="158.83" cy="194.4" r="0.78"/><circle cx="160.43" cy="194.26" r="0.78"/><circle cx="158.85" cy="193.97" r="0.78"/><circle cx="154.66" cy="198.34" r="0.78"/><circle cx="181.38" cy="175.36" r="0.78"/><circle cx="156.38" cy="198.72" r="0.78"/><circle cx="161.7" cy="191.35" r="0.78"/><circle cx="164.27" cy="188.6" r="0.78"/><circle cx="190.83" cy="165.47" r="0.78"/><circle cx="157.98" cy="195.91" r="0.78"/><circle cx="174.91" cy="178.47" r="0.78"/><circle cx="158.07" cy="196.18" r="0.78"/><circle cx="181.21" cy="174.44" r="0.78"/><circle cx="160.72" cy="193.11" r="0.78"/><circle cx="143.89" cy="211.1" r="0.78"/><circle cx="168.16" cy="187.74" r="0.78"/><circle cx="158.68" cy="195.85" r="0.78"/><circle cx="155.21" cy="199.3" r="0.78"/><circle cx="157.59" cy="199.08" r="0.78"/><circle cx="142.28" cy="211.31" r="0.78"/><circle cx="176.79" cy="176.58" r="0.78"/><circle cx="168.68" cy="185.89" r="0.78"/><circle cx="172.82" cy="181.61" r="0.78"/><circle cx="169.12" cy="184.23" r="0.78"/><circle cx="160.5" cy="193.53" r="0.78"/><circle cx="164.29" cy="189.94" r="0.78"/><circle cx="164.95" cy="188.93" r="0.78"/><circle cx="186" cy="168.07" r="0.78"/><circle cx="159.22" cy="195.37" r="0.78"/><circle cx="148.54" cy="203.23" r="0.78"/><circle cx="146.21" cy="207.47" r="0.78"/><circle cx="158.23" cy="195.41" r="0.78"/><circle cx="169.85" cy="184.72" r="0.78"/><circle cx="168.48" cy="182.29" r="0.78"/><circle cx="178.56" cy="178.72" r="0.78"/><circle cx="172.59" cy="179.12" r="0.78"/><circle cx="145.53" cy="206.8" r="0.78"/><circle cx="161.15" cy="193.37" r="0.78"/><circle cx="159.49" cy="193.5" r="0.78"/><circle cx="147.14" cy="205.62" r="0.78"/><circle cx="168.86" cy="182.11" r="0.78"/><circle cx="179.14" cy="174.77" r="0.78"/><circle cx="143.98" cy="209.11" r="0.78"/><circle cx="168.05" cy="186.96" r="0.78"/><circle cx="147.51" cy="205.36" r="0.78"/><circle cx="179.77" cy="175.26" r="0.78"/><circle cx="169.29" cy="185.48" r="0.78"/><circle cx="144.77" cy="207.7" r="0.78"/><circle cx="166.41" cy="186.61" r="0.78"/><circle cx="154.5" cy="200.87" r="0.78"/><circle cx="151.5" cy="201" r="0.78"/><circle cx="175.21" cy="181.11" r="0.78"/><circle cx="161.54" cy="192.33" r="0.78"/><circle cx="188.33" cy="169.47" r="0.78"/><circle cx="185.82" cy="167.97" r="0.78"/><circle cx="183.78" cy="171.99" r="0.78"/><circle cx="161.97" cy="192.23" r="0.78"/><circle cx="185.62" cy="168.92" r="0.78"/><circle cx="145.44" cy="207.8" r="0.78"/><circle cx="178.92" cy="174.43" r="0.78"/><circle cx="159.23" cy="194.35" r="0.78"/><circle cx="183.58" cy="170.57" r="0.78"/><circle cx="143.53" cy="209.93" r="0.78"/><circle cx="169.73" cy="184.32" r="0.78"/><circle cx="144.67" cy="207.24" r="0.78"/><circle cx="155.95" cy="197.17" r="0.78"/><circle cx="169.22" cy="184.8" r="0.78"/><circle cx="148.19" cy="204.18" r="0.78"/><circle cx="176.62" cy="179.96" r="0.78"/><circle cx="167.03" cy="187.56" r="0.78"/><circle cx="153.1" cy="201.09" r="0.78"/><circle cx="167.47" cy="185.57" r="0.78"/><circle cx="163.26" cy="190.12" r="0.78"/><circle cx="143.82" cy="209.84" r="0.78"/><circle cx="175.21" cy="176.99" r="0.78"/><circle cx="176.87" cy="178.24" r="0.78"/><circle cx="186.17" cy="168.97" r="0.78"/><circle cx="187.16" cy="166.94" r="0.78"/><circle cx="159.88" cy="193.93" r="0.78"/><circle cx="172.3" cy="180.4" r="0.78"/><circle cx="171.54" cy="183.05" r="0.78"/><circle cx="143.91" cy="208.12" r="0.78"/><circle cx="176.01" cy="176.44" r="0.78"/><circle cx="155.79" cy="199.15" r="0.78"/><circle cx="162.06" cy="190.9" r="0.78"/><circle cx="170.46" cy="180.66" r="0.78"/><circle cx="167" cy="188.34" r="0.78"/><circle cx="155.04" cy="197.64" r="0.78"/><circle cx="181.15" cy="167.3" r="0.78"/><circle cx="146.36" cy="206.65" r="0.78"/><circle cx="171.81" cy="183.81" r="0.78"/><circle cx="150.97" cy="202.63" r="0.78"/><circle cx="188.4" cy="169.87" r="0.78"/><circle cx="187.26" cy="167.54" r="0.78"/><circle cx="177.01" cy="178.48" r="0.78"/><circle cx="183.92" cy="169.13" r="0.78"/><circle cx="179.23" cy="175.68" r="0.78"/><circle cx="174.79" cy="181.95" r="0.78"/><circle cx="178.59" cy="176.84" r="0.78"/><circle cx="186.27" cy="169.01" r="0.78"/><circle cx="151.42" cy="199.99" r="0.78"/><circle cx="176.99" cy="176.94" r="0.78"/><circle cx="149.96" cy="202.1" r="0.78"/><circle cx="164.73" cy="190.19" r="0.78"/><circle cx="157.94" cy="194.85" r="0.78"/><circle cx="172.92" cy="181.96" r="0.78"/><circle cx="172.16" cy="180.65" r="0.78"/><circle cx="187.43" cy="171.05" r="0.78"/><circle cx="181.65" cy="171.07" r="0.78"/><circle cx="145.04" cy="208.06" r="0.78"/><circle cx="151.42" cy="204.24" r="0.78"/><circle cx="144.07" cy="209.03" r="0.78"/><circle cx="175.69" cy="177.41" r="0.78"/><circle cx="159" cy="195.35" r="0.78"/><circle cx="190.2" cy="166.88" r="0.78"/><circle cx="152.66" cy="201.53" r="0.78"/><circle cx="186.48" cy="164.78" r="0.78"/><circle cx="178.8" cy="176.18" r="0.78"/><circle cx="177.15" cy="173.89" r="0.78"/><circle cx="172.75" cy="184.33" r="0.78"/><circle cx="184.92" cy="170.13" r="0.78"/><circle cx="152.99" cy="199.93" r="0.78"/><circle cx="184.69" cy="171.42" r="0.78"/><circle cx="185.11" cy="170.7" r="0.78"/><circle cx="170.46" cy="182.04" r="0.78"/><circle cx="175.23" cy="181.7" r="0.78"/><circle cx="152.83" cy="200.3" r="0.78"/><circle cx="164.57" cy="187.07" r="0.78"/><circle cx="171.37" cy="184.9" r="0.78"/><circle cx="158.03" cy="197.25" r="0.78"/><circle cx="144.33" cy="209.54" r="0.78"/><circle cx="188.53" cy="167.6" r="0.78"/><circle cx="180.27" cy="172.91" r="0.78"/><circle cx="160.12" cy="194.68" r="0.78"/><circle cx="168.97" cy="187.71" r="0.78"/><circle cx="171.16" cy="184.27" r="0.78"/><circle cx="189.95" cy="168.27" r="0.78"/><circle cx="168.45" cy="184.6" r="0.78"/><circle cx="177.84" cy="178.38" r="0.78"/><circle cx="181.69" cy="174.68" r="0.78"/><circle cx="146.1" cy="205.73" r="0.78"/><circle cx="168.97" cy="182.87" r="0.78"/><circle cx="186.39" cy="167.26" r="0.78"/><circle cx="181.98" cy="172.95" r="0.78"/><circle cx="187.09" cy="168.78" r="0.78"/><circle cx="149.61" cy="203.4" r="0.78"/><circle cx="179.6" cy="174.96" r="0.78"/><circle cx="155.33" cy="198.04" r="0.78"/><circle cx="184.51" cy="170.56" r="0.78"/><circle cx="180.47" cy="175.23" r="0.78"/><circle cx="160.35" cy="193.96" r="0.78"/><circle cx="169.97" cy="184.16" r="0.78"/><circle cx="164.82" cy="189.46" r="0.78"/><circle cx="187.19" cy="167" r="0.78"/><circle cx="169.32" cy="185.96" r="0.78"/><circle cx="145.39" cy="207.22" r="0.78"/><circle cx="168.99" cy="187.41" r="0.78"/><circle cx="142.74" cy="210.12" r="0.78"/><circle cx="148.55" cy="204.85" r="0.78"/><circle cx="165.2" cy="187.77" r="0.78"/><circle cx="164.05" cy="189.43" r="0.78"/><circle cx="145.24" cy="207.89" r="0.78"/><circle cx="158.4" cy="195.27" r="0.78"/><circle cx="155.46" cy="197.39" r="0.78"/><circle cx="155.16" cy="197.11" r="0.78"/><circle cx="163.4" cy="190.54" r="0.78"/><circle cx="143.56" cy="209.48" r="0.78"/><circle cx="143.6" cy="209.72" r="0.78"/><circle cx="153.87" cy="200.79" r="0.78"/><circle cx="176.42" cy="177.6" r="0.78"/><circle cx="185.51" cy="165.69" r="0.78"/><circle cx="178.45" cy="175.94" r="0.78"/><circle cx="144.83" cy="206.71" r="0.78"/><circle cx="180.83" cy="171.66" r="0.78"/><circle cx="182.59" cy="174.01" r="0.78"/><circle cx="183.39" cy="172.47" r="0.78"/><circle cx="176.68" cy="176.81" r="0.78"/><circle cx="154.19" cy="198.6" r="0.78"/><circle cx="165.84" cy="188.05" r="0.78"/><circle cx="162.13" cy="189.5" r="0.78"/><circle cx="143.69" cy="209.59" r="0.78"/><circle cx="167.88" cy="185.75" r="0.78"/><circle cx="155.65" cy="199.75" r="0.78"/><circle cx="187.15" cy="165.87" r="0.78"/><circle cx="175.02" cy="180.98" r="0.78"/><circle cx="180.63" cy="172.92" r="0.78"/><circle cx="143.77" cy="209.91" r="0.78"/><circle cx="175.68" cy="177.24" r="0.78"/><circle cx="181.52" cy="174.51" r="0.78"/><circle cx="164" cy="189.36" r="0.78"/><circle cx="153.68" cy="198.9" r="0.78"/><circle cx="165.41" cy="188.38" r="0.78"/><circle cx="168.91" cy="185.91" r="0.78"/><circle cx="163.18" cy="191.2" r="0.78"/><circle cx="158.17" cy="197.2" r="0.78"/><circle cx="174.99" cy="180.73" r="0.78"/><circle cx="182.79" cy="167.21" r="0.78"/><circle cx="154.67" cy="198.38" r="0.78"/><circle cx="182.94" cy="168.27" r="0.78"/><circle cx="144.35" cy="208.33" r="0.78"/><circle cx="175.78" cy="179.69" r="0.78"/><circle cx="157.82" cy="194.29" r="0.78"/><circle cx="166.55" cy="185.89" r="0.78"/><circle cx="159.16" cy="194.69" r="0.78"/><circle cx="145.62" cy="207.18" r="0.78"/><circle cx="150.61" cy="204.08" r="0.78"/><circle cx="190.16" cy="165.67" r="0.78"/><circle cx="162.39" cy="192.11" r="0.78"/><circle cx="189.72" cy="168.79" r="0.78"/><circle cx="166.77" cy="186.61" r="0.78"/><circle cx="185.56" cy="169.41" r="0.78"/><circle cx="162.84" cy="189.77" r="0.78"/><circle cx="190.31" cy="165.4" r="0.78"/><circle cx="165.73" cy="189.62" r="0.78"/><circle cx="155.1" cy="199.78" r="0.78"/><circle cx="150.36" cy="202.86" r="0.78"/><circle cx="145.04" cy="207.4" r="0.78"/><circle cx="146.85" cy="205.6" r="0.78"/><circle cx="173.92" cy="178.3" r="0.78"/><circle cx="159.54" cy="194.3" r="0.78"/><circle cx="185.56" cy="171.87" r="0.78"/><circle cx="150.33" cy="200.69" r="0.78"/><circle cx="185.21" cy="165.64" r="0.78"/><circle cx="151.73" cy="202.9" r="0.78"/><circle cx="154.13" cy="197.65" r="0.78"/><circle cx="158.54" cy="195.49" r="0.78"/><circle cx="153.96" cy="198.18" r="0.78"/><circle cx="162.49" cy="192.32" r="0.78"/><circle cx="181.56" cy="174.57" r="0.78"/><circle cx="145.35" cy="207.79" r="0.78"/><circle cx="154.11" cy="200.16" r="0.78"/><circle cx="144.43" cy="208.58" r="0.78"/><circle cx="180.02" cy="175.64" r="0.78"/><circle cx="148.42" cy="206.29" r="0.78"/><circle cx="167.36" cy="188.21" r="0.78"/><circle cx="183.48" cy="170.21" r="0.78"/><circle cx="156.76" cy="195.94" r="0.78"/><circle cx="147.35" cy="205.57" r="0.78"/><circle cx="154.67" cy="198.57" r="0.78"/><circle cx="187.62" cy="167.61" r="0.78"/><circle cx="146.2" cy="206.37" r="0.78"/><circle cx="184.45" cy="171.65" r="0.78"/><circle cx="147.71" cy="205.46" r="0.78"/><circle cx="149.94" cy="203.63" r="0.78"/><circle cx="179.4" cy="175.3" r="0.78"/><circle cx="173.41" cy="181.91" r="0.78"/><circle cx="156.77" cy="195.49" r="0.78"/><circle cx="177.25" cy="179.85" r="0.78"/><circle cx="149.18" cy="204.34" r="0.78"/><circle cx="185.12" cy="170.67" r="0.78"/><circle cx="170.28" cy="184.84" r="0.78"/><circle cx="188.9" cy="168.32" r="0.78"/><circle cx="171.36" cy="184.01" r="0.78"/><circle cx="169.82" cy="184.74" r="0.78"/><circle cx="183.41" cy="171.15" r="0.78"/><circle cx="169.01" cy="182.81" r="0.78"/><circle cx="146.13" cy="207.1" r="0.78"/><circle cx="171.37" cy="182.47" r="0.78"/><circle cx="155.95" cy="197.26" r="0.78"/><circle cx="174.69" cy="183.41" r="0.78"/><circle cx="188.56" cy="162.91" r="0.78"/><circle cx="171.55" cy="182.84" r="0.78"/><circle cx="183.47" cy="173.57" r="0.78"/><circle cx="159.62" cy="195.21" r="0.78"/><circle cx="142.83" cy="210.94" r="0.78"/><circle cx="143.63" cy="208.36" r="0.78"/><circle cx="142.37" cy="209.82" r="0.78"/><circle cx="152.73" cy="201.26" r="0.78"/><circle cx="154.85" cy="198.34" r="0.78"/><circle cx="158.42" cy="197.14" r="0.78"/><circle cx="173.85" cy="180.93" r="0.78"/><circle cx="178.44" cy="176.54" r="0.78"/><circle cx="179.61" cy="175.84" r="0.78"/><circle cx="178.2" cy="176" r="0.78"/><circle cx="183.55" cy="171.58" r="0.78"/><circle cx="176.38" cy="177.09" r="0.78"/><circle cx="164.15" cy="189.76" r="0.78"/><circle cx="161.64" cy="191.6" r="0.78"/><circle cx="145.9" cy="207.37" r="0.78"/><circle cx="141.98" cy="209.89" r="0.78"/><circle cx="182.2" cy="169.97" r="0.78"/><circle cx="149.27" cy="204.36" r="0.78"/><circle cx="184.1" cy="171.25" r="0.78"/><circle cx="160.69" cy="191.94" r="0.78"/><circle cx="144.66" cy="208.17" r="0.78"/><circle cx="181.26" cy="171.71" r="0.78"/><circle cx="178.25" cy="179.7" r="0.78"/><circle cx="188.85" cy="163.25" r="0.78"/><circle cx="169.39" cy="187.21" r="0.78"/><circle cx="186.32" cy="167.18" r="0.78"/><circle cx="166.76" cy="187.9" r="0.78"/><circle cx="154.42" cy="198.79" r="0.78"/><circle cx="161.12" cy="192.23" r="0.78"/><circle cx="174.67" cy="181.26" r="0.78"/><circle cx="185.89" cy="170.65" r="0.78"/><circle cx="181.3" cy="173.01" r="0.78"/><circle cx="186.27" cy="167.07" r="0.78"/><circle cx="169.4" cy="187.69" r="0.78"/><circle cx="165.16" cy="190.66" r="0.78"/><circle cx="167.5" cy="186.83" r="0.78"/><circle cx="186.97" cy="167.56" r="0.78"/><circle cx="159.83" cy="194.27" r="0.78"/><circle cx="144.8" cy="208.27" r="0.78"/><circle cx="161.62" cy="193.65" r="0.78"/><circle cx="172.72" cy="180.2" r="0.78"/><circle cx="182.39" cy="172.52" r="0.78"/><circle cx="186.98" cy="166.62" r="0.78"/><circle cx="176.33" cy="180.31" r="0.78"/><circle cx="182.99" cy="175.05" r="0.78"/><circle cx="181.3" cy="173.36" r="0.78"/><circle cx="181.67" cy="174.1" r="0.78"/><circle cx="172.04" cy="184.38" r="0.78"/><circle cx="187.54" cy="167.02" r="0.78"/><circle cx="184.37" cy="168.89" r="0.78"/><circle cx="142.57" cy="211.06" r="0.78"/><circle cx="147.95" cy="205.64" r="0.78"/><circle cx="189.93" cy="164.91" r="0.78"/><circle cx="175.4" cy="181.39" r="0.78"/><circle cx="148.75" cy="204.66" r="0.78"/><circle cx="184.51" cy="167.15" r="0.78"/><circle cx="146.31" cy="207.05" r="0.78"/><circle cx="167.97" cy="186.11" r="0.78"/><circle cx="161.82" cy="194.28" r="0.78"/><circle cx="155.86" cy="197.68" r="0.78"/><circle cx="153.37" cy="199.86" r="0.78"/><circle cx="146.23" cy="207.2" r="0.78"/><circle cx="160.34" cy="193.74" r="0.78"/><circle cx="146.13" cy="205.79" r="0.78"/><circle cx="172.31" cy="182.25" r="0.78"/><circle cx="157.3" cy="195.97" r="0.78"/><circle cx="180.34" cy="176.79" r="0.78"/><circle cx="189.75" cy="170.05" r="0.78"/><circle cx="183.98" cy="168.92" r="0.78"/><circle cx="151.21" cy="200.95" r="0.78"/><circle cx="148.29" cy="205.81" r="0.78"/><circle cx="151.11" cy="202.43" r="0.78"/><circle cx="145.52" cy="208.15" r="0.78"/><circle cx="147.82" cy="204.16" r="0.78"/><circle cx="150.16" cy="203.91" r="0.78"/><circle cx="152.8" cy="202.63" r="0.78"/><circle cx="145.6" cy="207.94" r="0.78"/><circle cx="151.53" cy="200.41" r="0.78"/><circle cx="145.48" cy="207.59" r="0.78"/><circle cx="158.57" cy="195.06" r="0.78"/><circle cx="146.07" cy="207.18" r="0.78"/><circle cx="143.63" cy="209.15" r="0.78"/><circle cx="146.69" cy="206.82" r="0.78"/><circle cx="151.37" cy="201.52" r="0.78"/><circle cx="149.6" cy="203.85" r="0.78"/><circle cx="152.82" cy="199.9" r="0.78"/><circle cx="143.75" cy="209.28" r="0.78"/><circle cx="149.36" cy="204.76" r="0.78"/><circle cx="151.15" cy="201.71" r="0.78"/><circle cx="158.96" cy="195.52" r="0.78"/><circle cx="156.57" cy="196.04" r="0.78"/><circle cx="151.47" cy="201.51" r="0.78"/><circle cx="146.89" cy="206.02" r="0.78"/><circle cx="144.27" cy="209.65" r="0.78"/><circle cx="152.32" cy="200.31" r="0.78"/><circle cx="152.09" cy="202.44" r="0.78"/><circle cx="149.31" cy="202.58" r="0.78"/><circle cx="154.12" cy="199.19" r="0.78"/><circle cx="150.24" cy="203.87" r="0.78"/><circle cx="155.58" cy="198.69" r="0.78"/><circle cx="146.37" cy="205.88" r="0.78"/><circle cx="146.94" cy="205.14" r="0.78"/><circle cx="157.99" cy="196.65" r="0.78"/><circle cx="151.17" cy="200.94" r="0.78"/><circle cx="158.56" cy="195.78" r="0.78"/><circle cx="142.7" cy="209.83" r="0.78"/><circle cx="157.71" cy="195.92" r="0.78"/><circle cx="143.65" cy="210.97" r="0.78"/><circle cx="155.48" cy="199.67" r="0.78"/><circle cx="152.18" cy="202" r="0.78"/><circle cx="143.4" cy="208.5" r="0.78"/><circle cx="147.17" cy="206.22" r="0.78"/><circle cx="150.1" cy="203.22" r="0.78"/><circle cx="151.37" cy="201.87" r="0.78"/><circle cx="150.82" cy="203.71" r="0.78"/><circle cx="141.69" cy="209.95" r="0.78"/><circle cx="159.1" cy="194.98" r="0.78"/><circle cx="147.93" cy="205.34" r="0.78"/><circle cx="153.86" cy="198.82" r="0.78"/><circle cx="158.76" cy="196.88" r="0.78"/><circle cx="157.84" cy="194.36" r="0.78"/><circle cx="144.99" cy="208.04" r="0.78"/><circle cx="157.2" cy="196.51" r="0.78"/><circle cx="149.61" cy="201.58" r="0.78"/><circle cx="152.37" cy="199.58" r="0.78"/><circle cx="145.66" cy="206.6" r="0.78"/><circle cx="144.6" cy="208.99" r="0.78"/><circle cx="152.23" cy="202.05" r="0.78"/><circle cx="157.67" cy="196.63" r="0.78"/><circle cx="149.13" cy="204.31" r="0.78"/><circle cx="156.95" cy="194.15" r="0.78"/><circle cx="154.06" cy="199.62" r="0.78"/><circle cx="141.97" cy="210.53" r="0.78"/><circle cx="158.53" cy="196.47" r="0.78"/><circle cx="144.26" cy="209.72" r="0.78"/><circle cx="146.54" cy="208.34" r="0.78"/><circle cx="151.84" cy="202.19" r="0.78"/><circle cx="158.43" cy="196.17" r="0.78"/><circle cx="143.75" cy="208.42" r="0.78"/><circle cx="146.97" cy="206.2" r="0.78"/><circle cx="142.17" cy="209.82" r="0.78"/><circle cx="143.67" cy="209.94" r="0.78"/><circle cx="148.69" cy="203.43" r="0.78"/><circle cx="151.61" cy="201.52" r="0.78"/><circle cx="150.22" cy="202.28" r="0.78"/><circle cx="142.47" cy="210.08" r="0.78"/><circle cx="149.4" cy="204.24" r="0.78"/><circle cx="149.2" cy="203.51" r="0.78"/><circle cx="158.02" cy="195.89" r="0.78"/><circle cx="147.02" cy="205.23" r="0.78"/><circle cx="153.4" cy="201.41" r="0.78"/><circle cx="149.91" cy="202.75" r="0.78"/><circle cx="155.73" cy="198.88" r="0.78"/><circle cx="153.25" cy="202.26" r="0.78"/><circle cx="157.46" cy="193.34" r="0.78"/><circle cx="152.28" cy="200.11" r="0.78"/><circle cx="147.61" cy="205.35" r="0.78"/><circle cx="149.57" cy="204.71" r="0.78"/><circle cx="156.27" cy="196.77" r="0.78"/><circle cx="148.31" cy="205.19" r="0.78"/><circle cx="157.33" cy="195.46" r="0.78"/><circle cx="149.65" cy="204.1" r="0.78"/><circle cx="157.34" cy="194.9" r="0.78"/><circle cx="144.73" cy="208.91" r="0.78"/><circle cx="153.7" cy="196.55" r="0.78"/><circle cx="148.61" cy="202.87" r="0.78"/><circle cx="146.45" cy="208.09" r="0.78"/><circle cx="152.05" cy="201.47" r="0.78"/><circle cx="142.52" cy="209.71" r="0.78"/><circle cx="146.13" cy="208.68" r="0.78"/><circle cx="156.95" cy="197.79" r="0.78"/><circle cx="151.35" cy="203.03" r="0.78"/><circle cx="147.45" cy="205.31" r="0.78"/><circle cx="144.54" cy="208.92" r="0.78"/><circle cx="144.78" cy="208.61" r="0.78"/><circle cx="145.1" cy="206.57" r="0.78"/><circle cx="150.01" cy="203.79" r="0.78"/><circle cx="142.1" cy="210.63" r="0.78"/><circle cx="145.86" cy="208.21" r="0.78"/><circle cx="149.77" cy="204.65" r="0.78"/><circle cx="156.63" cy="196.24" r="0.78"/><circle cx="156.36" cy="196.54" r="0.78"/><circle cx="157.99" cy="195.87" r="0.78"/><circle cx="145.95" cy="207.63" r="0.78"/><circle cx="143.8" cy="208.83" r="0.78"/><circle cx="156.35" cy="197.09" r="0.78"/><circle cx="154.14" cy="199.94" r="0.78"/><circle cx="146.23" cy="207.18" r="0.78"/><circle cx="149.79" cy="204.5" r="0.78"/><circle cx="157.84" cy="196.07" r="0.78"/><circle cx="155.38" cy="197.18" r="0.78"/><circle cx="156.9" cy="194.68" r="0.78"/><circle cx="150.69" cy="203.36" r="0.78"/><circle cx="145" cy="207.74" r="0.78"/><circle cx="150.92" cy="202.05" r="0.78"/><circle cx="143.66" cy="209.06" r="0.78"/><circle cx="143.24" cy="208.49" r="0.78"/><circle cx="143.24" cy="209.39" r="0.78"/><circle cx="145.08" cy="205.79" r="0.78"/><circle cx="144.48" cy="208.18" r="0.78"/><circle cx="145.88" cy="206.43" r="0.78"/><circle cx="154.71" cy="200.66" r="0.78"/><circle cx="153.6" cy="200.28" r="0.78"/><circle cx="142.19" cy="210.52" r="0.78"/><circle cx="156.67" cy="197.09" r="0.78"/><circle cx="156.3" cy="198.05" r="0.78"/><circle cx="157.61" cy="195.15" r="0.78"/><circle cx="145.47" cy="207.37" r="0.78"/><circle cx="154.18" cy="198.9" r="0.78"/><circle cx="152.59" cy="203.19" r="0.78"/><circle cx="154" cy="199.52" r="0.78"/><circle cx="156.23" cy="195.1" r="0.78"/><circle cx="143.51" cy="210.01" r="0.78"/><circle cx="157.69" cy="198.77" r="0.78"/><circle cx="156.04" cy="196.44" r="0.78"/><circle cx="154.65" cy="202.33" r="0.78"/><circle cx="148.69" cy="204.43" r="0.78"/><circle cx="151.6" cy="202.69" r="0.78"/><circle cx="144.02" cy="208.5" r="0.78"/><circle cx="187.95" cy="169.89" r="0.78"/><circle cx="167.09" cy="181.48" r="0.78"/><circle cx="164.3" cy="196.11" r="0.78"/><circle cx="170.44" cy="182.76" r="0.78"/><circle cx="187.2" cy="163.44" r="0.78"/><circle cx="173.84" cy="181.07" r="0.78"/><circle cx="170.72" cy="180.92" r="0.78"/><circle cx="186.24" cy="166.32" r="0.78"/><circle cx="178.26" cy="173.7" r="0.78"/><circle cx="161.42" cy="191.99" r="0.78"/><circle cx="170.33" cy="181.8" r="0.78"/><circle cx="188.99" cy="159" r="0.78"/><circle cx="158.38" cy="197.42" r="0.78"/><circle cx="185.57" cy="167.19" r="0.78"/><circle cx="170.95" cy="188.24" r="0.78"/><circle cx="187.2" cy="170.01" r="0.78"/><circle cx="163.99" cy="192.47" r="0.78"/><circle cx="182.77" cy="172.76" r="0.78"/><circle cx="193.24" cy="167.41" r="0.78"/><circle cx="158.09" cy="194.17" r="0.78"/><circle cx="192.4" cy="158.72" r="0.78"/><circle cx="161.1" cy="194.09" r="0.78"/><circle cx="151.03" cy="190.98" r="0.78"/><circle cx="188.3" cy="165.21" r="0.78"/><circle cx="177.1" cy="178.31" r="0.78"/><circle cx="156.66" cy="195.16" r="0.78"/><circle cx="184.96" cy="175.13" r="0.78"/><circle cx="177.93" cy="179.52" r="0.78"/><circle cx="196.19" cy="159.69" r="0.78"/><circle cx="194.38" cy="159.29" r="0.78"/><circle cx="193.57" cy="166.25" r="0.78"/><circle cx="175.66" cy="175.97" r="0.78"/><circle cx="188.04" cy="165.26" r="0.78"/><circle cx="187.15" cy="170.92" r="0.78"/><circle cx="168.26" cy="188.29" r="0.78"/><circle cx="190.26" cy="173.29" r="0.78"/><circle cx="167.51" cy="185.64" r="0.78"/><circle cx="169.05" cy="177.28" r="0.78"/><circle cx="160.68" cy="195.78" r="0.78"/><circle cx="164.19" cy="194.9" r="0.78"/><circle cx="175.85" cy="177.91" r="0.78"/><circle cx="192.89" cy="168.81" r="0.78"/><circle cx="191.6" cy="170.96" r="0.78"/><circle cx="161.02" cy="189.96" r="0.78"/><circle cx="176.85" cy="175.65" r="0.78"/><circle cx="165.8" cy="182.98" r="0.78"/><circle cx="165.44" cy="190.75" r="0.78"/><circle cx="172.25" cy="184.99" r="0.78"/><circle cx="184.59" cy="172.76" r="0.78"/><circle cx="190.61" cy="159.42" r="0.78"/><circle cx="158.43" cy="192.02" r="0.78"/><circle cx="164.89" cy="183.1" r="0.78"/><circle cx="182.74" cy="165.35" r="0.78"/><circle cx="173.26" cy="175.48" r="0.78"/><circle cx="168.38" cy="179.16" r="0.78"/><circle cx="187.83" cy="166.41" r="0.78"/><circle cx="157.71" cy="197.61" r="0.78"/><circle cx="195.29" cy="162.64" r="0.78"/><circle cx="166.96" cy="186.96" r="0.78"/><circle cx="188.63" cy="163.62" r="0.78"/><circle cx="189.51" cy="165.51" r="0.78"/><circle cx="190.83" cy="166.65" r="0.78"/><circle cx="180.28" cy="173.12" r="0.78"/><circle cx="182.2" cy="172.74" r="0.78"/><circle cx="157.4" cy="194.88" r="0.78"/><circle cx="172.12" cy="179.95" r="0.78"/><circle cx="181.22" cy="173.6" r="0.78"/><circle cx="164.73" cy="184.55" r="0.78"/><circle cx="185.55" cy="173.67" r="0.78"/><circle cx="175" cy="172.92" r="0.78"/><circle cx="183.78" cy="172.91" r="0.78"/><circle cx="187.58" cy="161.77" r="0.78"/><circle cx="172.6" cy="187.89" r="0.78"/><circle cx="182.9" cy="175.43" r="0.78"/><circle cx="156.39" cy="193.75" r="0.78"/><circle cx="187.11" cy="165.98" r="0.78"/><circle cx="186.42" cy="163.84" r="0.78"/><circle cx="183.53" cy="171" r="0.78"/><circle cx="184.63" cy="171.89" r="0.78"/><circle cx="183.81" cy="181.52" r="0.78"/><circle cx="166.31" cy="182.01" r="0.78"/><circle cx="190.57" cy="169.65" r="0.78"/><circle cx="160.17" cy="191.09" r="0.78"/><circle cx="179.96" cy="175.78" r="0.78"/><circle cx="162.23" cy="195.16" r="0.78"/><circle cx="187.07" cy="170.11" r="0.78"/><circle cx="177.07" cy="179.14" r="0.78"/><circle cx="181.06" cy="172.78" r="0.78"/><circle cx="162.9" cy="190.86" r="0.78"/><circle cx="173.08" cy="181.83" r="0.78"/><circle cx="185.01" cy="174.78" r="0.78"/><circle cx="170.74" cy="177.38" r="0.78"/><circle cx="184.06" cy="168.71" r="0.78"/><circle cx="156.93" cy="191.45" r="0.78"/><circle cx="168.46" cy="181.62" r="0.78"/><circle cx="158.78" cy="191.53" r="0.78"/><circle cx="187.94" cy="171.56" r="0.78"/><circle cx="176.32" cy="186.95" r="0.78"/><circle cx="188.84" cy="171.76" r="0.78"/><circle cx="183.94" cy="165.96" r="0.78"/><circle cx="157.77" cy="196.1" r="0.78"/><circle cx="178.64" cy="171.23" r="0.78"/><circle cx="189.22" cy="167.65" r="0.78"/><circle cx="195.37" cy="165.19" r="0.78"/><circle cx="160.86" cy="195.26" r="0.78"/><circle cx="161.58" cy="195.74" r="0.78"/><circle cx="173.56" cy="180.13" r="0.78"/><circle cx="182.09" cy="164.5" r="0.78"/><circle cx="156.49" cy="188.84" r="0.78"/><circle cx="195.81" cy="159.13" r="0.78"/><circle cx="185.8" cy="171.44" r="0.78"/><circle cx="159.29" cy="199.57" r="0.78"/><circle cx="185.17" cy="168.24" r="0.78"/><circle cx="173.47" cy="181.13" r="0.78"/><circle cx="163.65" cy="191.23" r="0.78"/><circle cx="184.83" cy="174.38" r="0.78"/><circle cx="184.59" cy="169.94" r="0.78"/><circle cx="178.72" cy="171.31" r="0.78"/><circle cx="168.46" cy="190.05" r="0.78"/><circle cx="164.23" cy="191.32" r="0.78"/><circle cx="159.28" cy="195.91" r="0.78"/><circle cx="160.19" cy="188.24" r="0.78"/><circle cx="170.51" cy="183.61" r="0.78"/><circle cx="166.08" cy="180.79" r="0.78"/><circle cx="154.77" cy="190.38" r="0.78"/><circle cx="189.43" cy="164.64" r="0.78"/><circle cx="162.69" cy="189.3" r="0.78"/><circle cx="160.48" cy="195.54" r="0.78"/><circle cx="167.42" cy="192.52" r="0.78"/><circle cx="173.72" cy="180.44" r="0.78"/><circle cx="184.77" cy="177.41" r="0.78"/><circle cx="158.15" cy="193" r="0.78"/><circle cx="163.72" cy="193.25" r="0.78"/><circle cx="154.55" cy="193.63" r="0.78"/><circle cx="172.3" cy="182.45" r="0.78"/><circle cx="195.46" cy="158.57" r="0.78"/><circle cx="186.95" cy="167.12" r="0.78"/><circle cx="191.45" cy="166.11" r="0.78"/><circle cx="188.82" cy="158.44" r="0.78"/><circle cx="165.19" cy="189.19" r="0.78"/><circle cx="180.35" cy="170.93" r="0.78"/><circle cx="173.03" cy="181.73" r="0.78"/><circle cx="171.45" cy="184.37" r="0.78"/><circle cx="185.7" cy="167.64" r="0.78"/><circle cx="177.84" cy="175.13" r="0.78"/><circle cx="178.65" cy="171.14" r="0.78"/><circle cx="168.06" cy="188.24" r="0.78"/><circle cx="192.35" cy="160.06" r="0.78"/><circle cx="183.28" cy="173.3" r="0.78"/><circle cx="178.38" cy="170.28" r="0.78"/><circle cx="189.32" cy="171.34" r="0.78"/><circle cx="190.58" cy="160.32" r="0.78"/><circle cx="165.51" cy="193.16" r="0.78"/><circle cx="165.75" cy="186.34" r="0.78"/><circle cx="196.15" cy="161.45" r="0.78"/><circle cx="182.79" cy="171.35" r="0.78"/><circle cx="193.07" cy="164.94" r="0.78"/><circle cx="169.38" cy="184.74" r="0.78"/><circle cx="198.21" cy="162.47" r="0.78"/><circle cx="174.75" cy="182.36" r="0.78"/><circle cx="189.72" cy="168.15" r="0.78"/><circle cx="196.02" cy="166.2" r="0.78"/><circle cx="175.37" cy="176.15" r="0.78"/><circle cx="175.46" cy="184.28" r="0.78"/><circle cx="176.18" cy="178.53" r="0.78"/><circle cx="158.23" cy="189.27" r="0.78"/><circle cx="159.95" cy="195.67" r="0.78"/><circle cx="193.53" cy="160.87" r="0.78"/><circle cx="185.68" cy="176.13" r="0.78"/><circle cx="158.46" cy="193.1" r="0.78"/><circle cx="179.82" cy="174.98" r="0.78"/><circle cx="166.54" cy="188.39" r="0.78"/><circle cx="185.82" cy="161.23" r="0.78"/><circle cx="171.52" cy="184.77" r="0.78"/><circle cx="154.76" cy="194.57" r="0.78"/><circle cx="185.63" cy="175.02" r="0.78"/><circle cx="199.33" cy="163.03" r="0.78"/><circle cx="185.59" cy="169.24" r="0.78"/><circle cx="191.34" cy="157.28" r="0.78"/><circle cx="160.56" cy="193.87" r="0.78"/><circle cx="168.14" cy="186.63" r="0.78"/><circle cx="188.64" cy="169.33" r="0.78"/><circle cx="174" cy="179.1" r="0.78"/><circle cx="160.79" cy="188.01" r="0.78"/><circle cx="169.53" cy="183.99" r="0.78"/><circle cx="165.63" cy="184.49" r="0.78"/><circle cx="187.9" cy="174.35" r="0.78"/><circle cx="185.59" cy="166.37" r="0.78"/><circle cx="184.21" cy="167.91" r="0.78"/><circle cx="182.75" cy="171.79" r="0.78"/><circle cx="183.5" cy="166.18" r="0.78"/><circle cx="192.15" cy="161.2" r="0.78"/><circle cx="166.39" cy="187.02" r="0.78"/><circle cx="166.24" cy="185.7" r="0.78"/><circle cx="194.9" cy="159.38" r="0.78"/><circle cx="193.9" cy="166.45" r="0.78"/><circle cx="183.6" cy="172.96" r="0.78"/><circle cx="185.13" cy="164.22" r="0.78"/><circle cx="180.97" cy="171.92" r="0.78"/><circle cx="169.98" cy="187.22" r="0.78"/><circle cx="198" cy="141" r="0.78"/><circle cx="202" cy="146.5" r="0.78"/><circle cx="200.8" cy="150.6" r="0.78"/><circle cx="209" cy="135.5" r="0.78"/><circle cx="214.6" cy="132.7" r="0.78"/><circle cx="214.6" cy="130.8" r="0.78"/><circle cx="211.8" cy="158.8" r="0.78"/><circle cx="202.2" cy="165.7" r="0.78"/><circle cx="225.5" cy="179.5" r="0.78"/><circle cx="185.7" cy="178" r="0.78"/><circle cx="177.5" cy="189" r="0.78"/><circle cx="172" cy="171.2" r="0.78"/><circle cx="166.5" cy="190.4" r="0.78"/></g>
<line x1="142.2" y1="210.6" x2="180" y2="174.5" stroke="#1c2c5e" stroke-width="1.3" stroke-linecap="round" stroke-opacity="0.9"/>
<line x1="44.6" y1="110.3" x2="70.5" y2="88.3" stroke="#aa2236" stroke-width="1.1"/>
<line x1="151.5" y1="104.4" x2="189.5" y2="68.2" stroke="#aa2236" stroke-width="1.1"/>
<rect x="34.7" y="30.5" width="95.6" height="92.8" fill="none" stroke="#1e1e1e" stroke-width="1.2"/>
<rect x="134.7" y="30.5" width="95.4" height="92.8" fill="none" stroke="#1e1e1e" stroke-width="1.2"/>
<rect x="34.7" y="127.5" width="95.6" height="92.8" fill="none" stroke="#1e1e1e" stroke-width="1.2"/>
<rect x="134.7" y="127.5" width="95.4" height="92.8" fill="none" stroke="#1e1e1e" stroke-width="1.2"/>
<line x1="31.8" y1="119.5" x2="34.5" y2="119.5" stroke="#1e1e1e" stroke-width="0.8"/>
<text x="30.3" y="122" font-size="7.2" text-anchor="end" fill="#333">0</text>
<line x1="31.8" y1="96.33" x2="34.5" y2="96.33" stroke="#1e1e1e" stroke-width="0.8"/>
<text x="30.3" y="98.83" font-size="7.2" text-anchor="end" fill="#333">100</text>
<line x1="31.8" y1="73.16" x2="34.5" y2="73.16" stroke="#1e1e1e" stroke-width="0.8"/>
<text x="30.3" y="75.66" font-size="7.2" text-anchor="end" fill="#333">200</text>
<line x1="31.8" y1="49.99" x2="34.5" y2="49.99" stroke="#1e1e1e" stroke-width="0.8"/>
<text x="30.3" y="52.49" font-size="7.2" text-anchor="end" fill="#333">300</text>
<line x1="31.8" y1="216.6" x2="34.5" y2="216.6" stroke="#1e1e1e" stroke-width="0.8"/>
<text x="30.3" y="219.1" font-size="7.2" text-anchor="end" fill="#333">0</text>
<line x1="31.8" y1="193.43" x2="34.5" y2="193.43" stroke="#1e1e1e" stroke-width="0.8"/>
<text x="30.3" y="195.93" font-size="7.2" text-anchor="end" fill="#333">100</text>
<line x1="31.8" y1="170.26" x2="34.5" y2="170.26" stroke="#1e1e1e" stroke-width="0.8"/>
<text x="30.3" y="172.76" font-size="7.2" text-anchor="end" fill="#333">200</text>
<line x1="31.8" y1="147.09" x2="34.5" y2="147.09" stroke="#1e1e1e" stroke-width="0.8"/>
<text x="30.3" y="149.59" font-size="7.2" text-anchor="end" fill="#333">300</text>
<line x1="35.8" y1="220.5" x2="35.8" y2="223" stroke="#1e1e1e" stroke-width="0.8"/>
<text x="35.8" y="232" font-size="7.2" text-anchor="middle" fill="#333">0</text>
<line x1="60.65" y1="220.5" x2="60.65" y2="223" stroke="#1e1e1e" stroke-width="0.8"/>
<text x="60.65" y="232" font-size="7.2" text-anchor="middle" fill="#333">100</text>
<line x1="85.5" y1="220.5" x2="85.5" y2="223" stroke="#1e1e1e" stroke-width="0.8"/>
<text x="85.5" y="232" font-size="7.2" text-anchor="middle" fill="#333">200</text>
<line x1="110.35" y1="220.5" x2="110.35" y2="223" stroke="#1e1e1e" stroke-width="0.8"/>
<text x="110.35" y="232" font-size="7.2" text-anchor="middle" fill="#333">300</text>
<line x1="135.8" y1="220.5" x2="135.8" y2="223" stroke="#1e1e1e" stroke-width="0.8"/>
<text x="135.8" y="232" font-size="7.2" text-anchor="middle" fill="#333">0</text>
<line x1="160.65" y1="220.5" x2="160.65" y2="223" stroke="#1e1e1e" stroke-width="0.8"/>
<text x="160.65" y="232" font-size="7.2" text-anchor="middle" fill="#333">100</text>
<line x1="185.5" y1="220.5" x2="185.5" y2="223" stroke="#1e1e1e" stroke-width="0.8"/>
<text x="185.5" y="232" font-size="7.2" text-anchor="middle" fill="#333">200</text>
<line x1="210.35" y1="220.5" x2="210.35" y2="223" stroke="#1e1e1e" stroke-width="0.8"/>
<text x="210.35" y="232" font-size="7.2" text-anchor="middle" fill="#333">300</text>
<text x="82.1" y="25" font-size="8.6" text-anchor="middle" fill="#222" stroke="#222" stroke-width="0.15" textLength="30.5" lengthAdjust="spacingAndGlyphs">VWF:Ag</text>
<text x="182.1" y="25" font-size="8.6" text-anchor="middle" fill="#222" stroke="#222" stroke-width="0.15" textLength="24" lengthAdjust="spacingAndGlyphs">FVIII:C</text>
<text x="131.6" y="247.3" font-size="9" text-anchor="middle" fill="#222" stroke="#222" stroke-width="0.25" textLength="123" lengthAdjust="spacingAndGlyphs">Observed VWF:Ag or FVIII:C levels (IU/mL)</text>
<text transform="translate(15 123.7) rotate(-90)" font-size="9" text-anchor="middle" fill="#222" stroke="#222" stroke-width="0.25" textLength="123" lengthAdjust="spacingAndGlyphs">Predicted VWF:Ag or FVIII:C levels (IU/mL)</text>
<text transform="translate(233.9 76.3) rotate(90)" font-size="9" text-anchor="middle" fill="#222" stroke="#222" stroke-width="0.25" textLength="63.7" lengthAdjust="spacingAndGlyphs">Population prediction</text>
<text transform="translate(233.9 173.1) rotate(90)" font-size="9" text-anchor="middle" fill="#222" stroke="#222" stroke-width="0.25" textLength="60" lengthAdjust="spacingAndGlyphs">Individual prediction</text>
<text x="20.6" y="14.4" font-size="11.4" font-weight="bold" fill="#111" stroke="#111" stroke-width="0.45">A</text>
<text x="266.4" y="14.4" font-size="11" font-weight="bold" fill="#111" stroke="#111" stroke-width="0.45">B</text>
<path d="M282.3 60V122M290.23 42V55.99M290.23 58.09V66.02M290.23 68.51V78.6M298.15 41.3V45.54M298.15 47.38V53.27M298.15 55.63V69.53M298.15 71.36V81.8M314 42V47.65M314 50.12V63.91M314 65.88V77.94M314 80.11V85.7M321.93 60.1V67.38M321.93 69.47V81.12M329.85 64V71.6M345.7 45.2V49.68M345.7 52.27V61.31M345.7 63.33V73.38M345.7 75.23V82.76M345.7 85.07V90.4M377.4 46V58.83M377.4 60.68V70.35M377.4 72.82V77.26M377.4 79.46V88" stroke="#1c3468" stroke-width="1.7" stroke-linecap="round" clip-path="url(#cbleft)"/>
<g fill="#2a4d8c" stroke="#162a55" stroke-width="0.35" fill-opacity="1" stroke-opacity="1" clip-path="url(#cbleft)"><circle cx="282.27" cy="60" r="0.8"/><circle cx="282.3" cy="60.6" r="0.8"/><circle cx="282.3" cy="61.2" r="0.8"/><circle cx="282.33" cy="61.81" r="0.8"/><circle cx="282.29" cy="62.41" r="0.8"/><circle cx="282.29" cy="63.01" r="0.8"/><circle cx="282.26" cy="63.61" r="0.8"/><circle cx="282.32" cy="64.21" r="0.8"/><circle cx="282.25" cy="64.82" r="0.8"/><circle cx="282.39" cy="65.42" r="0.8"/><circle cx="282.3" cy="66.02" r="0.8"/><circle cx="282.29" cy="66.62" r="0.8"/><circle cx="282.34" cy="67.22" r="0.8"/><circle cx="282.3" cy="67.83" r="0.8"/><circle cx="282.3" cy="68.43" r="0.8"/><circle cx="282.3" cy="69.03" r="0.8"/><circle cx="282.26" cy="69.63" r="0.8"/><circle cx="282.25" cy="70.23" r="0.8"/><circle cx="282.26" cy="70.83" r="0.8"/><circle cx="282.36" cy="71.44" r="0.8"/><circle cx="282.27" cy="72.04" r="0.8"/><circle cx="282.28" cy="72.64" r="0.8"/><circle cx="282.28" cy="73.24" r="0.8"/><circle cx="282.34" cy="73.84" r="0.8"/><circle cx="282.4" cy="74.45" r="0.8"/><circle cx="282.25" cy="75.05" r="0.8"/><circle cx="282.33" cy="75.65" r="0.8"/><circle cx="282.31" cy="76.25" r="0.8"/><circle cx="282.28" cy="76.85" r="0.8"/><circle cx="282.33" cy="77.46" r="0.8"/><circle cx="282.23" cy="78.06" r="0.8"/><circle cx="282.34" cy="78.66" r="0.8"/><circle cx="282.31" cy="79.26" r="0.8"/><circle cx="282.25" cy="79.86" r="0.8"/><circle cx="282.38" cy="80.47" r="0.8"/><circle cx="282.34" cy="81.07" r="0.8"/><circle cx="282.36" cy="81.67" r="0.8"/><circle cx="282.23" cy="82.27" r="0.8"/><circle cx="282.29" cy="82.87" r="0.8"/><circle cx="282.27" cy="83.48" r="0.8"/><circle cx="282.33" cy="84.08" r="0.8"/><circle cx="282.37" cy="84.68" r="0.8"/><circle cx="282.2" cy="85.28" r="0.8"/><circle cx="282.3" cy="85.88" r="0.8"/><circle cx="282.29" cy="86.49" r="0.8"/><circle cx="282.35" cy="87.09" r="0.8"/><circle cx="282.3" cy="87.69" r="0.8"/><circle cx="282.23" cy="88.29" r="0.8"/><circle cx="282.29" cy="88.89" r="0.8"/><circle cx="282.25" cy="89.5" r="0.8"/><circle cx="282.26" cy="90.1" r="0.8"/><circle cx="282.3" cy="90.7" r="0.8"/><circle cx="282.28" cy="91.3" r="0.8"/><circle cx="282.31" cy="91.9" r="0.8"/><circle cx="282.22" cy="92.5" r="0.8"/><circle cx="282.42" cy="93.11" r="0.8"/><circle cx="282.36" cy="93.71" r="0.8"/><circle cx="282.34" cy="94.31" r="0.8"/><circle cx="282.23" cy="94.91" r="0.8"/><circle cx="282.19" cy="95.51" r="0.8"/><circle cx="282.26" cy="96.12" r="0.8"/><circle cx="282.29" cy="96.72" r="0.8"/><circle cx="282.41" cy="97.32" r="0.8"/><circle cx="282.37" cy="97.92" r="0.8"/><circle cx="282.27" cy="98.52" r="0.8"/><circle cx="282.36" cy="99.13" r="0.8"/><circle cx="282.36" cy="99.73" r="0.8"/><circle cx="282.3" cy="100.33" r="0.8"/><circle cx="282.36" cy="100.93" r="0.8"/><circle cx="282.32" cy="101.53" r="0.8"/><circle cx="282.27" cy="102.14" r="0.8"/><circle cx="282.24" cy="102.74" r="0.8"/><circle cx="282.29" cy="103.34" r="0.8"/><circle cx="282.35" cy="103.94" r="0.8"/><circle cx="282.23" cy="104.54" r="0.8"/><circle cx="282.22" cy="105.15" r="0.8"/><circle cx="282.33" cy="105.75" r="0.8"/><circle cx="282.16" cy="106.35" r="0.8"/><circle cx="282.39" cy="106.95" r="0.8"/><circle cx="282.28" cy="107.55" r="0.8"/><circle cx="282.34" cy="108.16" r="0.8"/><circle cx="282.4" cy="108.76" r="0.8"/><circle cx="282.23" cy="109.36" r="0.8"/><circle cx="282.25" cy="109.96" r="0.8"/><circle cx="282.41" cy="110.56" r="0.8"/><circle cx="282.29" cy="111.17" r="0.8"/><circle cx="282.29" cy="111.77" r="0.8"/><circle cx="282.31" cy="112.37" r="0.8"/><circle cx="282.35" cy="112.97" r="0.8"/><circle cx="282.37" cy="113.57" r="0.8"/><circle cx="282.31" cy="114.17" r="0.8"/><circle cx="282.28" cy="114.78" r="0.8"/><circle cx="282.3" cy="115.38" r="0.8"/><circle cx="282.32" cy="115.98" r="0.8"/><circle cx="282.37" cy="116.58" r="0.8"/><circle cx="282.31" cy="117.18" r="0.8"/><circle cx="282.39" cy="117.79" r="0.8"/><circle cx="282.26" cy="118.39" r="0.8"/><circle cx="282.33" cy="118.99" r="0.8"/><circle cx="282.39" cy="119.59" r="0.8"/><circle cx="282.37" cy="120.19" r="0.8"/><circle cx="282.32" cy="120.8" r="0.8"/><circle cx="282.25" cy="121.4" r="0.8"/><circle cx="282.26" cy="122" r="0.8"/><circle cx="282.32" cy="53.5" r="0.8"/><circle cx="282.29" cy="58.5" r="0.8"/><circle cx="282.23" cy="129.4" r="0.8"/><circle cx="290.29" cy="42" r="0.8"/><circle cx="290.25" cy="42.61" r="0.8"/><circle cx="290.27" cy="43.22" r="0.8"/><circle cx="290.15" cy="43.82" r="0.8"/><circle cx="290.21" cy="44.43" r="0.8"/><circle cx="290.14" cy="45.04" r="0.8"/><circle cx="290.2" cy="45.65" r="0.8"/><circle cx="290.41" cy="46.26" r="0.8"/><circle cx="290.23" cy="46.87" r="0.8"/><circle cx="290.21" cy="47.47" r="0.8"/><circle cx="290.19" cy="48.08" r="0.8"/><circle cx="290.16" cy="48.69" r="0.8"/><circle cx="290.13" cy="49.3" r="0.8"/><circle cx="290.22" cy="49.91" r="0.8"/><circle cx="290.21" cy="50.52" r="0.8"/><circle cx="290.3" cy="51.12" r="0.8"/><circle cx="290.14" cy="51.73" r="0.8"/><circle cx="290.25" cy="52.34" r="0.8"/><circle cx="290.29" cy="52.95" r="0.8"/><circle cx="290.12" cy="53.56" r="0.8"/><circle cx="290.26" cy="54.17" r="0.8"/><circle cx="290.14" cy="54.77" r="0.8"/><circle cx="290.25" cy="55.38" r="0.8"/><circle cx="290.3" cy="55.99" r="0.8"/><circle cx="290.19" cy="58.09" r="0.8"/><circle cx="290.24" cy="58.7" r="0.8"/><circle cx="290.28" cy="59.31" r="0.8"/><circle cx="290.22" cy="59.92" r="0.8"/><circle cx="290.22" cy="60.53" r="0.8"/><circle cx="290.24" cy="61.14" r="0.8"/><circle cx="290.27" cy="61.75" r="0.8"/><circle cx="290.14" cy="62.36" r="0.8"/><circle cx="290.23" cy="62.97" r="0.8"/><circle cx="290.19" cy="63.58" r="0.8"/><circle cx="290.25" cy="64.19" r="0.8"/><circle cx="290.28" cy="64.8" r="0.8"/><circle cx="290.24" cy="65.41" r="0.8"/><circle cx="290.29" cy="66.02" r="0.8"/><circle cx="290.17" cy="68.51" r="0.8"/><circle cx="290.23" cy="69.14" r="0.8"/><circle cx="290.23" cy="69.77" r="0.8"/><circle cx="290.21" cy="70.4" r="0.8"/><circle cx="290.16" cy="71.03" r="0.8"/><circle cx="290.22" cy="71.67" r="0.8"/><circle cx="290.2" cy="72.3" r="0.8"/><circle cx="290.26" cy="72.93" r="0.8"/><circle cx="290.21" cy="73.56" r="0.8"/><circle cx="290.28" cy="74.19" r="0.8"/><circle cx="290.24" cy="74.82" r="0.8"/><circle cx="290.13" cy="75.45" r="0.8"/><circle cx="290.22" cy="76.08" r="0.8"/><circle cx="290.15" cy="76.71" r="0.8"/><circle cx="290.27" cy="77.34" r="0.8"/><circle cx="290.3" cy="77.97" r="0.8"/><circle cx="290.22" cy="78.6" r="0.8"/><circle cx="290.15" cy="38.1" r="0.8"/><circle cx="290.11" cy="82.6" r="0.8"/><circle cx="290.2" cy="95.1" r="0.8"/><circle cx="298.07" cy="41.3" r="0.8"/><circle cx="298.15" cy="41.91" r="0.8"/><circle cx="298.17" cy="42.51" r="0.8"/><circle cx="298.18" cy="43.12" r="0.8"/><circle cx="298.23" cy="43.72" r="0.8"/><circle cx="298.19" cy="44.33" r="0.8"/><circle cx="298.13" cy="44.93" r="0.8"/><circle cx="298.16" cy="45.54" r="0.8"/><circle cx="298.22" cy="47.38" r="0.8"/><circle cx="298.2" cy="48.04" r="0.8"/><circle cx="298.14" cy="48.69" r="0.8"/><circle cx="298.12" cy="49.35" r="0.8"/><circle cx="298.34" cy="50" r="0.8"/><circle cx="298.19" cy="50.66" r="0.8"/><circle cx="298.2" cy="51.31" r="0.8"/><circle cx="298.24" cy="51.96" r="0.8"/><circle cx="298.2" cy="52.62" r="0.8"/><circle cx="298.16" cy="53.27" r="0.8"/><circle cx="298.19" cy="55.63" r="0.8"/><circle cx="298.07" cy="56.24" r="0.8"/><circle cx="298.17" cy="56.84" r="0.8"/><circle cx="298.18" cy="57.45" r="0.8"/><circle cx="298.07" cy="58.05" r="0.8"/><circle cx="298.25" cy="58.66" r="0.8"/><circle cx="298.09" cy="59.26" r="0.8"/><circle cx="298.2" cy="59.86" r="0.8"/><circle cx="298.12" cy="60.47" r="0.8"/><circle cx="298.17" cy="61.07" r="0.8"/><circle cx="298.12" cy="61.68" r="0.8"/><circle cx="298.28" cy="62.28" r="0.8"/><circle cx="298.2" cy="62.89" r="0.8"/><circle cx="298.24" cy="63.49" r="0.8"/><circle cx="298.19" cy="64.09" r="0.8"/><circle cx="298.19" cy="64.7" r="0.8"/><circle cx="298.16" cy="65.3" r="0.8"/><circle cx="298.14" cy="65.91" r="0.8"/><circle cx="298.18" cy="66.51" r="0.8"/><circle cx="298.16" cy="67.12" r="0.8"/><circle cx="298.14" cy="67.72" r="0.8"/><circle cx="298.08" cy="68.33" r="0.8"/><circle cx="298.14" cy="68.93" r="0.8"/><circle cx="298.18" cy="69.53" r="0.8"/><circle cx="298.14" cy="71.36" r="0.8"/><circle cx="298.1" cy="71.97" r="0.8"/><circle cx="298.1" cy="72.58" r="0.8"/><circle cx="298.11" cy="73.2" r="0.8"/><circle cx="298.14" cy="73.81" r="0.8"/><circle cx="298.14" cy="74.43" r="0.8"/><circle cx="298.21" cy="75.04" r="0.8"/><circle cx="298.1" cy="75.66" r="0.8"/><circle cx="298.05" cy="76.27" r="0.8"/><circle cx="298.19" cy="76.89" r="0.8"/><circle cx="298.13" cy="77.5" r="0.8"/><circle cx="298.15" cy="78.11" r="0.8"/><circle cx="298.28" cy="78.73" r="0.8"/><circle cx="298.23" cy="79.34" r="0.8"/><circle cx="298.18" cy="79.96" r="0.8"/><circle cx="298.2" cy="80.57" r="0.8"/><circle cx="298.16" cy="81.19" r="0.8"/><circle cx="298.2" cy="81.8" r="0.8"/><circle cx="298.11" cy="38.1" r="0.8"/><circle cx="298.13" cy="85.7" r="0.8"/><circle cx="298.23" cy="90.4" r="0.8"/><circle cx="306.16" cy="68.3" r="0.8"/><circle cx="314.06" cy="42" r="0.8"/><circle cx="313.99" cy="42.63" r="0.8"/><circle cx="314.06" cy="43.26" r="0.8"/><circle cx="313.99" cy="43.88" r="0.8"/><circle cx="314.05" cy="44.51" r="0.8"/><circle cx="314" cy="45.14" r="0.8"/><circle cx="313.99" cy="45.77" r="0.8"/><circle cx="314" cy="46.4" r="0.8"/><circle cx="314.01" cy="47.02" r="0.8"/><circle cx="313.97" cy="47.65" r="0.8"/><circle cx="313.98" cy="50.12" r="0.8"/><circle cx="313.91" cy="50.74" r="0.8"/><circle cx="313.89" cy="51.37" r="0.8"/><circle cx="313.86" cy="52" r="0.8"/><circle cx="313.97" cy="52.62" r="0.8"/><circle cx="314.07" cy="53.25" r="0.8"/><circle cx="313.92" cy="53.88" r="0.8"/><circle cx="313.99" cy="54.5" r="0.8"/><circle cx="313.91" cy="55.13" r="0.8"/><circle cx="314.06" cy="55.76" r="0.8"/><circle cx="314.02" cy="56.39" r="0.8"/><circle cx="314.02" cy="57.01" r="0.8"/><circle cx="314.07" cy="57.64" r="0.8"/><circle cx="314.09" cy="58.27" r="0.8"/><circle cx="314.05" cy="58.89" r="0.8"/><circle cx="313.97" cy="59.52" r="0.8"/><circle cx="313.93" cy="60.15" r="0.8"/><circle cx="313.95" cy="60.77" r="0.8"/><circle cx="313.91" cy="61.4" r="0.8"/><circle cx="314.09" cy="62.03" r="0.8"/><circle cx="313.99" cy="62.65" r="0.8"/><circle cx="314.01" cy="63.28" r="0.8"/><circle cx="314.01" cy="63.91" r="0.8"/><circle cx="314.06" cy="65.88" r="0.8"/><circle cx="314.02" cy="66.49" r="0.8"/><circle cx="313.99" cy="67.09" r="0.8"/><circle cx="313.9" cy="67.69" r="0.8"/><circle cx="314.05" cy="68.3" r="0.8"/><circle cx="313.96" cy="68.9" r="0.8"/><circle cx="313.98" cy="69.5" r="0.8"/><circle cx="314.01" cy="70.1" r="0.8"/><circle cx="314.01" cy="70.71" r="0.8"/><circle cx="314.06" cy="71.31" r="0.8"/><circle cx="313.97" cy="71.91" r="0.8"/><circle cx="314.01" cy="72.52" r="0.8"/><circle cx="314.02" cy="73.12" r="0.8"/><circle cx="314" cy="73.72" r="0.8"/><circle cx="314.04" cy="74.33" r="0.8"/><circle cx="313.99" cy="74.93" r="0.8"/><circle cx="314.06" cy="75.53" r="0.8"/><circle cx="313.97" cy="76.13" r="0.8"/><circle cx="313.93" cy="76.74" r="0.8"/><circle cx="314" cy="77.34" r="0.8"/><circle cx="314.06" cy="77.94" r="0.8"/><circle cx="313.98" cy="80.11" r="0.8"/><circle cx="314.01" cy="80.73" r="0.8"/><circle cx="313.99" cy="81.35" r="0.8"/><circle cx="314.02" cy="81.97" r="0.8"/><circle cx="313.91" cy="82.59" r="0.8"/><circle cx="314.08" cy="83.21" r="0.8"/><circle cx="314.03" cy="83.84" r="0.8"/><circle cx="313.96" cy="84.46" r="0.8"/><circle cx="314.07" cy="85.08" r="0.8"/><circle cx="314.03" cy="85.7" r="0.8"/><circle cx="313.94" cy="38.9" r="0.8"/><circle cx="314.09" cy="87.3" r="0.8"/><circle cx="314" cy="89" r="0.8"/><circle cx="313.9" cy="91" r="0.8"/><circle cx="314.04" cy="93.5" r="0.8"/><circle cx="313.99" cy="97.5" r="0.8"/><circle cx="321.92" cy="60.1" r="0.8"/><circle cx="321.83" cy="60.71" r="0.8"/><circle cx="321.96" cy="61.31" r="0.8"/><circle cx="321.92" cy="61.92" r="0.8"/><circle cx="321.91" cy="62.53" r="0.8"/><circle cx="322" cy="63.13" r="0.8"/><circle cx="321.93" cy="63.74" r="0.8"/><circle cx="321.89" cy="64.35" r="0.8"/><circle cx="321.88" cy="64.95" r="0.8"/><circle cx="321.92" cy="65.56" r="0.8"/><circle cx="321.98" cy="66.17" r="0.8"/><circle cx="321.9" cy="66.77" r="0.8"/><circle cx="321.87" cy="67.38" r="0.8"/><circle cx="321.93" cy="69.47" r="0.8"/><circle cx="322.03" cy="70.08" r="0.8"/><circle cx="321.86" cy="70.69" r="0.8"/><circle cx="321.94" cy="71.31" r="0.8"/><circle cx="321.84" cy="71.92" r="0.8"/><circle cx="321.91" cy="72.53" r="0.8"/><circle cx="321.96" cy="73.15" r="0.8"/><circle cx="321.99" cy="73.76" r="0.8"/><circle cx="321.86" cy="74.37" r="0.8"/><circle cx="321.97" cy="74.99" r="0.8"/><circle cx="321.97" cy="75.6" r="0.8"/><circle cx="321.92" cy="76.22" r="0.8"/><circle cx="322.05" cy="76.83" r="0.8"/><circle cx="321.93" cy="77.44" r="0.8"/><circle cx="321.88" cy="78.06" r="0.8"/><circle cx="321.95" cy="78.67" r="0.8"/><circle cx="321.83" cy="79.28" r="0.8"/><circle cx="322.01" cy="79.9" r="0.8"/><circle cx="321.98" cy="80.51" r="0.8"/><circle cx="321.91" cy="81.12" r="0.8"/><circle cx="321.95" cy="54.2" r="0.8"/><circle cx="322.03" cy="57" r="0.8"/><circle cx="329.79" cy="64" r="0.8"/><circle cx="329.75" cy="64.63" r="0.8"/><circle cx="329.84" cy="65.27" r="0.8"/><circle cx="329.77" cy="65.9" r="0.8"/><circle cx="329.84" cy="66.53" r="0.8"/><circle cx="329.87" cy="67.17" r="0.8"/><circle cx="329.83" cy="67.8" r="0.8"/><circle cx="329.8" cy="68.43" r="0.8"/><circle cx="329.91" cy="69.07" r="0.8"/><circle cx="329.84" cy="69.7" r="0.8"/><circle cx="329.86" cy="70.33" r="0.8"/><circle cx="329.9" cy="70.97" r="0.8"/><circle cx="329.78" cy="71.6" r="0.8"/><circle cx="329.98" cy="46.3" r="0.8"/><circle cx="329.84" cy="61.7" r="0.8"/><circle cx="329.8" cy="76.3" r="0.8"/><circle cx="329.84" cy="81" r="0.8"/><circle cx="329.82" cy="85.7" r="0.8"/><circle cx="329.79" cy="89.6" r="0.8"/><circle cx="337.76" cy="38.5" r="0.8"/><circle cx="337.78" cy="57.8" r="0.8"/><circle cx="337.78" cy="59.2" r="0.8"/><circle cx="337.8" cy="60.4" r="0.8"/><circle cx="337.69" cy="68" r="0.8"/><circle cx="337.7" cy="73.1" r="0.8"/><circle cx="345.68" cy="45.2" r="0.8"/><circle cx="345.76" cy="45.84" r="0.8"/><circle cx="345.72" cy="46.48" r="0.8"/><circle cx="345.63" cy="47.12" r="0.8"/><circle cx="345.73" cy="47.76" r="0.8"/><circle cx="345.65" cy="48.4" r="0.8"/><circle cx="345.72" cy="49.04" r="0.8"/><circle cx="345.77" cy="49.68" r="0.8"/><circle cx="345.74" cy="52.27" r="0.8"/><circle cx="345.72" cy="52.87" r="0.8"/><circle cx="345.74" cy="53.48" r="0.8"/><circle cx="345.57" cy="54.08" r="0.8"/><circle cx="345.68" cy="54.68" r="0.8"/><circle cx="345.72" cy="55.28" r="0.8"/><circle cx="345.73" cy="55.89" r="0.8"/><circle cx="345.66" cy="56.49" r="0.8"/><circle cx="345.74" cy="57.09" r="0.8"/><circle cx="345.76" cy="57.69" r="0.8"/><circle cx="345.71" cy="58.3" r="0.8"/><circle cx="345.69" cy="58.9" r="0.8"/><circle cx="345.68" cy="59.5" r="0.8"/><circle cx="345.71" cy="60.1" r="0.8"/><circle cx="345.76" cy="60.71" r="0.8"/><circle cx="345.78" cy="61.31" r="0.8"/><circle cx="345.66" cy="63.33" r="0.8"/><circle cx="345.75" cy="63.96" r="0.8"/><circle cx="345.71" cy="64.59" r="0.8"/><circle cx="345.72" cy="65.22" r="0.8"/><circle cx="345.73" cy="65.84" r="0.8"/><circle cx="345.72" cy="66.47" r="0.8"/><circle cx="345.7" cy="67.1" r="0.8"/><circle cx="345.65" cy="67.73" r="0.8"/><circle cx="345.67" cy="68.36" r="0.8"/><circle cx="345.71" cy="68.98" r="0.8"/><circle cx="345.72" cy="69.61" r="0.8"/><circle cx="345.68" cy="70.24" r="0.8"/><circle cx="345.68" cy="70.87" r="0.8"/><circle cx="345.77" cy="71.5" r="0.8"/><circle cx="345.68" cy="72.12" r="0.8"/><circle cx="345.71" cy="72.75" r="0.8"/><circle cx="345.69" cy="73.38" r="0.8"/><circle cx="345.67" cy="75.23" r="0.8"/><circle cx="345.66" cy="75.86" r="0.8"/><circle cx="345.75" cy="76.49" r="0.8"/><circle cx="345.64" cy="77.12" r="0.8"/><circle cx="345.68" cy="77.74" r="0.8"/><circle cx="345.74" cy="78.37" r="0.8"/><circle cx="345.7" cy="79" r="0.8"/><circle cx="345.73" cy="79.62" r="0.8"/><circle cx="345.74" cy="80.25" r="0.8"/><circle cx="345.62" cy="80.88" r="0.8"/><circle cx="345.68" cy="81.5" r="0.8"/><circle cx="345.65" cy="82.13" r="0.8"/><circle cx="345.77" cy="82.76" r="0.8"/><circle cx="345.79" cy="85.07" r="0.8"/><circle cx="345.68" cy="85.74" r="0.8"/><circle cx="345.71" cy="86.4" r="0.8"/><circle cx="345.72" cy="87.07" r="0.8"/><circle cx="345.69" cy="87.74" r="0.8"/><circle cx="345.77" cy="88.4" r="0.8"/><circle cx="345.74" cy="89.07" r="0.8"/><circle cx="345.75" cy="89.73" r="0.8"/><circle cx="345.7" cy="90.4" r="0.8"/><circle cx="345.68" cy="94.3" r="0.8"/><circle cx="345.68" cy="96" r="0.8"/><circle cx="345.62" cy="98" r="0.8"/><circle cx="345.72" cy="100" r="0.8"/><circle cx="345.74" cy="102" r="0.8"/><circle cx="345.7" cy="104.5" r="0.8"/><circle cx="361.53" cy="52" r="0.8"/><circle cx="377.41" cy="46" r="0.8"/><circle cx="377.42" cy="46.61" r="0.8"/><circle cx="377.49" cy="47.22" r="0.8"/><circle cx="377.36" cy="47.83" r="0.8"/><circle cx="377.42" cy="48.44" r="0.8"/><circle cx="377.44" cy="49.06" r="0.8"/><circle cx="377.41" cy="49.67" r="0.8"/><circle cx="377.39" cy="50.28" r="0.8"/><circle cx="377.35" cy="50.89" r="0.8"/><circle cx="377.37" cy="51.5" r="0.8"/><circle cx="377.44" cy="52.11" r="0.8"/><circle cx="377.48" cy="52.72" r="0.8"/><circle cx="377.37" cy="53.33" r="0.8"/><circle cx="377.43" cy="53.94" r="0.8"/><circle cx="377.43" cy="54.55" r="0.8"/><circle cx="377.45" cy="55.17" r="0.8"/><circle cx="377.41" cy="55.78" r="0.8"/><circle cx="377.42" cy="56.39" r="0.8"/><circle cx="377.45" cy="57" r="0.8"/><circle cx="377.34" cy="57.61" r="0.8"/><circle cx="377.4" cy="58.22" r="0.8"/><circle cx="377.31" cy="58.83" r="0.8"/><circle cx="377.32" cy="60.68" r="0.8"/><circle cx="377.43" cy="61.29" r="0.8"/><circle cx="377.45" cy="61.89" r="0.8"/><circle cx="377.39" cy="62.49" r="0.8"/><circle cx="377.39" cy="63.1" r="0.8"/><circle cx="377.39" cy="63.7" r="0.8"/><circle cx="377.39" cy="64.31" r="0.8"/><circle cx="377.41" cy="64.91" r="0.8"/><circle cx="377.42" cy="65.52" r="0.8"/><circle cx="377.38" cy="66.12" r="0.8"/><circle cx="377.36" cy="66.72" r="0.8"/><circle cx="377.38" cy="67.33" r="0.8"/><circle cx="377.44" cy="67.93" r="0.8"/><circle cx="377.38" cy="68.54" r="0.8"/><circle cx="377.48" cy="69.14" r="0.8"/><circle cx="377.39" cy="69.74" r="0.8"/><circle cx="377.47" cy="70.35" r="0.8"/><circle cx="377.43" cy="72.82" r="0.8"/><circle cx="377.43" cy="73.46" r="0.8"/><circle cx="377.39" cy="74.09" r="0.8"/><circle cx="377.5" cy="74.73" r="0.8"/><circle cx="377.41" cy="75.36" r="0.8"/><circle cx="377.42" cy="75.99" r="0.8"/><circle cx="377.37" cy="76.63" r="0.8"/><circle cx="377.49" cy="77.26" r="0.8"/><circle cx="377.44" cy="79.46" r="0.8"/><circle cx="377.42" cy="80.07" r="0.8"/><circle cx="377.32" cy="80.68" r="0.8"/><circle cx="377.42" cy="81.29" r="0.8"/><circle cx="377.38" cy="81.9" r="0.8"/><circle cx="377.42" cy="82.51" r="0.8"/><circle cx="377.45" cy="83.12" r="0.8"/><circle cx="377.36" cy="83.73" r="0.8"/><circle cx="377.41" cy="84.34" r="0.8"/><circle cx="377.45" cy="84.95" r="0.8"/><circle cx="377.41" cy="85.56" r="0.8"/><circle cx="377.39" cy="86.17" r="0.8"/><circle cx="377.35" cy="86.78" r="0.8"/><circle cx="377.37" cy="87.39" r="0.8"/><circle cx="377.34" cy="88" r="0.8"/><circle cx="377.41" cy="89.5" r="0.8"/><circle cx="377.34" cy="91" r="0.8"/><circle cx="377.4" cy="93" r="0.8"/><circle cx="377.34" cy="95" r="0.8"/><circle cx="377.24" cy="99" r="0.8"/><circle cx="377.46" cy="101" r="0.8"/><circle cx="377.46" cy="103" r="0.8"/><circle cx="377.33" cy="105" r="0.8"/><circle cx="377.37" cy="106.9" r="0.8"/></g>
<path d="M395.7 95.1V157M403.66 41.3V51.41M403.66 53.38V54.5M403.66 56.5V60.58M403.66 62.72V75.33M403.66 77.37V88.14M403.66 90.51V100.42M403.66 102.49V112.75M411.63 50.7V59.9M411.63 62.16V74.43M411.63 76.26V86.29M411.63 88.88V96.97M411.63 99.08V109.85M411.63 112.2V121.95M427.56 55.4V67.46M427.56 69.82V74.53M427.56 77.11V89.12M427.56 90.96V97.31M427.56 99.31V109.25M427.56 111.39V113M435.52 98V103.59M443.49 73V79.54M443.49 81.65V94.16M443.49 96.25V97.6M459.42 60.2V66.67M459.42 68.62V77.14M459.42 79.11V86.16M459.42 88.23V96.52M459.42 98.94V110.51M459.42 112.76V122.8M459.42 125.09V131M491.28 67.7V78.6M491.28 81.15V92.45M491.28 94.63V107.3M491.28 109.76V116.25M491.28 118.08V124" stroke="#1c3468" stroke-width="1.7" stroke-linecap="round" clip-path="url(#cbright)"/>
<g fill="#2a4d8c" stroke="#162a55" stroke-width="0.35" fill-opacity="1" stroke-opacity="1" clip-path="url(#cbright)"><circle cx="395.71" cy="95.1" r="0.8"/><circle cx="395.68" cy="95.7" r="0.8"/><circle cx="395.66" cy="96.3" r="0.8"/><circle cx="395.68" cy="96.9" r="0.8"/><circle cx="395.69" cy="97.5" r="0.8"/><circle cx="395.67" cy="98.1" r="0.8"/><circle cx="395.71" cy="98.71" r="0.8"/><circle cx="395.69" cy="99.31" r="0.8"/><circle cx="395.66" cy="99.91" r="0.8"/><circle cx="395.7" cy="100.51" r="0.8"/><circle cx="395.62" cy="101.11" r="0.8"/><circle cx="395.77" cy="101.71" r="0.8"/><circle cx="395.61" cy="102.31" r="0.8"/><circle cx="395.7" cy="102.91" r="0.8"/><circle cx="395.72" cy="103.51" r="0.8"/><circle cx="395.72" cy="104.11" r="0.8"/><circle cx="395.71" cy="104.72" r="0.8"/><circle cx="395.76" cy="105.32" r="0.8"/><circle cx="395.65" cy="105.92" r="0.8"/><circle cx="395.7" cy="106.52" r="0.8"/><circle cx="395.71" cy="107.12" r="0.8"/><circle cx="395.68" cy="107.72" r="0.8"/><circle cx="395.67" cy="108.32" r="0.8"/><circle cx="395.77" cy="108.92" r="0.8"/><circle cx="395.67" cy="109.52" r="0.8"/><circle cx="395.68" cy="110.12" r="0.8"/><circle cx="395.69" cy="110.73" r="0.8"/><circle cx="395.69" cy="111.33" r="0.8"/><circle cx="395.71" cy="111.93" r="0.8"/><circle cx="395.69" cy="112.53" r="0.8"/><circle cx="395.72" cy="113.13" r="0.8"/><circle cx="395.71" cy="113.73" r="0.8"/><circle cx="395.73" cy="114.33" r="0.8"/><circle cx="395.77" cy="114.93" r="0.8"/><circle cx="395.66" cy="115.53" r="0.8"/><circle cx="395.78" cy="116.13" r="0.8"/><circle cx="395.68" cy="116.73" r="0.8"/><circle cx="395.73" cy="117.34" r="0.8"/><circle cx="395.71" cy="117.94" r="0.8"/><circle cx="395.69" cy="118.54" r="0.8"/><circle cx="395.6" cy="119.14" r="0.8"/><circle cx="395.78" cy="119.74" r="0.8"/><circle cx="395.66" cy="120.34" r="0.8"/><circle cx="395.66" cy="120.94" r="0.8"/><circle cx="395.75" cy="121.54" r="0.8"/><circle cx="395.7" cy="122.14" r="0.8"/><circle cx="395.8" cy="122.74" r="0.8"/><circle cx="395.79" cy="123.35" r="0.8"/><circle cx="395.74" cy="123.95" r="0.8"/><circle cx="395.71" cy="124.55" r="0.8"/><circle cx="395.74" cy="125.15" r="0.8"/><circle cx="395.64" cy="125.75" r="0.8"/><circle cx="395.71" cy="126.35" r="0.8"/><circle cx="395.71" cy="126.95" r="0.8"/><circle cx="395.68" cy="127.55" r="0.8"/><circle cx="395.71" cy="128.15" r="0.8"/><circle cx="395.63" cy="128.75" r="0.8"/><circle cx="395.75" cy="129.36" r="0.8"/><circle cx="395.77" cy="129.96" r="0.8"/><circle cx="395.64" cy="130.56" r="0.8"/><circle cx="395.71" cy="131.16" r="0.8"/><circle cx="395.78" cy="131.76" r="0.8"/><circle cx="395.72" cy="132.36" r="0.8"/><circle cx="395.65" cy="132.96" r="0.8"/><circle cx="395.65" cy="133.56" r="0.8"/><circle cx="395.74" cy="134.16" r="0.8"/><circle cx="395.79" cy="134.76" r="0.8"/><circle cx="395.65" cy="135.37" r="0.8"/><circle cx="395.7" cy="135.97" r="0.8"/><circle cx="395.66" cy="136.57" r="0.8"/><circle cx="395.69" cy="137.17" r="0.8"/><circle cx="395.72" cy="137.77" r="0.8"/><circle cx="395.7" cy="138.37" r="0.8"/><circle cx="395.67" cy="138.97" r="0.8"/><circle cx="395.81" cy="139.57" r="0.8"/><circle cx="395.69" cy="140.17" r="0.8"/><circle cx="395.69" cy="140.77" r="0.8"/><circle cx="395.76" cy="141.37" r="0.8"/><circle cx="395.7" cy="141.98" r="0.8"/><circle cx="395.69" cy="142.58" r="0.8"/><circle cx="395.75" cy="143.18" r="0.8"/><circle cx="395.65" cy="143.78" r="0.8"/><circle cx="395.74" cy="144.38" r="0.8"/><circle cx="395.75" cy="144.98" r="0.8"/><circle cx="395.73" cy="145.58" r="0.8"/><circle cx="395.69" cy="146.18" r="0.8"/><circle cx="395.7" cy="146.78" r="0.8"/><circle cx="395.62" cy="147.38" r="0.8"/><circle cx="395.69" cy="147.99" r="0.8"/><circle cx="395.72" cy="148.59" r="0.8"/><circle cx="395.74" cy="149.19" r="0.8"/><circle cx="395.71" cy="149.79" r="0.8"/><circle cx="395.68" cy="150.39" r="0.8"/><circle cx="395.66" cy="150.99" r="0.8"/><circle cx="395.7" cy="151.59" r="0.8"/><circle cx="395.71" cy="152.19" r="0.8"/><circle cx="395.76" cy="152.79" r="0.8"/><circle cx="395.7" cy="153.39" r="0.8"/><circle cx="395.68" cy="154" r="0.8"/><circle cx="395.7" cy="154.6" r="0.8"/><circle cx="395.68" cy="155.2" r="0.8"/><circle cx="395.69" cy="155.8" r="0.8"/><circle cx="395.59" cy="156.4" r="0.8"/><circle cx="395.62" cy="157" r="0.8"/><circle cx="395.72" cy="84.9" r="0.8"/><circle cx="395.7" cy="88" r="0.8"/><circle cx="395.71" cy="90.4" r="0.8"/><circle cx="395.76" cy="92" r="0.8"/><circle cx="395.65" cy="159.2" r="0.8"/><circle cx="395.76" cy="161.4" r="0.8"/><circle cx="395.72" cy="163.6" r="0.8"/><circle cx="395.67" cy="166" r="0.8"/><circle cx="395.77" cy="169.5" r="0.8"/><circle cx="395.63" cy="176.3" r="0.8"/><circle cx="403.66" cy="41.3" r="0.8"/><circle cx="403.69" cy="41.93" r="0.8"/><circle cx="403.66" cy="42.56" r="0.8"/><circle cx="403.56" cy="43.19" r="0.8"/><circle cx="403.65" cy="43.83" r="0.8"/><circle cx="403.66" cy="44.46" r="0.8"/><circle cx="403.79" cy="45.09" r="0.8"/><circle cx="403.73" cy="45.72" r="0.8"/><circle cx="403.67" cy="46.35" r="0.8"/><circle cx="403.61" cy="46.98" r="0.8"/><circle cx="403.68" cy="47.62" r="0.8"/><circle cx="403.61" cy="48.25" r="0.8"/><circle cx="403.68" cy="48.88" r="0.8"/><circle cx="403.68" cy="49.51" r="0.8"/><circle cx="403.65" cy="50.14" r="0.8"/><circle cx="403.68" cy="50.77" r="0.8"/><circle cx="403.65" cy="51.41" r="0.8"/><circle cx="403.69" cy="53.38" r="0.8"/><circle cx="403.65" cy="54.5" r="0.8"/><circle cx="403.69" cy="56.5" r="0.8"/><circle cx="403.71" cy="57.18" r="0.8"/><circle cx="403.74" cy="57.86" r="0.8"/><circle cx="403.69" cy="58.54" r="0.8"/><circle cx="403.61" cy="59.22" r="0.8"/><circle cx="403.77" cy="59.9" r="0.8"/><circle cx="403.72" cy="60.58" r="0.8"/><circle cx="403.59" cy="62.72" r="0.8"/><circle cx="403.65" cy="63.32" r="0.8"/><circle cx="403.64" cy="63.92" r="0.8"/><circle cx="403.72" cy="64.52" r="0.8"/><circle cx="403.61" cy="65.12" r="0.8"/><circle cx="403.65" cy="65.72" r="0.8"/><circle cx="403.74" cy="66.32" r="0.8"/><circle cx="403.7" cy="66.92" r="0.8"/><circle cx="403.65" cy="67.52" r="0.8"/><circle cx="403.76" cy="68.12" r="0.8"/><circle cx="403.6" cy="68.72" r="0.8"/><circle cx="403.69" cy="69.32" r="0.8"/><circle cx="403.65" cy="69.92" r="0.8"/><circle cx="403.69" cy="70.52" r="0.8"/><circle cx="403.65" cy="71.12" r="0.8"/><circle cx="403.62" cy="71.72" r="0.8"/><circle cx="403.68" cy="72.32" r="0.8"/><circle cx="403.6" cy="72.93" r="0.8"/><circle cx="403.69" cy="73.53" r="0.8"/><circle cx="403.65" cy="74.13" r="0.8"/><circle cx="403.71" cy="74.73" r="0.8"/><circle cx="403.64" cy="75.33" r="0.8"/><circle cx="403.73" cy="77.37" r="0.8"/><circle cx="403.56" cy="78.01" r="0.8"/><circle cx="403.67" cy="78.64" r="0.8"/><circle cx="403.7" cy="79.27" r="0.8"/><circle cx="403.6" cy="79.91" r="0.8"/><circle cx="403.62" cy="80.54" r="0.8"/><circle cx="403.7" cy="81.17" r="0.8"/><circle cx="403.62" cy="81.81" r="0.8"/><circle cx="403.63" cy="82.44" r="0.8"/><circle cx="403.75" cy="83.07" r="0.8"/><circle cx="403.62" cy="83.71" r="0.8"/><circle cx="403.62" cy="84.34" r="0.8"/><circle cx="403.55" cy="84.97" r="0.8"/><circle cx="403.61" cy="85.61" r="0.8"/><circle cx="403.6" cy="86.24" r="0.8"/><circle cx="403.75" cy="86.87" r="0.8"/><circle cx="403.73" cy="87.5" r="0.8"/><circle cx="403.6" cy="88.14" r="0.8"/><circle cx="403.66" cy="90.51" r="0.8"/><circle cx="403.71" cy="91.13" r="0.8"/><circle cx="403.68" cy="91.75" r="0.8"/><circle cx="403.63" cy="92.37" r="0.8"/><circle cx="403.58" cy="92.99" r="0.8"/><circle cx="403.62" cy="93.61" r="0.8"/><circle cx="403.67" cy="94.23" r="0.8"/><circle cx="403.65" cy="94.85" r="0.8"/><circle cx="403.63" cy="95.47" r="0.8"/><circle cx="403.71" cy="96.09" r="0.8"/><circle cx="403.61" cy="96.71" r="0.8"/><circle cx="403.71" cy="97.32" r="0.8"/><circle cx="403.64" cy="97.94" r="0.8"/><circle cx="403.67" cy="98.56" r="0.8"/><circle cx="403.61" cy="99.18" r="0.8"/><circle cx="403.67" cy="99.8" r="0.8"/><circle cx="403.63" cy="100.42" r="0.8"/><circle cx="403.66" cy="102.49" r="0.8"/><circle cx="403.71" cy="103.09" r="0.8"/><circle cx="403.68" cy="103.7" r="0.8"/><circle cx="403.62" cy="104.3" r="0.8"/><circle cx="403.64" cy="104.9" r="0.8"/><circle cx="403.54" cy="105.51" r="0.8"/><circle cx="403.61" cy="106.11" r="0.8"/><circle cx="403.73" cy="106.72" r="0.8"/><circle cx="403.74" cy="107.32" r="0.8"/><circle cx="403.7" cy="107.92" r="0.8"/><circle cx="403.68" cy="108.53" r="0.8"/><circle cx="403.69" cy="109.13" r="0.8"/><circle cx="403.69" cy="109.73" r="0.8"/><circle cx="403.58" cy="110.34" r="0.8"/><circle cx="403.62" cy="110.94" r="0.8"/><circle cx="403.72" cy="111.54" r="0.8"/><circle cx="403.72" cy="112.15" r="0.8"/><circle cx="403.68" cy="112.75" r="0.8"/><circle cx="403.65" cy="117.6" r="0.8"/><circle cx="403.64" cy="119.5" r="0.8"/><circle cx="403.62" cy="121.5" r="0.8"/><circle cx="403.57" cy="127" r="0.8"/><circle cx="411.61" cy="50.7" r="0.8"/><circle cx="411.62" cy="51.31" r="0.8"/><circle cx="411.71" cy="51.93" r="0.8"/><circle cx="411.66" cy="52.54" r="0.8"/><circle cx="411.6" cy="53.15" r="0.8"/><circle cx="411.66" cy="53.77" r="0.8"/><circle cx="411.56" cy="54.38" r="0.8"/><circle cx="411.68" cy="54.99" r="0.8"/><circle cx="411.64" cy="55.61" r="0.8"/><circle cx="411.62" cy="56.22" r="0.8"/><circle cx="411.66" cy="56.83" r="0.8"/><circle cx="411.7" cy="57.45" r="0.8"/><circle cx="411.61" cy="58.06" r="0.8"/><circle cx="411.58" cy="58.68" r="0.8"/><circle cx="411.73" cy="59.29" r="0.8"/><circle cx="411.63" cy="59.9" r="0.8"/><circle cx="411.65" cy="62.16" r="0.8"/><circle cx="411.6" cy="62.77" r="0.8"/><circle cx="411.66" cy="63.39" r="0.8"/><circle cx="411.62" cy="64" r="0.8"/><circle cx="411.6" cy="64.61" r="0.8"/><circle cx="411.71" cy="65.23" r="0.8"/><circle cx="411.65" cy="65.84" r="0.8"/><circle cx="411.53" cy="66.45" r="0.8"/><circle cx="411.62" cy="67.07" r="0.8"/><circle cx="411.58" cy="67.68" r="0.8"/><circle cx="411.57" cy="68.29" r="0.8"/><circle cx="411.6" cy="68.91" r="0.8"/><circle cx="411.61" cy="69.52" r="0.8"/><circle cx="411.63" cy="70.13" r="0.8"/><circle cx="411.59" cy="70.75" r="0.8"/><circle cx="411.54" cy="71.36" r="0.8"/><circle cx="411.6" cy="71.97" r="0.8"/><circle cx="411.67" cy="72.59" r="0.8"/><circle cx="411.56" cy="73.2" r="0.8"/><circle cx="411.66" cy="73.81" r="0.8"/><circle cx="411.65" cy="74.43" r="0.8"/><circle cx="411.59" cy="76.26" r="0.8"/><circle cx="411.61" cy="76.88" r="0.8"/><circle cx="411.58" cy="77.51" r="0.8"/><circle cx="411.65" cy="78.14" r="0.8"/><circle cx="411.7" cy="78.76" r="0.8"/><circle cx="411.6" cy="79.39" r="0.8"/><circle cx="411.69" cy="80.02" r="0.8"/><circle cx="411.52" cy="80.65" r="0.8"/><circle cx="411.59" cy="81.27" r="0.8"/><circle cx="411.58" cy="81.9" r="0.8"/><circle cx="411.72" cy="82.53" r="0.8"/><circle cx="411.6" cy="83.15" r="0.8"/><circle cx="411.67" cy="83.78" r="0.8"/><circle cx="411.53" cy="84.41" r="0.8"/><circle cx="411.64" cy="85.03" r="0.8"/><circle cx="411.66" cy="85.66" r="0.8"/><circle cx="411.63" cy="86.29" r="0.8"/><circle cx="411.67" cy="88.88" r="0.8"/><circle cx="411.7" cy="89.5" r="0.8"/><circle cx="411.65" cy="90.13" r="0.8"/><circle cx="411.55" cy="90.75" r="0.8"/><circle cx="411.62" cy="91.37" r="0.8"/><circle cx="411.68" cy="91.99" r="0.8"/><circle cx="411.59" cy="92.61" r="0.8"/><circle cx="411.66" cy="93.24" r="0.8"/><circle cx="411.61" cy="93.86" r="0.8"/><circle cx="411.63" cy="94.48" r="0.8"/><circle cx="411.67" cy="95.1" r="0.8"/><circle cx="411.59" cy="95.72" r="0.8"/><circle cx="411.77" cy="96.35" r="0.8"/><circle cx="411.64" cy="96.97" r="0.8"/><circle cx="411.63" cy="99.08" r="0.8"/><circle cx="411.62" cy="99.72" r="0.8"/><circle cx="411.56" cy="100.35" r="0.8"/><circle cx="411.55" cy="100.98" r="0.8"/><circle cx="411.64" cy="101.62" r="0.8"/><circle cx="411.63" cy="102.25" r="0.8"/><circle cx="411.5" cy="102.88" r="0.8"/><circle cx="411.52" cy="103.52" r="0.8"/><circle cx="411.61" cy="104.15" r="0.8"/><circle cx="411.63" cy="104.78" r="0.8"/><circle cx="411.66" cy="105.42" r="0.8"/><circle cx="411.57" cy="106.05" r="0.8"/><circle cx="411.66" cy="106.68" r="0.8"/><circle cx="411.61" cy="107.32" r="0.8"/><circle cx="411.6" cy="107.95" r="0.8"/><circle cx="411.62" cy="108.58" r="0.8"/><circle cx="411.68" cy="109.22" r="0.8"/><circle cx="411.66" cy="109.85" r="0.8"/><circle cx="411.62" cy="112.2" r="0.8"/><circle cx="411.57" cy="112.81" r="0.8"/><circle cx="411.6" cy="113.42" r="0.8"/><circle cx="411.61" cy="114.03" r="0.8"/><circle cx="411.61" cy="114.64" r="0.8"/><circle cx="411.67" cy="115.25" r="0.8"/><circle cx="411.65" cy="115.86" r="0.8"/><circle cx="411.67" cy="116.47" r="0.8"/><circle cx="411.64" cy="117.08" r="0.8"/><circle cx="411.68" cy="117.69" r="0.8"/><circle cx="411.64" cy="118.3" r="0.8"/><circle cx="411.68" cy="118.91" r="0.8"/><circle cx="411.66" cy="119.52" r="0.8"/><circle cx="411.67" cy="120.13" r="0.8"/><circle cx="411.63" cy="120.74" r="0.8"/><circle cx="411.57" cy="121.34" r="0.8"/><circle cx="411.56" cy="121.95" r="0.8"/><circle cx="411.65" cy="42" r="0.8"/><circle cx="411.65" cy="46.8" r="0.8"/><circle cx="411.62" cy="129.3" r="0.8"/><circle cx="411.61" cy="131" r="0.8"/><circle cx="411.77" cy="133" r="0.8"/><circle cx="411.57" cy="134.7" r="0.8"/><circle cx="411.63" cy="136.4" r="0.8"/><circle cx="411.63" cy="150.5" r="0.8"/><circle cx="419.54" cy="63.8" r="0.8"/><circle cx="419.53" cy="96.7" r="0.8"/><circle cx="427.54" cy="55.4" r="0.8"/><circle cx="427.54" cy="56" r="0.8"/><circle cx="427.6" cy="56.61" r="0.8"/><circle cx="427.5" cy="57.21" r="0.8"/><circle cx="427.58" cy="57.81" r="0.8"/><circle cx="427.63" cy="58.42" r="0.8"/><circle cx="427.6" cy="59.02" r="0.8"/><circle cx="427.5" cy="59.62" r="0.8"/><circle cx="427.41" cy="60.23" r="0.8"/><circle cx="427.6" cy="60.83" r="0.8"/><circle cx="427.58" cy="61.43" r="0.8"/><circle cx="427.53" cy="62.03" r="0.8"/><circle cx="427.62" cy="62.64" r="0.8"/><circle cx="427.54" cy="63.24" r="0.8"/><circle cx="427.57" cy="63.84" r="0.8"/><circle cx="427.51" cy="64.45" r="0.8"/><circle cx="427.58" cy="65.05" r="0.8"/><circle cx="427.54" cy="65.65" r="0.8"/><circle cx="427.53" cy="66.26" r="0.8"/><circle cx="427.61" cy="66.86" r="0.8"/><circle cx="427.57" cy="67.46" r="0.8"/><circle cx="427.6" cy="69.82" r="0.8"/><circle cx="427.52" cy="70.49" r="0.8"/><circle cx="427.54" cy="71.17" r="0.8"/><circle cx="427.56" cy="71.84" r="0.8"/><circle cx="427.55" cy="72.51" r="0.8"/><circle cx="427.57" cy="73.19" r="0.8"/><circle cx="427.59" cy="73.86" r="0.8"/><circle cx="427.54" cy="74.53" r="0.8"/><circle cx="427.53" cy="77.11" r="0.8"/><circle cx="427.66" cy="77.71" r="0.8"/><circle cx="427.68" cy="78.31" r="0.8"/><circle cx="427.56" cy="78.91" r="0.8"/><circle cx="427.55" cy="79.51" r="0.8"/><circle cx="427.51" cy="80.11" r="0.8"/><circle cx="427.62" cy="80.72" r="0.8"/><circle cx="427.57" cy="81.32" r="0.8"/><circle cx="427.52" cy="81.92" r="0.8"/><circle cx="427.58" cy="82.52" r="0.8"/><circle cx="427.63" cy="83.12" r="0.8"/><circle cx="427.59" cy="83.72" r="0.8"/><circle cx="427.67" cy="84.32" r="0.8"/><circle cx="427.62" cy="84.92" r="0.8"/><circle cx="427.58" cy="85.52" r="0.8"/><circle cx="427.56" cy="86.12" r="0.8"/><circle cx="427.59" cy="86.72" r="0.8"/><circle cx="427.62" cy="87.32" r="0.8"/><circle cx="427.6" cy="87.92" r="0.8"/><circle cx="427.61" cy="88.52" r="0.8"/><circle cx="427.57" cy="89.12" r="0.8"/><circle cx="427.55" cy="90.96" r="0.8"/><circle cx="427.5" cy="91.6" r="0.8"/><circle cx="427.65" cy="92.23" r="0.8"/><circle cx="427.59" cy="92.87" r="0.8"/><circle cx="427.54" cy="93.5" r="0.8"/><circle cx="427.57" cy="94.13" r="0.8"/><circle cx="427.55" cy="94.77" r="0.8"/><circle cx="427.47" cy="95.4" r="0.8"/><circle cx="427.55" cy="96.04" r="0.8"/><circle cx="427.49" cy="96.67" r="0.8"/><circle cx="427.57" cy="97.31" r="0.8"/><circle cx="427.55" cy="99.31" r="0.8"/><circle cx="427.58" cy="99.94" r="0.8"/><circle cx="427.55" cy="100.56" r="0.8"/><circle cx="427.54" cy="101.18" r="0.8"/><circle cx="427.49" cy="101.8" r="0.8"/><circle cx="427.61" cy="102.42" r="0.8"/><circle cx="427.57" cy="103.04" r="0.8"/><circle cx="427.53" cy="103.66" r="0.8"/><circle cx="427.57" cy="104.28" r="0.8"/><circle cx="427.54" cy="104.9" r="0.8"/><circle cx="427.52" cy="105.52" r="0.8"/><circle cx="427.57" cy="106.14" r="0.8"/><circle cx="427.62" cy="106.76" r="0.8"/><circle cx="427.55" cy="107.38" r="0.8"/><circle cx="427.49" cy="108" r="0.8"/><circle cx="427.53" cy="108.62" r="0.8"/><circle cx="427.65" cy="109.25" r="0.8"/><circle cx="427.55" cy="111.39" r="0.8"/><circle cx="427.6" cy="112.2" r="0.8"/><circle cx="427.55" cy="113" r="0.8"/><circle cx="427.54" cy="47.6" r="0.8"/><circle cx="427.67" cy="51.5" r="0.8"/><circle cx="427.55" cy="150.5" r="0.8"/><circle cx="435.51" cy="98" r="0.8"/><circle cx="435.52" cy="98.62" r="0.8"/><circle cx="435.54" cy="99.24" r="0.8"/><circle cx="435.55" cy="99.86" r="0.8"/><circle cx="435.64" cy="100.48" r="0.8"/><circle cx="435.52" cy="101.11" r="0.8"/><circle cx="435.52" cy="101.73" r="0.8"/><circle cx="435.49" cy="102.35" r="0.8"/><circle cx="435.46" cy="102.97" r="0.8"/><circle cx="435.44" cy="103.59" r="0.8"/><circle cx="435.43" cy="76.2" r="0.8"/><circle cx="435.6" cy="83.5" r="0.8"/><circle cx="435.57" cy="85" r="0.8"/><circle cx="435.51" cy="86.5" r="0.8"/><circle cx="435.47" cy="92.4" r="0.8"/><circle cx="435.53" cy="108" r="0.8"/><circle cx="435.53" cy="111" r="0.8"/><circle cx="435.58" cy="114" r="0.8"/><circle cx="435.49" cy="118" r="0.8"/><circle cx="435.51" cy="119.5" r="0.8"/><circle cx="443.48" cy="73" r="0.8"/><circle cx="443.46" cy="73.65" r="0.8"/><circle cx="443.4" cy="74.31" r="0.8"/><circle cx="443.41" cy="74.96" r="0.8"/><circle cx="443.46" cy="75.62" r="0.8"/><circle cx="443.48" cy="76.27" r="0.8"/><circle cx="443.54" cy="76.93" r="0.8"/><circle cx="443.61" cy="77.58" r="0.8"/><circle cx="443.58" cy="78.24" r="0.8"/><circle cx="443.51" cy="78.89" r="0.8"/><circle cx="443.58" cy="79.54" r="0.8"/><circle cx="443.61" cy="81.65" r="0.8"/><circle cx="443.44" cy="82.28" r="0.8"/><circle cx="443.47" cy="82.9" r="0.8"/><circle cx="443.48" cy="83.53" r="0.8"/><circle cx="443.56" cy="84.15" r="0.8"/><circle cx="443.46" cy="84.78" r="0.8"/><circle cx="443.53" cy="85.41" r="0.8"/><circle cx="443.47" cy="86.03" r="0.8"/><circle cx="443.43" cy="86.66" r="0.8"/><circle cx="443.5" cy="87.28" r="0.8"/><circle cx="443.5" cy="87.91" r="0.8"/><circle cx="443.43" cy="88.53" r="0.8"/><circle cx="443.45" cy="89.16" r="0.8"/><circle cx="443.45" cy="89.79" r="0.8"/><circle cx="443.54" cy="90.41" r="0.8"/><circle cx="443.51" cy="91.04" r="0.8"/><circle cx="443.5" cy="91.66" r="0.8"/><circle cx="443.51" cy="92.29" r="0.8"/><circle cx="443.47" cy="92.91" r="0.8"/><circle cx="443.51" cy="93.54" r="0.8"/><circle cx="443.46" cy="94.16" r="0.8"/><circle cx="443.5" cy="96.25" r="0.8"/><circle cx="443.49" cy="96.93" r="0.8"/><circle cx="443.54" cy="97.6" r="0.8"/><circle cx="443.48" cy="54.5" r="0.8"/><circle cx="443.51" cy="56" r="0.8"/><circle cx="443.44" cy="67.3" r="0.8"/><circle cx="443.5" cy="69.6" r="0.8"/><circle cx="443.47" cy="100.7" r="0.8"/><circle cx="443.43" cy="105" r="0.8"/><circle cx="443.55" cy="115.6" r="0.8"/><circle cx="443.42" cy="118" r="0.8"/><circle cx="443.54" cy="122.7" r="0.8"/><circle cx="443.47" cy="139" r="0.8"/><circle cx="443.44" cy="140.8" r="0.8"/><circle cx="451.41" cy="70.4" r="0.8"/><circle cx="451.42" cy="78.3" r="0.8"/><circle cx="451.41" cy="80.5" r="0.8"/><circle cx="451.47" cy="83" r="0.8"/><circle cx="451.36" cy="85.5" r="0.8"/><circle cx="451.52" cy="87.7" r="0.8"/><circle cx="451.5" cy="105.4" r="0.8"/><circle cx="459.37" cy="60.2" r="0.8"/><circle cx="459.3" cy="60.85" r="0.8"/><circle cx="459.39" cy="61.49" r="0.8"/><circle cx="459.41" cy="62.14" r="0.8"/><circle cx="459.44" cy="62.79" r="0.8"/><circle cx="459.39" cy="63.43" r="0.8"/><circle cx="459.42" cy="64.08" r="0.8"/><circle cx="459.43" cy="64.73" r="0.8"/><circle cx="459.34" cy="65.37" r="0.8"/><circle cx="459.51" cy="66.02" r="0.8"/><circle cx="459.36" cy="66.67" r="0.8"/><circle cx="459.38" cy="68.62" r="0.8"/><circle cx="459.42" cy="69.23" r="0.8"/><circle cx="459.5" cy="69.84" r="0.8"/><circle cx="459.41" cy="70.44" r="0.8"/><circle cx="459.47" cy="71.05" r="0.8"/><circle cx="459.44" cy="71.66" r="0.8"/><circle cx="459.43" cy="72.27" r="0.8"/><circle cx="459.46" cy="72.88" r="0.8"/><circle cx="459.41" cy="73.49" r="0.8"/><circle cx="459.41" cy="74.1" r="0.8"/><circle cx="459.47" cy="74.71" r="0.8"/><circle cx="459.43" cy="75.31" r="0.8"/><circle cx="459.45" cy="75.92" r="0.8"/><circle cx="459.36" cy="76.53" r="0.8"/><circle cx="459.42" cy="77.14" r="0.8"/><circle cx="459.44" cy="79.11" r="0.8"/><circle cx="459.39" cy="79.75" r="0.8"/><circle cx="459.39" cy="80.39" r="0.8"/><circle cx="459.44" cy="81.03" r="0.8"/><circle cx="459.49" cy="81.67" r="0.8"/><circle cx="459.42" cy="82.31" r="0.8"/><circle cx="459.49" cy="82.96" r="0.8"/><circle cx="459.41" cy="83.6" r="0.8"/><circle cx="459.48" cy="84.24" r="0.8"/><circle cx="459.37" cy="84.88" r="0.8"/><circle cx="459.43" cy="85.52" r="0.8"/><circle cx="459.37" cy="86.16" r="0.8"/><circle cx="459.37" cy="88.23" r="0.8"/><circle cx="459.38" cy="88.87" r="0.8"/><circle cx="459.4" cy="89.51" r="0.8"/><circle cx="459.35" cy="90.14" r="0.8"/><circle cx="459.37" cy="90.78" r="0.8"/><circle cx="459.38" cy="91.42" r="0.8"/><circle cx="459.46" cy="92.06" r="0.8"/><circle cx="459.49" cy="92.69" r="0.8"/><circle cx="459.4" cy="93.33" r="0.8"/><circle cx="459.41" cy="93.97" r="0.8"/><circle cx="459.43" cy="94.6" r="0.8"/><circle cx="459.39" cy="95.24" r="0.8"/><circle cx="459.41" cy="95.88" r="0.8"/><circle cx="459.46" cy="96.52" r="0.8"/><circle cx="459.39" cy="98.94" r="0.8"/><circle cx="459.49" cy="99.55" r="0.8"/><circle cx="459.39" cy="100.15" r="0.8"/><circle cx="459.43" cy="100.76" r="0.8"/><circle cx="459.37" cy="101.37" r="0.8"/><circle cx="459.39" cy="101.98" r="0.8"/><circle cx="459.43" cy="102.59" r="0.8"/><circle cx="459.4" cy="103.2" r="0.8"/><circle cx="459.45" cy="103.81" r="0.8"/><circle cx="459.42" cy="104.42" r="0.8"/><circle cx="459.35" cy="105.03" r="0.8"/><circle cx="459.31" cy="105.64" r="0.8"/><circle cx="459.47" cy="106.25" r="0.8"/><circle cx="459.39" cy="106.86" r="0.8"/><circle cx="459.49" cy="107.47" r="0.8"/><circle cx="459.42" cy="108.08" r="0.8"/><circle cx="459.38" cy="108.69" r="0.8"/><circle cx="459.45" cy="109.29" r="0.8"/><circle cx="459.41" cy="109.9" r="0.8"/><circle cx="459.42" cy="110.51" r="0.8"/><circle cx="459.48" cy="112.76" r="0.8"/><circle cx="459.39" cy="113.39" r="0.8"/><circle cx="459.51" cy="114.02" r="0.8"/><circle cx="459.39" cy="114.64" r="0.8"/><circle cx="459.43" cy="115.27" r="0.8"/><circle cx="459.34" cy="115.9" r="0.8"/><circle cx="459.32" cy="116.53" r="0.8"/><circle cx="459.53" cy="117.15" r="0.8"/><circle cx="459.49" cy="117.78" r="0.8"/><circle cx="459.48" cy="118.41" r="0.8"/><circle cx="459.34" cy="119.04" r="0.8"/><circle cx="459.43" cy="119.67" r="0.8"/><circle cx="459.44" cy="120.29" r="0.8"/><circle cx="459.42" cy="120.92" r="0.8"/><circle cx="459.44" cy="121.55" r="0.8"/><circle cx="459.37" cy="122.18" r="0.8"/><circle cx="459.41" cy="122.8" r="0.8"/><circle cx="459.44" cy="125.09" r="0.8"/><circle cx="459.38" cy="125.75" r="0.8"/><circle cx="459.41" cy="126.4" r="0.8"/><circle cx="459.4" cy="127.06" r="0.8"/><circle cx="459.42" cy="127.72" r="0.8"/><circle cx="459.47" cy="128.37" r="0.8"/><circle cx="459.43" cy="129.03" r="0.8"/><circle cx="459.44" cy="129.69" r="0.8"/><circle cx="459.35" cy="130.34" r="0.8"/><circle cx="459.4" cy="131" r="0.8"/><circle cx="459.38" cy="55.5" r="0.8"/><circle cx="459.4" cy="139" r="0.8"/><circle cx="459.37" cy="140.5" r="0.8"/><circle cx="459.49" cy="141.7" r="0.8"/><circle cx="459.4" cy="152.2" r="0.8"/><circle cx="475.31" cy="100" r="0.8"/><circle cx="491.34" cy="67.7" r="0.8"/><circle cx="491.31" cy="68.31" r="0.8"/><circle cx="491.33" cy="68.91" r="0.8"/><circle cx="491.29" cy="69.52" r="0.8"/><circle cx="491.27" cy="70.12" r="0.8"/><circle cx="491.26" cy="70.73" r="0.8"/><circle cx="491.26" cy="71.33" r="0.8"/><circle cx="491.25" cy="71.94" r="0.8"/><circle cx="491.3" cy="72.54" r="0.8"/><circle cx="491.27" cy="73.15" r="0.8"/><circle cx="491.28" cy="73.76" r="0.8"/><circle cx="491.31" cy="74.36" r="0.8"/><circle cx="491.28" cy="74.97" r="0.8"/><circle cx="491.21" cy="75.57" r="0.8"/><circle cx="491.24" cy="76.18" r="0.8"/><circle cx="491.22" cy="76.78" r="0.8"/><circle cx="491.19" cy="77.39" r="0.8"/><circle cx="491.29" cy="78" r="0.8"/><circle cx="491.22" cy="78.6" r="0.8"/><circle cx="491.32" cy="81.15" r="0.8"/><circle cx="491.26" cy="81.78" r="0.8"/><circle cx="491.33" cy="82.4" r="0.8"/><circle cx="491.28" cy="83.03" r="0.8"/><circle cx="491.26" cy="83.66" r="0.8"/><circle cx="491.31" cy="84.29" r="0.8"/><circle cx="491.31" cy="84.92" r="0.8"/><circle cx="491.29" cy="85.54" r="0.8"/><circle cx="491.23" cy="86.17" r="0.8"/><circle cx="491.26" cy="86.8" r="0.8"/><circle cx="491.22" cy="87.43" r="0.8"/><circle cx="491.27" cy="88.06" r="0.8"/><circle cx="491.28" cy="88.68" r="0.8"/><circle cx="491.35" cy="89.31" r="0.8"/><circle cx="491.35" cy="89.94" r="0.8"/><circle cx="491.31" cy="90.57" r="0.8"/><circle cx="491.33" cy="91.2" r="0.8"/><circle cx="491.29" cy="91.83" r="0.8"/><circle cx="491.42" cy="92.45" r="0.8"/><circle cx="491.3" cy="94.63" r="0.8"/><circle cx="491.3" cy="95.24" r="0.8"/><circle cx="491.33" cy="95.84" r="0.8"/><circle cx="491.29" cy="96.44" r="0.8"/><circle cx="491.3" cy="97.05" r="0.8"/><circle cx="491.23" cy="97.65" r="0.8"/><circle cx="491.33" cy="98.25" r="0.8"/><circle cx="491.29" cy="98.86" r="0.8"/><circle cx="491.32" cy="99.46" r="0.8"/><circle cx="491.27" cy="100.06" r="0.8"/><circle cx="491.19" cy="100.67" r="0.8"/><circle cx="491.31" cy="101.27" r="0.8"/><circle cx="491.34" cy="101.87" r="0.8"/><circle cx="491.22" cy="102.48" r="0.8"/><circle cx="491.23" cy="103.08" r="0.8"/><circle cx="491.27" cy="103.68" r="0.8"/><circle cx="491.27" cy="104.29" r="0.8"/><circle cx="491.2" cy="104.89" r="0.8"/><circle cx="491.37" cy="105.49" r="0.8"/><circle cx="491.33" cy="106.1" r="0.8"/><circle cx="491.25" cy="106.7" r="0.8"/><circle cx="491.19" cy="107.3" r="0.8"/><circle cx="491.32" cy="109.76" r="0.8"/><circle cx="491.34" cy="110.41" r="0.8"/><circle cx="491.23" cy="111.06" r="0.8"/><circle cx="491.29" cy="111.71" r="0.8"/><circle cx="491.21" cy="112.36" r="0.8"/><circle cx="491.38" cy="113.01" r="0.8"/><circle cx="491.31" cy="113.66" r="0.8"/><circle cx="491.17" cy="114.3" r="0.8"/><circle cx="491.19" cy="114.95" r="0.8"/><circle cx="491.3" cy="115.6" r="0.8"/><circle cx="491.29" cy="116.25" r="0.8"/><circle cx="491.38" cy="118.08" r="0.8"/><circle cx="491.3" cy="118.74" r="0.8"/><circle cx="491.19" cy="119.4" r="0.8"/><circle cx="491.27" cy="120.05" r="0.8"/><circle cx="491.21" cy="120.71" r="0.8"/><circle cx="491.24" cy="121.37" r="0.8"/><circle cx="491.3" cy="122.03" r="0.8"/><circle cx="491.27" cy="122.68" r="0.8"/><circle cx="491.23" cy="123.34" r="0.8"/><circle cx="491.28" cy="124" r="0.8"/><circle cx="491.31" cy="126" r="0.8"/><circle cx="491.27" cy="128.3" r="0.8"/><circle cx="491.3" cy="130.6" r="0.8"/><circle cx="491.27" cy="132.6" r="0.8"/><circle cx="491.32" cy="140" r="0.8"/><circle cx="491.27" cy="141.5" r="0.8"/><circle cx="491.28" cy="143" r="0.8"/><circle cx="491.25" cy="159.4" r="0.8"/></g>
<polygon points="290.23,42.69 292.11,43.12 294,43.73 295.89,44.41 297.78,44.99 299.67,45.48 301.56,45.88 303.45,46.17 305.34,46.44 307.23,46.7 309.12,46.96 311.01,47.21 312.9,47.46 314.79,47.71 316.68,47.97 318.56,48.23 320.45,48.49 322.34,48.76 324.23,49.02 326.12,49.28 328.01,49.54 329.9,49.8 331.79,50.07 333.68,50.33 335.57,50.59 337.46,50.86 339.35,51.12 341.24,51.38 343.12,51.64 345.01,51.91 346.9,52.17 348.79,52.44 350.68,52.7 352.57,52.96 354.46,53.23 356.35,53.49 358.24,53.72 360.13,53.92 362.02,54.1 363.91,54.25 365.8,54.37 367.69,54.49 369.58,54.61 371.46,54.73 373.35,54.85 375.24,54.97 377.13,55.09 379.02,55.21 380.91,55.3 382.8,55.37 382.8,60.87 380.91,60.76 379.02,60.63 377.13,60.47 375.24,60.3 373.35,60.14 371.46,59.98 369.58,59.82 367.69,59.66 365.8,59.5 363.91,59.33 362.02,59.14 360.13,58.92 358.24,58.67 356.35,58.38 354.46,58.07 352.57,57.75 350.68,57.43 348.79,57.11 346.9,56.79 345.01,56.47 343.12,56.15 341.24,55.83 339.35,55.52 337.46,55.2 335.57,54.88 333.68,54.58 331.79,54.27 329.9,53.97 328.01,53.66 326.12,53.36 324.23,53.05 322.34,52.75 320.45,52.44 318.56,52.14 316.68,51.83 314.79,51.53 312.9,51.21 311.01,50.89 309.12,50.57 307.23,50.25 305.34,49.91 303.45,49.58 301.56,49.21 299.67,48.74 297.78,48.17 295.89,47.49 294,46.72 292.11,46.02 290.23,45.49" fill="rgb(238,135,145)" fill-opacity="0.5" clip-path="url(#cbleft)"/>
<polygon points="290.23,59.37 292.11,59.52 294,59.72 295.89,59.97 297.78,60.2 299.67,60.4 301.56,60.58 303.45,60.74 305.34,60.89 307.23,61.05 309.12,61.2 311.01,61.36 312.9,61.51 314.79,61.67 316.68,61.84 318.56,62.01 320.45,62.19 322.34,62.36 324.23,62.53 326.12,62.7 328.01,62.87 329.9,63.05 331.79,63.22 333.68,63.4 335.57,63.6 337.46,63.82 339.35,64.05 341.24,64.3 343.12,64.55 345.01,64.8 346.9,65.05 348.79,65.31 350.68,65.56 352.57,65.81 354.46,66.06 356.35,66.31 358.24,66.53 360.13,66.73 362.02,66.91 363.91,67.06 365.8,67.18 367.69,67.31 369.58,67.43 371.46,67.55 373.35,67.68 375.24,67.8 377.13,67.93 379.02,68.05 380.91,68.15 382.8,68.22 382.8,73.22 380.91,73.11 379.02,72.99 377.13,72.83 375.24,72.67 373.35,72.51 371.46,72.36 369.58,72.2 367.69,72.04 365.8,71.88 363.91,71.73 362.02,71.54 360.13,71.33 358.24,71.09 356.35,70.82 354.46,70.52 352.57,70.22 350.68,69.92 348.79,69.63 346.9,69.33 345.01,69.03 343.12,68.73 341.24,68.43 339.35,68.13 337.46,67.86 335.57,67.6 333.68,67.36 331.79,67.14 329.9,66.93 328.01,66.73 326.12,66.52 324.23,66.32 322.34,66.11 320.45,65.9 318.56,65.7 316.68,65.49 314.79,65.29 312.9,65.07 311.01,64.84 309.12,64.62 307.23,64.39 305.34,64.17 303.45,63.94 301.56,63.71 299.67,63.46 297.78,63.19 295.89,62.91 294,62.62 292.11,62.37 290.23,62.17" fill="rgb(238,135,145)" fill-opacity="0.5" clip-path="url(#cbleft)"/>
<polygon points="290.23,71.4 292.11,71.55 294,71.77 295.89,72.06 297.78,72.36 299.67,72.66 301.56,72.97 303.45,73.25 305.34,73.5 307.23,73.71 309.12,73.88 311.01,74.01 312.9,74.13 314.79,74.27 316.68,74.42 318.56,74.57 320.45,74.73 322.34,74.88 324.23,75.04 326.12,75.19 328.01,75.35 329.9,75.5 331.79,75.66 333.68,75.83 335.57,76.04 337.46,76.27 339.35,76.54 341.24,76.83 343.12,77.13 345.01,77.43 346.9,77.73 348.79,78.03 350.68,78.32 352.57,78.62 354.46,78.92 356.35,79.22 358.24,79.49 360.13,79.73 362.02,79.94 363.91,80.13 365.8,80.28 367.69,80.44 369.58,80.6 371.46,80.76 373.35,80.91 375.24,81.07 377.13,81.23 379.02,81.39 380.91,81.51 382.8,81.59 382.8,87.19 380.91,87.06 379.02,86.89 377.13,86.68 375.24,86.47 373.35,86.26 371.46,86.06 369.58,85.85 367.69,85.64 365.8,85.44 363.91,85.23 362.02,85 360.13,84.73 358.24,84.45 356.35,84.13 354.46,83.78 352.57,83.44 350.68,83.09 348.79,82.75 346.9,82.4 345.01,82.05 343.12,81.71 341.24,81.36 339.35,81.02 337.46,80.71 335.57,80.43 333.68,80.19 331.79,79.98 329.9,79.79 328.01,79.6 326.12,79.41 324.23,79.22 322.34,79.03 320.45,78.85 318.56,78.66 316.68,78.47 314.79,78.28 312.9,78.08 311.01,77.86 309.12,77.64 307.23,77.37 305.34,77.07 303.45,76.72 301.56,76.34 299.67,75.94 297.78,75.54 295.89,75.15 294,74.76 292.11,74.45 290.23,74.2" fill="rgb(238,135,145)" fill-opacity="0.5" clip-path="url(#cbleft)"/>
<line x1="283" y1="116" x2="289.93" y2="43.6" stroke="#f0a9b1" stroke-width="0.3" clip-path="url(#cbleft)"/>
<line x1="283.6" y1="118" x2="289.93" y2="60.6" stroke="#f0a9b1" stroke-width="0.3" clip-path="url(#cbleft)"/>
<line x1="284.2" y1="120" x2="289.93" y2="72.6" stroke="#f0a9b1" stroke-width="0.3" clip-path="url(#cbleft)"/>
<polygon points="403.66,59.27 405.51,59.8 407.36,60.51 409.21,61.38 411.06,62.19 412.91,62.96 414.76,63.68 416.61,64.35 418.46,65 420.31,65.65 422.16,66.27 424.01,66.84 425.86,67.34 427.71,67.8 429.56,68.19 431.41,68.55 433.26,68.91 435.11,69.27 436.96,69.63 438.81,69.99 440.66,70.35 442.51,70.71 444.36,71.05 446.21,71.39 448.06,71.72 449.91,72.03 451.76,72.35 453.61,72.66 455.46,72.97 457.31,73.29 459.16,73.6 461.01,73.91 462.86,74.23 464.7,74.54 466.55,74.84 468.4,75.13 470.25,75.42 472.1,75.69 473.95,75.96 475.8,76.23 477.65,76.49 479.5,76.76 481.35,77.03 483.2,77.3 485.05,77.56 486.9,77.83 488.75,78.1 490.6,78.37 492.45,78.58 494.3,78.73 494.3,84.13 492.45,83.95 490.6,83.71 488.75,83.41 486.9,83.12 485.05,82.82 483.2,82.53 481.35,82.23 479.5,81.94 477.65,81.64 475.8,81.35 473.95,81.05 472.1,80.76 470.25,80.45 468.4,80.14 466.55,79.82 464.7,79.48 462.86,79.14 461.01,78.79 459.16,78.45 457.31,78.1 455.46,77.75 453.61,77.41 451.76,77.06 449.91,76.72 448.06,76.37 446.21,76.01 444.36,75.64 442.51,75.26 440.66,74.87 438.81,74.47 436.96,74.07 435.11,73.67 433.26,73.28 431.41,72.88 429.56,72.48 427.71,72.05 425.86,71.56 424.01,71.01 422.16,70.39 420.31,69.71 418.46,69.01 416.61,68.3 414.76,67.58 412.91,66.8 411.06,65.96 409.21,65.06 407.36,64.1 405.51,63.29 403.66,62.67" fill="rgb(238,135,145)" fill-opacity="0.5" clip-path="url(#cbright)"/>
<polygon points="403.66,76.54 405.51,77.04 407.36,77.72 409.21,78.54 411.06,79.3 412.91,80.01 414.76,80.67 416.61,81.27 418.46,81.85 420.31,82.43 422.16,82.99 424.01,83.53 425.86,84.05 427.71,84.54 429.56,84.99 431.41,85.44 433.26,85.88 435.11,86.33 436.96,86.77 438.81,87.21 440.66,87.66 442.51,88.09 444.36,88.52 446.21,88.93 448.06,89.33 449.91,89.72 451.76,90.11 453.61,90.5 455.46,90.88 457.31,91.27 459.16,91.65 461.01,92.04 462.86,92.43 464.7,92.81 466.55,93.16 468.4,93.48 470.25,93.78 472.1,94.05 473.95,94.29 475.8,94.54 477.65,94.78 479.5,95.03 481.35,95.28 483.2,95.52 485.05,95.77 486.9,96.02 488.75,96.26 490.6,96.51 492.45,96.7 494.3,96.84 494.3,102.44 492.45,102.26 490.6,102.02 488.75,101.73 486.9,101.45 485.05,101.16 483.2,100.87 481.35,100.58 479.5,100.29 477.65,100 475.8,99.72 473.95,99.43 472.1,99.14 470.25,98.83 468.4,98.49 466.55,98.13 464.7,97.75 462.86,97.34 461.01,96.92 459.16,96.5 457.31,96.08 455.46,95.66 453.61,95.25 451.76,94.83 449.91,94.41 448.06,93.99 446.21,93.55 444.36,93.11 442.51,92.64 440.66,92.17 438.81,91.69 436.96,91.21 435.11,90.73 433.26,90.25 431.41,89.77 429.56,89.29 427.71,88.79 425.86,88.26 424.01,87.7 422.16,87.11 420.31,86.49 418.46,85.85 416.61,85.21 414.76,84.56 412.91,83.85 411.06,83.07 409.21,82.22 407.36,81.3 405.51,80.53 403.66,79.94" fill="rgb(238,135,145)" fill-opacity="0.5" clip-path="url(#cbright)"/>
<polygon points="403.66,93.41 405.51,93.98 407.36,94.75 409.21,95.71 411.06,96.64 412.91,97.56 414.76,98.45 416.61,99.31 418.46,100.17 420.31,101.03 422.16,101.85 424.01,102.59 425.86,103.25 427.71,103.82 429.56,104.32 431.41,104.77 433.26,105.22 435.11,105.68 436.96,106.13 438.81,106.58 440.66,107.04 442.51,107.48 444.36,107.89 446.21,108.3 448.06,108.68 449.91,109.04 451.76,109.39 453.61,109.75 455.46,110.1 457.31,110.45 459.16,110.81 461.01,111.16 462.86,111.52 464.7,111.86 466.55,112.18 468.4,112.47 470.25,112.72 472.1,112.95 473.95,113.16 475.8,113.36 477.65,113.56 479.5,113.77 481.35,113.97 483.2,114.18 485.05,114.38 486.9,114.58 488.75,114.79 490.6,114.99 492.45,115.15 494.3,115.26 494.3,122.86 492.45,122.68 490.6,122.45 488.75,122.18 486.9,121.9 485.05,121.63 483.2,121.35 481.35,121.08 479.5,120.81 477.65,120.53 475.8,120.26 473.95,119.98 472.1,119.71 470.25,119.41 468.4,119.08 466.55,118.72 464.7,118.32 462.86,117.89 461.01,117.46 459.16,117.02 457.31,116.59 455.46,116.15 453.61,115.72 451.76,115.29 449.91,114.85 448.06,114.41 446.21,113.95 444.36,113.46 442.51,112.95 440.66,112.42 438.81,111.87 436.96,111.33 435.11,110.78 433.26,110.24 431.41,109.69 429.56,109.15 427.71,108.56 425.86,107.89 424.01,107.14 422.16,106.32 420.31,105.42 418.46,104.48 416.61,103.53 414.76,102.59 412.91,101.61 411.06,100.61 409.21,99.59 407.36,98.54 405.51,97.67 403.66,97.01" fill="rgb(238,135,145)" fill-opacity="0.5" clip-path="url(#cbright)"/>
<line x1="396.8" y1="118" x2="403.36" y2="60.4" stroke="#f0a9b1" stroke-width="0.3" clip-path="url(#cbright)"/>
<line x1="397.2" y1="121" x2="403.36" y2="77.7" stroke="#f0a9b1" stroke-width="0.3" clip-path="url(#cbright)"/>
<line x1="397.6" y1="124" x2="403.36" y2="94.6" stroke="#f0a9b1" stroke-width="0.3" clip-path="url(#cbright)"/>
<line x1="392.3" y1="92" x2="501" y2="92" stroke="#4ea24e" stroke-width="1.0" stroke-dasharray="1.2 2.5" clip-path="url(#cbright)"/>
<line x1="392.3" y1="107.2" x2="501" y2="107.2" stroke="#4ea24e" stroke-width="1.0" stroke-dasharray="1.2 2.5" clip-path="url(#cbright)"/>
<rect x="277.5" y="35.5" width="110.7" height="147.7" fill="none" stroke="#1e1e1e" stroke-width="1.2"/>
<rect x="391.2" y="35.5" width="110.1" height="147.7" fill="none" stroke="#1e1e1e" stroke-width="1.2"/>
<line x1="274" y1="38.24" x2="277.5" y2="38.24" stroke="#1e1e1e" stroke-width="0.8"/>
<text x="272" y="40.74" font-size="7.2" text-anchor="end" fill="#333">3.0</text>
<line x1="274" y1="82.9" x2="277.5" y2="82.9" stroke="#1e1e1e" stroke-width="0.8"/>
<text x="272" y="85.4" font-size="7.2" text-anchor="end" fill="#333">1.0</text>
<line x1="274" y1="131.84" x2="277.5" y2="131.84" stroke="#1e1e1e" stroke-width="0.8"/>
<text x="272" y="134.34" font-size="7.2" text-anchor="end" fill="#333">0.3</text>
<line x1="274" y1="176.5" x2="277.5" y2="176.5" stroke="#1e1e1e" stroke-width="0.8"/>
<text x="272" y="179" font-size="7.2" text-anchor="end" fill="#333">0.1</text>
<text x="504.7" y="40.74" font-size="7.2" text-anchor="start" fill="#333">3.0</text>
<text x="504.7" y="85.4" font-size="7.2" text-anchor="start" fill="#333">1.0</text>
<text x="504.7" y="134.34" font-size="7.2" text-anchor="start" fill="#333">0.3</text>
<text x="504.7" y="179" font-size="7.2" text-anchor="start" fill="#333">0.1</text>
<text x="504.7" y="94.5" font-size="7.2" text-anchor="start" fill="#6aa86e">0.8</text>
<text x="504.7" y="109.6" font-size="7.2" text-anchor="start" fill="#6aa86e">0.5</text>
<line x1="282.3" y1="183.5" x2="282.3" y2="186" stroke="#1e1e1e" stroke-width="0.8"/>
<text x="282.3" y="195" font-size="7.2" text-anchor="middle" fill="#333">0</text>
<line x1="314" y1="183.5" x2="314" y2="186" stroke="#1e1e1e" stroke-width="0.8"/>
<text x="314" y="195" font-size="7.2" text-anchor="middle" fill="#333">2</text>
<line x1="345.7" y1="183.5" x2="345.7" y2="186" stroke="#1e1e1e" stroke-width="0.8"/>
<text x="345.7" y="195" font-size="7.2" text-anchor="middle" fill="#333">4</text>
<line x1="377.4" y1="183.5" x2="377.4" y2="186" stroke="#1e1e1e" stroke-width="0.8"/>
<text x="377.4" y="195" font-size="7.2" text-anchor="middle" fill="#333">6</text>
<line x1="395.7" y1="183.5" x2="395.7" y2="186" stroke="#1e1e1e" stroke-width="0.8"/>
<text x="395.7" y="195" font-size="7.2" text-anchor="middle" fill="#333">0</text>
<line x1="427.56" y1="183.5" x2="427.56" y2="186" stroke="#1e1e1e" stroke-width="0.8"/>
<text x="427.56" y="195" font-size="7.2" text-anchor="middle" fill="#333">2</text>
<line x1="459.42" y1="183.5" x2="459.42" y2="186" stroke="#1e1e1e" stroke-width="0.8"/>
<text x="459.42" y="195" font-size="7.2" text-anchor="middle" fill="#333">4</text>
<line x1="491.28" y1="183.5" x2="491.28" y2="186" stroke="#1e1e1e" stroke-width="0.8"/>
<text x="491.28" y="195" font-size="7.2" text-anchor="middle" fill="#333">6</text>
<text x="332.6" y="28.5" font-size="8.6" text-anchor="middle" fill="#222" stroke="#222" stroke-width="0.15" textLength="30.8" lengthAdjust="spacingAndGlyphs">VWF:Ag</text>
<text x="446.4" y="28.8" font-size="8.6" text-anchor="middle" fill="#222" stroke="#222" stroke-width="0.15" textLength="24" lengthAdjust="spacingAndGlyphs">FVIII:C</text>
<text x="391" y="207.4" font-size="9" text-anchor="middle" fill="#222" stroke="#222" stroke-width="0.25" textLength="117" lengthAdjust="spacingAndGlyphs">Time after the DDAVP administration (h)</text>
<text transform="translate(258 107.4) rotate(-90)" font-size="9" text-anchor="middle" fill="#222" stroke="#222" stroke-width="0.25" textLength="96" lengthAdjust="spacingAndGlyphs">VWF:Ag or FVIII:C levels (IU/mL)</text>
<rect x="0.5" y="0.5" width="519" height="254" fill="none" stroke="#4a4a4a" stroke-width="1"/></svg>
</body></html>
